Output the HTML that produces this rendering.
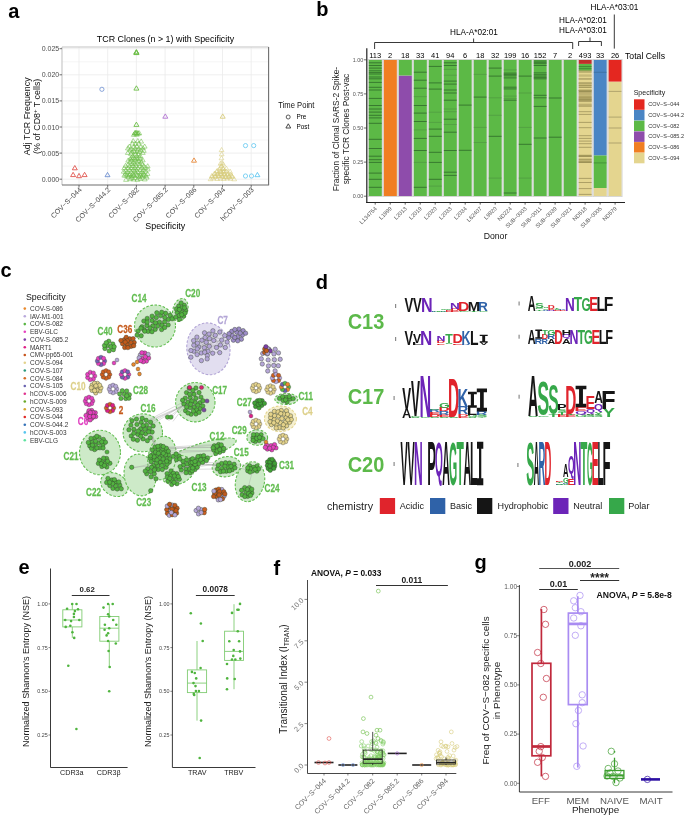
<!DOCTYPE html>
<html><head><meta charset="utf-8"><style>
html,body{margin:0;padding:0;background:#fff;}
svg{display:block;font-family:"Liberation Sans", sans-serif;will-change:transform;}
</style></head><body>
<svg width="685" height="816" viewBox="0 0 685 816">
<rect width="685" height="816" fill="#fff"/>
<text x="8.2" y="18.0" font-size="20" fill="#000" text-anchor="start" font-weight="bold" >a</text>
<text x="316.2" y="15.8" font-size="20" fill="#000" text-anchor="start" font-weight="bold" >b</text>
<text x="0.5" y="276.5" font-size="20" fill="#000" text-anchor="start" font-weight="bold" >c</text>
<text x="315.8" y="288.6" font-size="20" fill="#000" text-anchor="start" font-weight="bold" >d</text>
<text x="18.4" y="573.5" font-size="20" fill="#000" text-anchor="start" font-weight="bold" >e</text>
<text x="273.4" y="575.4" font-size="20" fill="#000" text-anchor="start" font-weight="bold" >f</text>
<text x="474.5" y="568.5" font-size="20" fill="#000" text-anchor="start" font-weight="bold" >g</text>
<rect x="62.0" y="47.0" width="206.6" height="138.0" fill="#fff" stroke="none" stroke-width="1" />
<line x1="62.0" y1="179.2" x2="268.6" y2="179.2" stroke="#ebebeb" stroke-width="0.8" />
<line x1="62.0" y1="166.1" x2="268.6" y2="166.1" stroke="#ebebeb" stroke-width="0.5" />
<line x1="62.0" y1="153.1" x2="268.6" y2="153.1" stroke="#ebebeb" stroke-width="0.8" />
<line x1="62.0" y1="140.0" x2="268.6" y2="140.0" stroke="#ebebeb" stroke-width="0.5" />
<line x1="62.0" y1="127.0" x2="268.6" y2="127.0" stroke="#ebebeb" stroke-width="0.8" />
<line x1="62.0" y1="113.9" x2="268.6" y2="113.9" stroke="#ebebeb" stroke-width="0.5" />
<line x1="62.0" y1="100.9" x2="268.6" y2="100.9" stroke="#ebebeb" stroke-width="0.8" />
<line x1="62.0" y1="87.8" x2="268.6" y2="87.8" stroke="#ebebeb" stroke-width="0.5" />
<line x1="62.0" y1="74.8" x2="268.6" y2="74.8" stroke="#ebebeb" stroke-width="0.8" />
<line x1="62.0" y1="61.8" x2="268.6" y2="61.8" stroke="#ebebeb" stroke-width="0.5" />
<line x1="62.0" y1="48.7" x2="268.6" y2="48.7" stroke="#ebebeb" stroke-width="0.8" />
<line x1="79.0" y1="47.0" x2="79.0" y2="185.0" stroke="#ebebeb" stroke-width="0.8" />
<line x1="107.7" y1="47.0" x2="107.7" y2="185.0" stroke="#ebebeb" stroke-width="0.8" />
<line x1="136.4" y1="47.0" x2="136.4" y2="185.0" stroke="#ebebeb" stroke-width="0.8" />
<line x1="165.1" y1="47.0" x2="165.1" y2="185.0" stroke="#ebebeb" stroke-width="0.8" />
<line x1="193.8" y1="47.0" x2="193.8" y2="185.0" stroke="#ebebeb" stroke-width="0.8" />
<line x1="222.5" y1="47.0" x2="222.5" y2="185.0" stroke="#ebebeb" stroke-width="0.8" />
<line x1="251.2" y1="47.0" x2="251.2" y2="185.0" stroke="#ebebeb" stroke-width="0.8" />
<line x1="62.0" y1="47.0" x2="268.6" y2="47.0" stroke="#c4c4c4" stroke-width="1.1" />
<line x1="62.0" y1="47.0" x2="62.0" y2="185.0" stroke="#c4c4c4" stroke-width="1.1" />
<line x1="268.6" y1="47.0" x2="268.6" y2="185.0" stroke="#6e6e6e" stroke-width="1.1" />
<line x1="62.0" y1="185.0" x2="269.1" y2="185.0" stroke="#6e6e6e" stroke-width="1.1" />
<line x1="59.5" y1="179.2" x2="62.0" y2="179.2" stroke="#4d4d4d" stroke-width="0.8" />
<text x="59.2" y="181.7" font-size="7.0" fill="#4d4d4d" text-anchor="end" font-weight="normal" >0.000</text>
<line x1="59.5" y1="153.1" x2="62.0" y2="153.1" stroke="#4d4d4d" stroke-width="0.8" />
<text x="59.2" y="155.6" font-size="7.0" fill="#4d4d4d" text-anchor="end" font-weight="normal" >0.005</text>
<line x1="59.5" y1="127.0" x2="62.0" y2="127.0" stroke="#4d4d4d" stroke-width="0.8" />
<text x="59.2" y="129.5" font-size="7.0" fill="#4d4d4d" text-anchor="end" font-weight="normal" >0.010</text>
<line x1="59.5" y1="100.9" x2="62.0" y2="100.9" stroke="#4d4d4d" stroke-width="0.8" />
<text x="59.2" y="103.4" font-size="7.0" fill="#4d4d4d" text-anchor="end" font-weight="normal" >0.015</text>
<line x1="59.5" y1="74.8" x2="62.0" y2="74.8" stroke="#4d4d4d" stroke-width="0.8" />
<text x="59.2" y="77.3" font-size="7.0" fill="#4d4d4d" text-anchor="end" font-weight="normal" >0.020</text>
<line x1="59.5" y1="48.7" x2="62.0" y2="48.7" stroke="#4d4d4d" stroke-width="0.8" />
<text x="59.2" y="51.2" font-size="7.0" fill="#4d4d4d" text-anchor="end" font-weight="normal" >0.025</text>
<line x1="79.0" y1="185.0" x2="79.0" y2="187.5" stroke="#4d4d4d" stroke-width="0.8" />
<text x="82.2" y="190.2" font-size="7.1" fill="#4d4d4d" text-anchor="end" font-weight="normal" transform="rotate(-45 82.2 190.2)" >COV−S−044</text>
<line x1="107.7" y1="185.0" x2="107.7" y2="187.5" stroke="#4d4d4d" stroke-width="0.8" />
<text x="110.9" y="190.2" font-size="7.1" fill="#4d4d4d" text-anchor="end" font-weight="normal" transform="rotate(-45 110.9 190.2)" >COV−S−044.2</text>
<line x1="136.4" y1="185.0" x2="136.4" y2="187.5" stroke="#4d4d4d" stroke-width="0.8" />
<text x="139.6" y="190.2" font-size="7.1" fill="#4d4d4d" text-anchor="end" font-weight="normal" transform="rotate(-45 139.6 190.2)" >COV−S−082</text>
<line x1="165.1" y1="185.0" x2="165.1" y2="187.5" stroke="#4d4d4d" stroke-width="0.8" />
<text x="168.3" y="190.2" font-size="7.1" fill="#4d4d4d" text-anchor="end" font-weight="normal" transform="rotate(-45 168.29999999999998 190.2)" >COV−S−085.2</text>
<line x1="193.8" y1="185.0" x2="193.8" y2="187.5" stroke="#4d4d4d" stroke-width="0.8" />
<text x="197.0" y="190.2" font-size="7.1" fill="#4d4d4d" text-anchor="end" font-weight="normal" transform="rotate(-45 197.0 190.2)" >COV−S−086</text>
<line x1="222.5" y1="185.0" x2="222.5" y2="187.5" stroke="#4d4d4d" stroke-width="0.8" />
<text x="225.7" y="190.2" font-size="7.1" fill="#4d4d4d" text-anchor="end" font-weight="normal" transform="rotate(-45 225.7 190.2)" >COV−S−094</text>
<line x1="251.2" y1="185.0" x2="251.2" y2="187.5" stroke="#4d4d4d" stroke-width="0.8" />
<text x="254.4" y="190.2" font-size="7.1" fill="#4d4d4d" text-anchor="end" font-weight="normal" transform="rotate(-45 254.39999999999998 190.2)" >hCOV−S−003</text>
<text x="165.5" y="42.0" font-size="8.9" fill="#000" text-anchor="middle" font-weight="normal" >TCR Clones (n &gt; 1) with Specificity</text>
<text x="29.8" y="116.3" font-size="8.9" fill="#111" text-anchor="middle" font-weight="normal" transform="rotate(-90 29.8 116.3)" >Adj TCR Frequency</text>
<text x="39.6" y="116.3" font-size="8.9" fill="#111" text-anchor="middle" font-weight="normal" transform="rotate(-90 39.6 116.3)" >(% of CD8<tspan font-size="6" dy="-3">+</tspan><tspan dy="3"> T cells)</tspan></text>
<text x="165.3" y="229.3" font-size="8.9" fill="#000" text-anchor="middle" font-weight="normal" >Specificity</text>
<text transform="translate(278.3,108) scale(0.92,1)" font-size="8.3" fill="#111">Time Point</text>
<circle cx="288.2" cy="117.0" r="2.00" fill="none" stroke="#333" stroke-width="0.8" />
<text x="296.4" y="119.1" font-size="6.4" fill="#000" text-anchor="start" font-weight="normal" >Pre</text>
<path d="M285.9,128.0L290.7,128.0L288.3,123.8Z" fill="none" stroke="#333" stroke-width="0.9"/>
<text x="296.4" y="128.6" font-size="6.4" fill="#000" text-anchor="start" font-weight="normal" >Post</text>
<path d="M72.3,169.8L77.3,169.8L74.8,165.5Z" fill="none" stroke="#e0534d" stroke-width="0.9"/>
<path d="M70.6,176.6L75.6,176.6L73.1,172.3Z" fill="none" stroke="#e0534d" stroke-width="0.9"/>
<path d="M76.5,177.7L81.5,177.7L79.0,173.4Z" fill="none" stroke="#e0534d" stroke-width="0.9"/>
<path d="M82.1,176.6L87.1,176.6L84.6,172.3Z" fill="none" stroke="#e0534d" stroke-width="0.9"/>
<circle cx="101.9" cy="89.3" r="2.10" fill="none" stroke="#6d8fd0" stroke-width="0.8" />
<path d="M105.0,176.7L110.0,176.7L107.5,172.4Z" fill="none" stroke="#6d8fd0" stroke-width="0.9"/>
<path d="M133.9,53.9L138.9,53.9L136.4,49.6Z" fill="none" stroke="#6bbd45" stroke-width="0.9"/>
<path d="M133.9,54.2L138.9,54.2L136.4,49.9Z" fill="none" stroke="#6bbd45" stroke-width="0.9"/>
<path d="M133.9,54.6L138.9,54.6L136.4,50.3Z" fill="none" stroke="#6bbd45" stroke-width="0.9"/>
<path d="M133.9,90.1L138.9,90.1L136.4,85.8Z" fill="none" stroke="#6bbd45" stroke-width="0.9"/>
<path d="M133.9,126.4L138.9,126.4L136.4,122.1Z" fill="none" stroke="#6bbd45" stroke-width="0.9"/>
<path d="M132.4,134.9L137.4,134.9L134.9,130.6Z" fill="none" stroke="#6bbd45" stroke-width="0.9"/>
<path d="M133.9,134.9L138.9,134.9L136.4,130.6Z" fill="none" stroke="#6bbd45" stroke-width="0.9"/>
<path d="M135.4,134.9L140.4,134.9L137.9,130.6Z" fill="none" stroke="#6bbd45" stroke-width="0.9"/>
<path d="M123.6,181.3L128.4,181.3L126.0,177.2Z" fill="none" stroke="#6bbd45" stroke-width="0.55"/>
<path d="M127.9,180.7L132.7,180.7L130.3,176.6Z" fill="none" stroke="#6bbd45" stroke-width="0.55"/>
<path d="M131.2,180.9L136.0,180.9L133.6,176.8Z" fill="none" stroke="#6bbd45" stroke-width="0.55"/>
<path d="M135.0,181.3L139.8,181.3L137.4,177.1Z" fill="none" stroke="#6bbd45" stroke-width="0.55"/>
<path d="M137.9,180.5L142.7,180.5L140.3,176.4Z" fill="none" stroke="#6bbd45" stroke-width="0.55"/>
<path d="M142.4,180.9L147.2,180.9L144.8,176.8Z" fill="none" stroke="#6bbd45" stroke-width="0.55"/>
<path d="M126.1,178.6L130.9,178.6L128.5,174.4Z" fill="none" stroke="#6bbd45" stroke-width="0.55"/>
<path d="M129.3,179.3L134.1,179.3L131.7,175.2Z" fill="none" stroke="#6bbd45" stroke-width="0.55"/>
<path d="M132.7,179.5L137.5,179.5L135.1,175.4Z" fill="none" stroke="#6bbd45" stroke-width="0.55"/>
<path d="M137.1,178.6L141.9,178.6L139.5,174.5Z" fill="none" stroke="#6bbd45" stroke-width="0.55"/>
<path d="M139.6,179.1L144.4,179.1L142.0,175.0Z" fill="none" stroke="#6bbd45" stroke-width="0.55"/>
<path d="M144.3,179.0L149.1,179.0L146.7,174.8Z" fill="none" stroke="#6bbd45" stroke-width="0.55"/>
<path d="M123.7,177.1L128.5,177.1L126.1,173.0Z" fill="none" stroke="#6bbd45" stroke-width="0.55"/>
<path d="M127.0,176.9L131.8,176.9L129.4,172.8Z" fill="none" stroke="#6bbd45" stroke-width="0.55"/>
<path d="M131.1,177.2L135.9,177.2L133.5,173.0Z" fill="none" stroke="#6bbd45" stroke-width="0.55"/>
<path d="M134.5,176.9L139.3,176.9L136.9,172.8Z" fill="none" stroke="#6bbd45" stroke-width="0.55"/>
<path d="M138.1,177.1L142.9,177.1L140.5,173.0Z" fill="none" stroke="#6bbd45" stroke-width="0.55"/>
<path d="M141.7,176.7L146.5,176.7L144.1,172.6Z" fill="none" stroke="#6bbd45" stroke-width="0.55"/>
<path d="M121.9,177.1L126.7,177.1L124.3,173.0Z" fill="none" stroke="#6bbd45" stroke-width="0.55"/>
<path d="M125.3,176.8L130.1,176.8L127.7,172.6Z" fill="none" stroke="#6bbd45" stroke-width="0.55"/>
<path d="M129.3,177.4L134.1,177.4L131.7,173.3Z" fill="none" stroke="#6bbd45" stroke-width="0.55"/>
<path d="M131.8,176.9L136.6,176.9L134.2,172.8Z" fill="none" stroke="#6bbd45" stroke-width="0.55"/>
<path d="M136.2,177.3L141.0,177.3L138.6,173.1Z" fill="none" stroke="#6bbd45" stroke-width="0.55"/>
<path d="M140.0,177.0L144.8,177.0L142.4,172.9Z" fill="none" stroke="#6bbd45" stroke-width="0.55"/>
<path d="M143.5,177.3L148.3,177.3L145.9,173.1Z" fill="none" stroke="#6bbd45" stroke-width="0.55"/>
<path d="M123.1,175.3L127.9,175.3L125.5,171.1Z" fill="none" stroke="#6bbd45" stroke-width="0.55"/>
<path d="M127.4,175.5L132.2,175.5L129.8,171.4Z" fill="none" stroke="#6bbd45" stroke-width="0.55"/>
<path d="M130.5,175.3L135.3,175.3L132.9,171.1Z" fill="none" stroke="#6bbd45" stroke-width="0.55"/>
<path d="M133.5,174.9L138.3,174.9L135.9,170.8Z" fill="none" stroke="#6bbd45" stroke-width="0.55"/>
<path d="M138.1,175.1L142.9,175.1L140.5,170.9Z" fill="none" stroke="#6bbd45" stroke-width="0.55"/>
<path d="M140.9,175.2L145.7,175.2L143.3,171.1Z" fill="none" stroke="#6bbd45" stroke-width="0.55"/>
<path d="M145.1,175.4L149.9,175.4L147.5,171.2Z" fill="none" stroke="#6bbd45" stroke-width="0.55"/>
<path d="M121.3,173.2L126.1,173.2L123.7,169.1Z" fill="none" stroke="#6bbd45" stroke-width="0.55"/>
<path d="M125.1,173.6L129.9,173.6L127.5,169.4Z" fill="none" stroke="#6bbd45" stroke-width="0.55"/>
<path d="M128.7,173.2L133.5,173.2L131.1,169.0Z" fill="none" stroke="#6bbd45" stroke-width="0.55"/>
<path d="M132.3,172.8L137.1,172.8L134.7,168.7Z" fill="none" stroke="#6bbd45" stroke-width="0.55"/>
<path d="M135.4,173.5L140.2,173.5L137.8,169.3Z" fill="none" stroke="#6bbd45" stroke-width="0.55"/>
<path d="M140.1,173.4L144.9,173.4L142.5,169.2Z" fill="none" stroke="#6bbd45" stroke-width="0.55"/>
<path d="M143.0,173.0L147.8,173.0L145.4,168.8Z" fill="none" stroke="#6bbd45" stroke-width="0.55"/>
<path d="M123.3,171.9L128.1,171.9L125.7,167.7Z" fill="none" stroke="#6bbd45" stroke-width="0.55"/>
<path d="M127.2,171.4L132.0,171.4L129.6,167.3Z" fill="none" stroke="#6bbd45" stroke-width="0.55"/>
<path d="M130.9,171.1L135.7,171.1L133.3,167.0Z" fill="none" stroke="#6bbd45" stroke-width="0.55"/>
<path d="M134.1,171.8L138.9,171.8L136.5,167.7Z" fill="none" stroke="#6bbd45" stroke-width="0.55"/>
<path d="M137.8,171.3L142.6,171.3L140.2,167.2Z" fill="none" stroke="#6bbd45" stroke-width="0.55"/>
<path d="M141.0,171.4L145.8,171.4L143.4,167.3Z" fill="none" stroke="#6bbd45" stroke-width="0.55"/>
<path d="M145.4,170.9L150.2,170.9L147.8,166.7Z" fill="none" stroke="#6bbd45" stroke-width="0.55"/>
<path d="M121.8,169.8L126.6,169.8L124.2,165.6Z" fill="none" stroke="#6bbd45" stroke-width="0.55"/>
<path d="M125.6,169.7L130.4,169.7L128.0,165.6Z" fill="none" stroke="#6bbd45" stroke-width="0.55"/>
<path d="M129.1,169.5L133.9,169.5L131.5,165.3Z" fill="none" stroke="#6bbd45" stroke-width="0.55"/>
<path d="M132.4,169.4L137.2,169.4L134.8,165.3Z" fill="none" stroke="#6bbd45" stroke-width="0.55"/>
<path d="M135.4,169.9L140.2,169.9L137.8,165.7Z" fill="none" stroke="#6bbd45" stroke-width="0.55"/>
<path d="M139.6,169.2L144.4,169.2L142.0,165.0Z" fill="none" stroke="#6bbd45" stroke-width="0.55"/>
<path d="M143.1,169.5L147.9,169.5L145.5,165.3Z" fill="none" stroke="#6bbd45" stroke-width="0.55"/>
<path d="M123.1,167.4L127.9,167.4L125.5,163.3Z" fill="none" stroke="#6bbd45" stroke-width="0.55"/>
<path d="M126.9,167.7L131.7,167.7L129.3,163.6Z" fill="none" stroke="#6bbd45" stroke-width="0.55"/>
<path d="M130.6,167.5L135.4,167.5L133.0,163.4Z" fill="none" stroke="#6bbd45" stroke-width="0.55"/>
<path d="M133.5,167.3L138.3,167.3L135.9,163.2Z" fill="none" stroke="#6bbd45" stroke-width="0.55"/>
<path d="M137.3,167.7L142.1,167.7L139.7,163.5Z" fill="none" stroke="#6bbd45" stroke-width="0.55"/>
<path d="M141.7,167.9L146.5,167.9L144.1,163.7Z" fill="none" stroke="#6bbd45" stroke-width="0.55"/>
<path d="M145.3,167.9L150.1,167.9L147.7,163.7Z" fill="none" stroke="#6bbd45" stroke-width="0.55"/>
<path d="M125.7,166.2L130.5,166.2L128.1,162.1Z" fill="none" stroke="#6bbd45" stroke-width="0.55"/>
<path d="M129.8,165.5L134.6,165.5L132.2,161.3Z" fill="none" stroke="#6bbd45" stroke-width="0.55"/>
<path d="M132.6,165.4L137.4,165.4L135.0,161.2Z" fill="none" stroke="#6bbd45" stroke-width="0.55"/>
<path d="M137.1,165.6L141.9,165.6L139.5,161.5Z" fill="none" stroke="#6bbd45" stroke-width="0.55"/>
<path d="M139.9,166.0L144.7,166.0L142.3,161.9Z" fill="none" stroke="#6bbd45" stroke-width="0.55"/>
<path d="M127.6,163.6L132.4,163.6L130.0,159.4Z" fill="none" stroke="#6bbd45" stroke-width="0.55"/>
<path d="M131.0,164.0L135.8,164.0L133.4,159.9Z" fill="none" stroke="#6bbd45" stroke-width="0.55"/>
<path d="M134.6,163.8L139.4,163.8L137.0,159.6Z" fill="none" stroke="#6bbd45" stroke-width="0.55"/>
<path d="M138.9,163.9L143.7,163.9L141.3,159.8Z" fill="none" stroke="#6bbd45" stroke-width="0.55"/>
<path d="M125.8,162.1L130.6,162.1L128.2,157.9Z" fill="none" stroke="#6bbd45" stroke-width="0.55"/>
<path d="M129.0,162.0L133.8,162.0L131.4,157.8Z" fill="none" stroke="#6bbd45" stroke-width="0.55"/>
<path d="M133.1,161.8L137.9,161.8L135.5,157.6Z" fill="none" stroke="#6bbd45" stroke-width="0.55"/>
<path d="M136.3,162.5L141.1,162.5L138.7,158.3Z" fill="none" stroke="#6bbd45" stroke-width="0.55"/>
<path d="M140.4,161.8L145.2,161.8L142.8,157.6Z" fill="none" stroke="#6bbd45" stroke-width="0.55"/>
<path d="M127.9,160.5L132.7,160.5L130.3,156.3Z" fill="none" stroke="#6bbd45" stroke-width="0.55"/>
<path d="M130.8,159.7L135.6,159.7L133.2,155.5Z" fill="none" stroke="#6bbd45" stroke-width="0.55"/>
<path d="M134.6,160.4L139.4,160.4L137.0,156.2Z" fill="none" stroke="#6bbd45" stroke-width="0.55"/>
<path d="M138.2,160.4L143.0,160.4L140.6,156.2Z" fill="none" stroke="#6bbd45" stroke-width="0.55"/>
<path d="M129.2,159.4L134.0,159.4L131.6,155.3Z" fill="none" stroke="#6bbd45" stroke-width="0.55"/>
<path d="M132.3,159.9L137.1,159.9L134.7,155.7Z" fill="none" stroke="#6bbd45" stroke-width="0.55"/>
<path d="M136.6,159.4L141.4,159.4L139.0,155.2Z" fill="none" stroke="#6bbd45" stroke-width="0.55"/>
<path d="M130.5,157.6L135.3,157.6L132.9,153.5Z" fill="none" stroke="#6bbd45" stroke-width="0.55"/>
<path d="M134.3,157.6L139.1,157.6L136.7,153.4Z" fill="none" stroke="#6bbd45" stroke-width="0.55"/>
<path d="M137.8,157.6L142.6,157.6L140.2,153.5Z" fill="none" stroke="#6bbd45" stroke-width="0.55"/>
<path d="M128.5,155.4L133.3,155.4L130.9,151.2Z" fill="none" stroke="#6bbd45" stroke-width="0.55"/>
<path d="M133.2,156.0L138.0,156.0L135.6,151.8Z" fill="none" stroke="#6bbd45" stroke-width="0.55"/>
<path d="M136.0,155.9L140.8,155.9L138.4,151.8Z" fill="none" stroke="#6bbd45" stroke-width="0.55"/>
<path d="M125.4,154.4L130.2,154.4L127.8,150.3Z" fill="none" stroke="#6bbd45" stroke-width="0.55"/>
<path d="M129.5,153.9L134.3,153.9L131.9,149.7Z" fill="none" stroke="#6bbd45" stroke-width="0.55"/>
<path d="M132.5,153.5L137.3,153.5L134.9,149.3Z" fill="none" stroke="#6bbd45" stroke-width="0.55"/>
<path d="M136.9,153.5L141.7,153.5L139.3,149.4Z" fill="none" stroke="#6bbd45" stroke-width="0.55"/>
<path d="M140.4,154.4L145.2,154.4L142.8,150.3Z" fill="none" stroke="#6bbd45" stroke-width="0.55"/>
<path d="M127.5,151.8L132.3,151.8L129.9,147.6Z" fill="none" stroke="#6bbd45" stroke-width="0.55"/>
<path d="M131.4,152.6L136.2,152.6L133.8,148.4Z" fill="none" stroke="#6bbd45" stroke-width="0.55"/>
<path d="M134.8,152.1L139.6,152.1L137.2,147.9Z" fill="none" stroke="#6bbd45" stroke-width="0.55"/>
<path d="M138.1,151.9L142.9,151.9L140.5,147.8Z" fill="none" stroke="#6bbd45" stroke-width="0.55"/>
<path d="M141.4,152.3L146.2,152.3L143.8,148.1Z" fill="none" stroke="#6bbd45" stroke-width="0.55"/>
<path d="M125.5,149.9L130.3,149.9L127.9,145.7Z" fill="none" stroke="#6bbd45" stroke-width="0.55"/>
<path d="M128.7,150.4L133.5,150.4L131.1,146.2Z" fill="none" stroke="#6bbd45" stroke-width="0.55"/>
<path d="M132.6,150.2L137.4,150.2L135.0,146.0Z" fill="none" stroke="#6bbd45" stroke-width="0.55"/>
<path d="M136.2,150.6L141.0,150.6L138.6,146.4Z" fill="none" stroke="#6bbd45" stroke-width="0.55"/>
<path d="M140.5,149.7L145.3,149.7L142.9,145.5Z" fill="none" stroke="#6bbd45" stroke-width="0.55"/>
<path d="M127.0,148.1L131.8,148.1L129.4,144.0Z" fill="none" stroke="#6bbd45" stroke-width="0.55"/>
<path d="M131.6,148.6L136.4,148.6L134.0,144.4Z" fill="none" stroke="#6bbd45" stroke-width="0.55"/>
<path d="M134.4,148.0L139.2,148.0L136.8,143.8Z" fill="none" stroke="#6bbd45" stroke-width="0.55"/>
<path d="M138.4,148.6L143.2,148.6L140.8,144.5Z" fill="none" stroke="#6bbd45" stroke-width="0.55"/>
<path d="M142.3,148.1L147.1,148.1L144.7,144.0Z" fill="none" stroke="#6bbd45" stroke-width="0.55"/>
<path d="M130.0,145.1L134.8,145.1L132.4,140.9Z" fill="none" stroke="#6bbd45" stroke-width="0.55"/>
<path d="M133.1,145.4L137.9,145.4L135.5,141.2Z" fill="none" stroke="#6bbd45" stroke-width="0.55"/>
<path d="M136.4,145.1L141.2,145.1L138.8,141.0Z" fill="none" stroke="#6bbd45" stroke-width="0.55"/>
<path d="M130.8,142.7L135.6,142.7L133.2,138.5Z" fill="none" stroke="#6bbd45" stroke-width="0.55"/>
<path d="M135.4,142.7L140.2,142.7L137.8,138.5Z" fill="none" stroke="#6bbd45" stroke-width="0.55"/>
<path d="M138.8,143.1L143.6,143.1L141.2,138.9Z" fill="none" stroke="#6bbd45" stroke-width="0.55"/>
<path d="M131.4,136.3L136.2,136.3L133.8,132.1Z" fill="none" stroke="#6bbd45" stroke-width="0.55"/>
<path d="M134.4,136.2L139.2,136.2L136.8,132.0Z" fill="none" stroke="#6bbd45" stroke-width="0.55"/>
<path d="M133.2,134.6L138.0,134.6L135.6,130.4Z" fill="none" stroke="#6bbd45" stroke-width="0.55"/>
<path d="M136.9,134.9L141.7,134.9L139.3,130.7Z" fill="none" stroke="#6bbd45" stroke-width="0.55"/>
<path d="M162.8,118.2L167.8,118.2L165.3,113.9Z" fill="none" stroke="#b072d1" stroke-width="0.9"/>
<path d="M191.5,162.2L196.5,162.2L194.0,157.9Z" fill="none" stroke="#e8893a" stroke-width="0.9"/>
<path d="M220.2,118.2L225.2,118.2L222.7,113.9Z" fill="none" stroke="#d7cb7a" stroke-width="0.9"/>
<path d="M208.2,180.7L213.0,180.7L210.6,176.6Z" fill="none" stroke="#d7cb7a" stroke-width="0.55"/>
<path d="M210.6,179.9L215.4,179.9L213.0,175.7Z" fill="none" stroke="#d7cb7a" stroke-width="0.55"/>
<path d="M214.9,180.5L219.7,180.5L217.3,176.4Z" fill="none" stroke="#d7cb7a" stroke-width="0.55"/>
<path d="M218.1,180.1L222.9,180.1L220.5,175.9Z" fill="none" stroke="#d7cb7a" stroke-width="0.55"/>
<path d="M221.4,180.4L226.2,180.4L223.8,176.2Z" fill="none" stroke="#d7cb7a" stroke-width="0.55"/>
<path d="M224.8,179.9L229.6,179.9L227.2,175.8Z" fill="none" stroke="#d7cb7a" stroke-width="0.55"/>
<path d="M228.0,180.2L232.8,180.2L230.4,176.0Z" fill="none" stroke="#d7cb7a" stroke-width="0.55"/>
<path d="M231.8,180.8L236.6,180.8L234.2,176.6Z" fill="none" stroke="#d7cb7a" stroke-width="0.55"/>
<path d="M209.9,178.1L214.7,178.1L212.3,174.0Z" fill="none" stroke="#d7cb7a" stroke-width="0.55"/>
<path d="M212.7,177.9L217.5,177.9L215.1,173.7Z" fill="none" stroke="#d7cb7a" stroke-width="0.55"/>
<path d="M215.6,177.6L220.4,177.6L218.0,173.5Z" fill="none" stroke="#d7cb7a" stroke-width="0.55"/>
<path d="M219.6,177.9L224.4,177.9L222.0,173.7Z" fill="none" stroke="#d7cb7a" stroke-width="0.55"/>
<path d="M222.9,178.5L227.7,178.5L225.3,174.3Z" fill="none" stroke="#d7cb7a" stroke-width="0.55"/>
<path d="M226.4,178.1L231.2,178.1L228.8,174.0Z" fill="none" stroke="#d7cb7a" stroke-width="0.55"/>
<path d="M229.5,177.6L234.3,177.6L231.9,173.5Z" fill="none" stroke="#d7cb7a" stroke-width="0.55"/>
<path d="M209.5,177.5L214.3,177.5L211.9,173.4Z" fill="none" stroke="#d7cb7a" stroke-width="0.55"/>
<path d="M213.1,178.4L217.9,178.4L215.5,174.2Z" fill="none" stroke="#d7cb7a" stroke-width="0.55"/>
<path d="M216.7,177.6L221.5,177.6L219.1,173.4Z" fill="none" stroke="#d7cb7a" stroke-width="0.55"/>
<path d="M220.4,178.2L225.2,178.2L222.8,174.0Z" fill="none" stroke="#d7cb7a" stroke-width="0.55"/>
<path d="M223.6,178.3L228.4,178.3L226.0,174.1Z" fill="none" stroke="#d7cb7a" stroke-width="0.55"/>
<path d="M227.0,178.2L231.8,178.2L229.4,174.0Z" fill="none" stroke="#d7cb7a" stroke-width="0.55"/>
<path d="M229.9,178.4L234.7,178.4L232.3,174.2Z" fill="none" stroke="#d7cb7a" stroke-width="0.55"/>
<path d="M212.0,175.3L216.8,175.3L214.4,171.2Z" fill="none" stroke="#d7cb7a" stroke-width="0.55"/>
<path d="M215.1,175.9L219.9,175.9L217.5,171.7Z" fill="none" stroke="#d7cb7a" stroke-width="0.55"/>
<path d="M218.2,175.7L223.0,175.7L220.6,171.6Z" fill="none" stroke="#d7cb7a" stroke-width="0.55"/>
<path d="M221.6,176.1L226.4,176.1L224.0,172.0Z" fill="none" stroke="#d7cb7a" stroke-width="0.55"/>
<path d="M225.0,176.0L229.8,176.0L227.4,171.9Z" fill="none" stroke="#d7cb7a" stroke-width="0.55"/>
<path d="M228.2,176.1L233.0,176.1L230.6,171.9Z" fill="none" stroke="#d7cb7a" stroke-width="0.55"/>
<path d="M212.7,175.3L217.5,175.3L215.1,171.2Z" fill="none" stroke="#d7cb7a" stroke-width="0.55"/>
<path d="M215.7,175.8L220.5,175.8L218.1,171.6Z" fill="none" stroke="#d7cb7a" stroke-width="0.55"/>
<path d="M219.3,175.4L224.1,175.4L221.7,171.2Z" fill="none" stroke="#d7cb7a" stroke-width="0.55"/>
<path d="M222.1,175.2L226.9,175.2L224.5,171.1Z" fill="none" stroke="#d7cb7a" stroke-width="0.55"/>
<path d="M226.0,175.1L230.8,175.1L228.4,170.9Z" fill="none" stroke="#d7cb7a" stroke-width="0.55"/>
<path d="M214.4,173.0L219.2,173.0L216.8,168.8Z" fill="none" stroke="#d7cb7a" stroke-width="0.55"/>
<path d="M217.8,173.0L222.6,173.0L220.2,168.8Z" fill="none" stroke="#d7cb7a" stroke-width="0.55"/>
<path d="M221.2,173.4L226.0,173.4L223.6,169.2Z" fill="none" stroke="#d7cb7a" stroke-width="0.55"/>
<path d="M224.1,173.2L228.9,173.2L226.5,169.0Z" fill="none" stroke="#d7cb7a" stroke-width="0.55"/>
<path d="M227.7,173.3L232.5,173.3L230.1,169.1Z" fill="none" stroke="#d7cb7a" stroke-width="0.55"/>
<path d="M215.0,172.6L219.8,172.6L217.4,168.4Z" fill="none" stroke="#d7cb7a" stroke-width="0.55"/>
<path d="M218.6,173.3L223.4,173.3L221.0,169.2Z" fill="none" stroke="#d7cb7a" stroke-width="0.55"/>
<path d="M222.1,172.5L226.9,172.5L224.5,168.3Z" fill="none" stroke="#d7cb7a" stroke-width="0.55"/>
<path d="M217.3,170.9L222.1,170.9L219.7,166.8Z" fill="none" stroke="#d7cb7a" stroke-width="0.55"/>
<path d="M220.8,170.4L225.6,170.4L223.2,166.2Z" fill="none" stroke="#d7cb7a" stroke-width="0.55"/>
<path d="M224.0,170.2L228.8,170.2L226.4,166.1Z" fill="none" stroke="#d7cb7a" stroke-width="0.55"/>
<path d="M217.9,169.7L222.7,169.7L220.3,165.5Z" fill="none" stroke="#d7cb7a" stroke-width="0.55"/>
<path d="M220.8,170.3L225.6,170.3L223.2,166.1Z" fill="none" stroke="#d7cb7a" stroke-width="0.55"/>
<path d="M218.9,167.7L223.7,167.7L221.3,163.6Z" fill="none" stroke="#d7cb7a" stroke-width="0.55"/>
<path d="M218.1,165.2L222.9,165.2L220.5,161.1Z" fill="none" stroke="#d7cb7a" stroke-width="0.55"/>
<path d="M220.8,165.9L225.6,165.9L223.2,161.7Z" fill="none" stroke="#d7cb7a" stroke-width="0.55"/>
<path d="M219.6,164.6L224.4,164.6L222.0,160.4Z" fill="none" stroke="#d7cb7a" stroke-width="0.55"/>
<path d="M219.1,159.8L223.9,159.8L221.5,155.7Z" fill="none" stroke="#d7cb7a" stroke-width="0.55"/>
<path d="M219.3,155.8L224.1,155.8L221.7,151.6Z" fill="none" stroke="#d7cb7a" stroke-width="0.55"/>
<path d="M219.2,151.6L224.0,151.6L221.6,147.5Z" fill="none" stroke="#d7cb7a" stroke-width="0.55"/>
<circle cx="245.5" cy="145.6" r="2.10" fill="none" stroke="#5fc6f0" stroke-width="0.8" />
<circle cx="253.7" cy="145.6" r="2.10" fill="none" stroke="#5fc6f0" stroke-width="0.8" />
<circle cx="245.5" cy="176.0" r="2.10" fill="none" stroke="#5fc6f0" stroke-width="0.8" />
<circle cx="251.5" cy="176.0" r="2.10" fill="none" stroke="#5fc6f0" stroke-width="0.8" />
<path d="M254.9,176.7L259.9,176.7L257.4,172.4Z" fill="none" stroke="#5fc6f0" stroke-width="0.9"/>
<rect x="368.6" y="59.8" width="13.3" height="136.4" fill="#5cb946" stroke="none" stroke-width="1" />
<line x1="368.6" y1="62.8" x2="381.9" y2="62.8" stroke="#2f6a2a" stroke-width="0.8" />
<line x1="368.6" y1="65.5" x2="381.9" y2="65.5" stroke="#2f6a2a" stroke-width="0.8" />
<line x1="368.6" y1="68.1" x2="381.9" y2="68.1" stroke="#2f6a2a" stroke-width="0.8" />
<line x1="368.6" y1="70.8" x2="381.9" y2="70.8" stroke="#2f6a2a" stroke-width="0.8" />
<line x1="368.6" y1="72.6" x2="381.9" y2="72.6" stroke="#2f6a2a" stroke-width="0.8" />
<line x1="368.6" y1="74.0" x2="381.9" y2="74.0" stroke="#2f6a2a" stroke-width="0.8" />
<line x1="368.6" y1="77.0" x2="381.9" y2="77.0" stroke="#2f6a2a" stroke-width="0.8" />
<line x1="368.6" y1="78.8" x2="381.9" y2="78.8" stroke="#2f6a2a" stroke-width="0.8" />
<line x1="368.6" y1="82.4" x2="381.9" y2="82.4" stroke="#2f6a2a" stroke-width="0.8" />
<line x1="368.6" y1="87.3" x2="381.9" y2="87.3" stroke="#2f6a2a" stroke-width="0.8" />
<line x1="368.6" y1="90.0" x2="381.9" y2="90.0" stroke="#2f6a2a" stroke-width="0.8" />
<line x1="368.6" y1="98.4" x2="381.9" y2="98.4" stroke="#2f6a2a" stroke-width="0.8" />
<line x1="368.6" y1="105.5" x2="381.9" y2="105.5" stroke="#2f6a2a" stroke-width="0.8" />
<line x1="368.6" y1="109.0" x2="381.9" y2="109.0" stroke="#2f6a2a" stroke-width="0.8" />
<line x1="368.6" y1="112.1" x2="381.9" y2="112.1" stroke="#2f6a2a" stroke-width="0.8" />
<line x1="368.6" y1="115.3" x2="381.9" y2="115.3" stroke="#2f6a2a" stroke-width="0.8" />
<line x1="368.6" y1="117.9" x2="381.9" y2="117.9" stroke="#2f6a2a" stroke-width="0.8" />
<line x1="368.6" y1="123.3" x2="381.9" y2="123.3" stroke="#2f6a2a" stroke-width="0.8" />
<line x1="368.6" y1="139.3" x2="381.9" y2="139.3" stroke="#2f6a2a" stroke-width="0.8" />
<line x1="368.6" y1="148.5" x2="381.9" y2="148.5" stroke="#2f6a2a" stroke-width="0.8" />
<line x1="368.6" y1="156.2" x2="381.9" y2="156.2" stroke="#2f6a2a" stroke-width="0.8" />
<line x1="368.6" y1="159.7" x2="381.9" y2="159.7" stroke="#2f6a2a" stroke-width="0.8" />
<line x1="368.6" y1="162.4" x2="381.9" y2="162.4" stroke="#2f6a2a" stroke-width="0.8" />
<line x1="368.6" y1="173.1" x2="381.9" y2="173.1" stroke="#2f6a2a" stroke-width="0.8" />
<line x1="368.6" y1="179.3" x2="381.9" y2="179.3" stroke="#2f6a2a" stroke-width="0.8" />
<line x1="368.6" y1="187.3" x2="381.9" y2="187.3" stroke="#2f6a2a" stroke-width="0.8" />
<rect x="368.2" y="59.4" width="14.1" height="137.2" fill="none" stroke="#d0d0d0" stroke-width="0.8" />
<text x="375.2" y="58.0" font-size="7.5" fill="#000" text-anchor="middle" font-weight="normal" >113</text>
<line x1="375.2" y1="202.5" x2="375.2" y2="204.6" stroke="#333" stroke-width="0.8" />
<text x="377.2" y="209.0" font-size="5.6" fill="#555" text-anchor="end" font-weight="normal" transform="rotate(-45 377.25 209)" >L134754</text>
<rect x="383.6" y="59.8" width="13.3" height="136.4" fill="#f07e22" stroke="none" stroke-width="1" />
<rect x="383.2" y="59.4" width="14.1" height="137.2" fill="none" stroke="#d0d0d0" stroke-width="0.8" />
<text x="390.2" y="58.0" font-size="7.5" fill="#000" text-anchor="middle" font-weight="normal" >2</text>
<line x1="390.2" y1="202.5" x2="390.2" y2="204.6" stroke="#333" stroke-width="0.8" />
<text x="392.2" y="209.0" font-size="5.6" fill="#555" text-anchor="end" font-weight="normal" transform="rotate(-45 392.24 209)" >L1999</text>
<rect x="398.6" y="75.5" width="13.3" height="120.7" fill="#8e4cab" stroke="none" stroke-width="1" />
<rect x="398.6" y="59.8" width="13.3" height="15.7" fill="#5cb946" stroke="none" stroke-width="1" />
<rect x="398.2" y="59.4" width="14.1" height="137.2" fill="none" stroke="#d0d0d0" stroke-width="0.8" />
<text x="405.2" y="58.0" font-size="7.5" fill="#000" text-anchor="middle" font-weight="normal" >18</text>
<line x1="405.2" y1="202.5" x2="405.2" y2="204.6" stroke="#333" stroke-width="0.8" />
<text x="407.2" y="209.0" font-size="5.6" fill="#555" text-anchor="end" font-weight="normal" transform="rotate(-45 407.23 209)" >L2013</text>
<rect x="413.6" y="59.8" width="13.3" height="136.4" fill="#5cb946" stroke="none" stroke-width="1" />
<line x1="413.6" y1="72.2" x2="426.9" y2="72.2" stroke="#2f6a2a" stroke-width="0.8" />
<line x1="413.6" y1="80.2" x2="426.9" y2="80.2" stroke="#2f6a2a" stroke-width="0.8" />
<line x1="413.6" y1="88.2" x2="426.9" y2="88.2" stroke="#2f6a2a" stroke-width="0.8" />
<line x1="413.6" y1="96.6" x2="426.9" y2="96.6" stroke="#4f9a40" stroke-width="0.7" />
<line x1="413.6" y1="105.5" x2="426.9" y2="105.5" stroke="#2f6a2a" stroke-width="0.8" />
<line x1="413.6" y1="113.1" x2="426.9" y2="113.1" stroke="#2f6a2a" stroke-width="0.8" />
<line x1="413.6" y1="121.5" x2="426.9" y2="121.5" stroke="#2f6a2a" stroke-width="0.8" />
<line x1="413.6" y1="129.9" x2="426.9" y2="129.9" stroke="#4f9a40" stroke-width="0.7" />
<line x1="413.6" y1="138.4" x2="426.9" y2="138.4" stroke="#2f6a2a" stroke-width="0.8" />
<line x1="413.6" y1="150.5" x2="426.9" y2="150.5" stroke="#2f6a2a" stroke-width="0.8" />
<line x1="413.6" y1="162.4" x2="426.9" y2="162.4" stroke="#4f9a40" stroke-width="0.7" />
<line x1="413.6" y1="187.3" x2="426.9" y2="187.3" stroke="#2f6a2a" stroke-width="0.8" />
<rect x="413.2" y="59.4" width="14.1" height="137.2" fill="none" stroke="#d0d0d0" stroke-width="0.8" />
<text x="420.2" y="58.0" font-size="7.5" fill="#000" text-anchor="middle" font-weight="normal" >33</text>
<line x1="420.2" y1="202.5" x2="420.2" y2="204.6" stroke="#333" stroke-width="0.8" />
<text x="422.2" y="209.0" font-size="5.6" fill="#555" text-anchor="end" font-weight="normal" transform="rotate(-45 422.22 209)" >L2019</text>
<rect x="428.6" y="59.8" width="13.3" height="136.4" fill="#5cb946" stroke="none" stroke-width="1" />
<line x1="428.6" y1="66.4" x2="441.9" y2="66.4" stroke="#2f6a2a" stroke-width="0.8" />
<line x1="428.6" y1="82.9" x2="441.9" y2="82.9" stroke="#2f6a2a" stroke-width="0.8" />
<line x1="428.6" y1="89.1" x2="441.9" y2="89.1" stroke="#2f6a2a" stroke-width="0.8" />
<line x1="428.6" y1="112.2" x2="441.9" y2="112.2" stroke="#4f9a40" stroke-width="0.7" />
<line x1="428.6" y1="122.4" x2="441.9" y2="122.4" stroke="#4f9a40" stroke-width="0.7" />
<line x1="428.6" y1="129.1" x2="441.9" y2="129.1" stroke="#2f6a2a" stroke-width="0.8" />
<line x1="428.6" y1="136.3" x2="441.9" y2="136.3" stroke="#2f6a2a" stroke-width="0.8" />
<line x1="428.6" y1="152.3" x2="441.9" y2="152.3" stroke="#2f6a2a" stroke-width="0.8" />
<line x1="428.6" y1="162.4" x2="441.9" y2="162.4" stroke="#2f6a2a" stroke-width="0.8" />
<line x1="428.6" y1="179.3" x2="441.9" y2="179.3" stroke="#2f6a2a" stroke-width="0.8" />
<line x1="428.6" y1="186.1" x2="441.9" y2="186.1" stroke="#4f9a40" stroke-width="0.7" />
<rect x="428.2" y="59.4" width="14.1" height="137.2" fill="none" stroke="#d0d0d0" stroke-width="0.8" />
<text x="435.2" y="58.0" font-size="7.5" fill="#000" text-anchor="middle" font-weight="normal" >41</text>
<line x1="435.2" y1="202.5" x2="435.2" y2="204.6" stroke="#333" stroke-width="0.8" />
<text x="437.2" y="209.0" font-size="5.6" fill="#555" text-anchor="end" font-weight="normal" transform="rotate(-45 437.21 209)" >L2020</text>
<rect x="443.6" y="59.8" width="13.3" height="136.4" fill="#5cb946" stroke="none" stroke-width="1" />
<line x1="443.6" y1="62.8" x2="456.9" y2="62.8" stroke="#2f6a2a" stroke-width="0.8" />
<line x1="443.6" y1="65.5" x2="456.9" y2="65.5" stroke="#2f6a2a" stroke-width="0.8" />
<line x1="443.6" y1="69.4" x2="456.9" y2="69.4" stroke="#4f9a40" stroke-width="0.7" />
<line x1="443.6" y1="75.2" x2="456.9" y2="75.2" stroke="#4f9a40" stroke-width="0.7" />
<line x1="443.6" y1="81.1" x2="456.9" y2="81.1" stroke="#2f6a2a" stroke-width="0.8" />
<line x1="443.6" y1="84.1" x2="456.9" y2="84.1" stroke="#2f6a2a" stroke-width="0.8" />
<line x1="443.6" y1="90.0" x2="456.9" y2="90.0" stroke="#2f6a2a" stroke-width="0.8" />
<line x1="443.6" y1="93.0" x2="456.9" y2="93.0" stroke="#2f6a2a" stroke-width="0.8" />
<line x1="443.6" y1="100.2" x2="456.9" y2="100.2" stroke="#2f6a2a" stroke-width="0.8" />
<line x1="443.6" y1="109.0" x2="456.9" y2="109.0" stroke="#4f9a40" stroke-width="0.7" />
<line x1="443.6" y1="111.7" x2="456.9" y2="111.7" stroke="#4f9a40" stroke-width="0.7" />
<line x1="443.6" y1="119.2" x2="456.9" y2="119.2" stroke="#2f6a2a" stroke-width="0.8" />
<line x1="443.6" y1="124.5" x2="456.9" y2="124.5" stroke="#4f9a40" stroke-width="0.7" />
<line x1="443.6" y1="132.2" x2="456.9" y2="132.2" stroke="#2f6a2a" stroke-width="0.8" />
<line x1="443.6" y1="150.5" x2="456.9" y2="150.5" stroke="#2f6a2a" stroke-width="0.8" />
<line x1="443.6" y1="172.2" x2="456.9" y2="172.2" stroke="#2f6a2a" stroke-width="0.8" />
<line x1="443.6" y1="175.4" x2="456.9" y2="175.4" stroke="#2f6a2a" stroke-width="0.8" />
<rect x="443.2" y="59.4" width="14.1" height="137.2" fill="none" stroke="#d0d0d0" stroke-width="0.8" />
<text x="450.2" y="58.0" font-size="7.5" fill="#000" text-anchor="middle" font-weight="normal" >94</text>
<line x1="450.2" y1="202.5" x2="450.2" y2="204.6" stroke="#333" stroke-width="0.8" />
<text x="452.2" y="209.0" font-size="5.6" fill="#555" text-anchor="end" font-weight="normal" transform="rotate(-45 452.2 209)" >L2033</text>
<rect x="458.5" y="59.8" width="13.3" height="136.4" fill="#5cb946" stroke="none" stroke-width="1" />
<line x1="458.5" y1="105.1" x2="471.8" y2="105.1" stroke="#2f6a2a" stroke-width="0.8" />
<line x1="458.5" y1="150.3" x2="471.8" y2="150.3" stroke="#2f6a2a" stroke-width="0.8" />
<rect x="458.1" y="59.4" width="14.1" height="137.2" fill="none" stroke="#d0d0d0" stroke-width="0.8" />
<text x="465.2" y="58.0" font-size="7.5" fill="#000" text-anchor="middle" font-weight="normal" >6</text>
<line x1="465.2" y1="202.5" x2="465.2" y2="204.6" stroke="#333" stroke-width="0.8" />
<text x="467.2" y="209.0" font-size="5.6" fill="#555" text-anchor="end" font-weight="normal" transform="rotate(-45 467.19 209)" >L2034</text>
<rect x="473.5" y="59.8" width="13.3" height="136.4" fill="#5cb946" stroke="none" stroke-width="1" />
<line x1="473.5" y1="74.4" x2="486.8" y2="74.4" stroke="#4f9a40" stroke-width="0.7" />
<line x1="473.5" y1="97.1" x2="486.8" y2="97.1" stroke="#2f6a2a" stroke-width="0.8" />
<line x1="473.5" y1="127.4" x2="486.8" y2="127.4" stroke="#4f9a40" stroke-width="0.7" />
<line x1="473.5" y1="142.5" x2="486.8" y2="142.5" stroke="#4f9a40" stroke-width="0.7" />
<rect x="473.1" y="59.4" width="14.1" height="137.2" fill="none" stroke="#d0d0d0" stroke-width="0.8" />
<text x="480.2" y="58.0" font-size="7.5" fill="#000" text-anchor="middle" font-weight="normal" >18</text>
<line x1="480.2" y1="202.5" x2="480.2" y2="204.6" stroke="#333" stroke-width="0.8" />
<text x="482.2" y="209.0" font-size="5.6" fill="#555" text-anchor="end" font-weight="normal" transform="rotate(-45 482.18 209)" >L62407</text>
<rect x="488.5" y="59.8" width="13.3" height="136.4" fill="#5cb946" stroke="none" stroke-width="1" />
<line x1="488.5" y1="68.1" x2="501.8" y2="68.1" stroke="#2f6a2a" stroke-width="0.8" />
<line x1="488.5" y1="76.1" x2="501.8" y2="76.1" stroke="#2f6a2a" stroke-width="0.8" />
<line x1="488.5" y1="97.8" x2="501.8" y2="97.8" stroke="#4f9a40" stroke-width="0.7" />
<line x1="488.5" y1="115.3" x2="501.8" y2="115.3" stroke="#4f9a40" stroke-width="0.7" />
<line x1="488.5" y1="136.3" x2="501.8" y2="136.3" stroke="#2f6a2a" stroke-width="0.8" />
<line x1="488.5" y1="178.1" x2="501.8" y2="178.1" stroke="#4f9a40" stroke-width="0.7" />
<rect x="488.1" y="59.4" width="14.1" height="137.2" fill="none" stroke="#d0d0d0" stroke-width="0.8" />
<text x="495.2" y="58.0" font-size="7.5" fill="#000" text-anchor="middle" font-weight="normal" >32</text>
<line x1="495.2" y1="202.5" x2="495.2" y2="204.6" stroke="#333" stroke-width="0.8" />
<text x="497.2" y="209.0" font-size="5.6" fill="#555" text-anchor="end" font-weight="normal" transform="rotate(-45 497.17 209)" >L9920</text>
<rect x="503.5" y="59.8" width="13.3" height="136.4" fill="#5cb946" stroke="none" stroke-width="1" />
<line x1="503.5" y1="69.9" x2="516.8" y2="69.9" stroke="#4f9a40" stroke-width="0.7" />
<line x1="503.5" y1="73.1" x2="516.8" y2="73.1" stroke="#2f6a2a" stroke-width="0.8" />
<line x1="503.5" y1="74.4" x2="516.8" y2="74.4" stroke="#2f6a2a" stroke-width="0.8" />
<line x1="503.5" y1="75.8" x2="516.8" y2="75.8" stroke="#2f6a2a" stroke-width="0.8" />
<line x1="503.5" y1="77.9" x2="516.8" y2="77.9" stroke="#2f6a2a" stroke-width="0.8" />
<line x1="503.5" y1="87.2" x2="516.8" y2="87.2" stroke="#2f6a2a" stroke-width="0.8" />
<line x1="503.5" y1="88.9" x2="516.8" y2="88.9" stroke="#2f6a2a" stroke-width="0.8" />
<line x1="503.5" y1="96.1" x2="516.8" y2="96.1" stroke="#4f9a40" stroke-width="0.7" />
<line x1="503.5" y1="98.4" x2="516.8" y2="98.4" stroke="#4f9a40" stroke-width="0.7" />
<line x1="503.5" y1="100.2" x2="516.8" y2="100.2" stroke="#2f6a2a" stroke-width="0.8" />
<line x1="503.5" y1="193.0" x2="516.8" y2="193.0" stroke="#2f6a2a" stroke-width="0.8" />
<rect x="503.1" y="59.4" width="14.1" height="137.2" fill="none" stroke="#d0d0d0" stroke-width="0.8" />
<text x="510.2" y="58.0" font-size="7.5" fill="#000" text-anchor="middle" font-weight="normal" >199</text>
<line x1="510.2" y1="202.5" x2="510.2" y2="204.6" stroke="#333" stroke-width="0.8" />
<text x="512.2" y="209.0" font-size="5.6" fill="#555" text-anchor="end" font-weight="normal" transform="rotate(-45 512.16 209)" >ND224</text>
<rect x="518.5" y="59.8" width="13.3" height="136.4" fill="#5cb946" stroke="none" stroke-width="1" />
<line x1="518.5" y1="76.1" x2="531.8" y2="76.1" stroke="#2f6a2a" stroke-width="0.8" />
<line x1="518.5" y1="93.0" x2="531.8" y2="93.0" stroke="#4f9a40" stroke-width="0.7" />
<line x1="518.5" y1="127.4" x2="531.8" y2="127.4" stroke="#4f9a40" stroke-width="0.7" />
<line x1="518.5" y1="144.3" x2="531.8" y2="144.3" stroke="#2f6a2a" stroke-width="0.8" />
<line x1="518.5" y1="178.1" x2="531.8" y2="178.1" stroke="#4f9a40" stroke-width="0.7" />
<rect x="518.1" y="59.4" width="14.1" height="137.2" fill="none" stroke="#d0d0d0" stroke-width="0.8" />
<text x="525.1" y="58.0" font-size="7.5" fill="#000" text-anchor="middle" font-weight="normal" >16</text>
<line x1="525.1" y1="202.5" x2="525.1" y2="204.6" stroke="#333" stroke-width="0.8" />
<text x="527.1" y="209.0" font-size="5.6" fill="#555" text-anchor="end" font-weight="normal" transform="rotate(-45 527.15 209)" >SUB−0003</text>
<rect x="533.5" y="59.8" width="13.3" height="136.4" fill="#5cb946" stroke="none" stroke-width="1" />
<line x1="533.5" y1="61.0" x2="546.8" y2="61.0" stroke="#2f6a2a" stroke-width="0.8" />
<line x1="533.5" y1="62.3" x2="546.8" y2="62.3" stroke="#2f6a2a" stroke-width="0.8" />
<line x1="533.5" y1="63.7" x2="546.8" y2="63.7" stroke="#2f6a2a" stroke-width="0.8" />
<line x1="533.5" y1="65.5" x2="546.8" y2="65.5" stroke="#2f6a2a" stroke-width="0.8" />
<line x1="533.5" y1="72.9" x2="546.8" y2="72.9" stroke="#2f6a2a" stroke-width="0.8" />
<line x1="533.5" y1="74.7" x2="546.8" y2="74.7" stroke="#2f6a2a" stroke-width="0.8" />
<line x1="533.5" y1="76.1" x2="546.8" y2="76.1" stroke="#2f6a2a" stroke-width="0.8" />
<line x1="533.5" y1="77.6" x2="546.8" y2="77.6" stroke="#2f6a2a" stroke-width="0.8" />
<line x1="533.5" y1="78.8" x2="546.8" y2="78.8" stroke="#2f6a2a" stroke-width="0.8" />
<line x1="533.5" y1="95.3" x2="546.8" y2="95.3" stroke="#2f6a2a" stroke-width="0.8" />
<line x1="533.5" y1="97.8" x2="546.8" y2="97.8" stroke="#2f6a2a" stroke-width="0.8" />
<line x1="533.5" y1="106.4" x2="546.8" y2="106.4" stroke="#2f6a2a" stroke-width="0.8" />
<line x1="533.5" y1="138.0" x2="546.8" y2="138.0" stroke="#2f6a2a" stroke-width="0.8" />
<rect x="533.1" y="59.4" width="14.1" height="137.2" fill="none" stroke="#d0d0d0" stroke-width="0.8" />
<text x="540.1" y="58.0" font-size="7.5" fill="#000" text-anchor="middle" font-weight="normal" >152</text>
<line x1="540.1" y1="202.5" x2="540.1" y2="204.6" stroke="#333" stroke-width="0.8" />
<text x="542.1" y="209.0" font-size="5.6" fill="#555" text-anchor="end" font-weight="normal" transform="rotate(-45 542.14 209)" >SUB−0011</text>
<rect x="548.5" y="59.8" width="13.3" height="136.4" fill="#5cb946" stroke="none" stroke-width="1" />
<line x1="548.5" y1="98.0" x2="561.8" y2="98.0" stroke="#2f6a2a" stroke-width="0.8" />
<line x1="548.5" y1="137.2" x2="561.8" y2="137.2" stroke="#2f6a2a" stroke-width="0.8" />
<rect x="548.1" y="59.4" width="14.1" height="137.2" fill="none" stroke="#d0d0d0" stroke-width="0.8" />
<text x="555.1" y="58.0" font-size="7.5" fill="#000" text-anchor="middle" font-weight="normal" >7</text>
<line x1="555.1" y1="202.5" x2="555.1" y2="204.6" stroke="#333" stroke-width="0.8" />
<text x="557.1" y="209.0" font-size="5.6" fill="#555" text-anchor="end" font-weight="normal" transform="rotate(-45 557.13 209)" >SUB−0039</text>
<rect x="563.5" y="59.8" width="13.3" height="136.4" fill="#5cb946" stroke="none" stroke-width="1" />
<rect x="563.1" y="59.4" width="14.1" height="137.2" fill="none" stroke="#d0d0d0" stroke-width="0.8" />
<text x="570.1" y="58.0" font-size="7.5" fill="#000" text-anchor="middle" font-weight="normal" >2</text>
<line x1="570.1" y1="202.5" x2="570.1" y2="204.6" stroke="#333" stroke-width="0.8" />
<text x="572.1" y="209.0" font-size="5.6" fill="#555" text-anchor="end" font-weight="normal" transform="rotate(-45 572.12 209)" >SUB−0021</text>
<rect x="578.5" y="71.1" width="13.3" height="125.1" fill="#e4d58f" stroke="none" stroke-width="1" />
<rect x="578.5" y="63.9" width="13.3" height="7.2" fill="#5cb946" stroke="none" stroke-width="1" />
<rect x="578.5" y="59.8" width="13.3" height="4.1" fill="#c0302a" stroke="none" stroke-width="1" />
<line x1="578.5" y1="90.3" x2="591.8" y2="90.3" stroke="#9a8f55" stroke-width="0.9" />
<line x1="578.5" y1="90.3" x2="591.8" y2="90.3" stroke="#9a8f55" stroke-width="0.6" />
<line x1="578.5" y1="99.8" x2="591.8" y2="99.8" stroke="#9a8f55" stroke-width="0.9" />
<line x1="578.5" y1="84.0" x2="591.8" y2="84.0" stroke="#a69a5c" stroke-width="0.6" />
<line x1="578.5" y1="90.5" x2="591.8" y2="90.5" stroke="#a69a5c" stroke-width="0.6" />
<line x1="578.5" y1="87.2" x2="591.8" y2="87.2" stroke="#9a8f55" stroke-width="1.2" />
<line x1="578.5" y1="104.9" x2="591.8" y2="104.9" stroke="#b5a86c" stroke-width="0.9" />
<line x1="578.5" y1="83.1" x2="591.8" y2="83.1" stroke="#9a8f55" stroke-width="1.2" />
<line x1="578.5" y1="100.8" x2="591.8" y2="100.8" stroke="#a69a5c" stroke-width="1.2" />
<line x1="578.5" y1="104.1" x2="591.8" y2="104.1" stroke="#a69a5c" stroke-width="0.6" />
<line x1="578.5" y1="75.1" x2="591.8" y2="75.1" stroke="#9a8f55" stroke-width="0.6" />
<line x1="578.5" y1="78.7" x2="591.8" y2="78.7" stroke="#b5a86c" stroke-width="0.9" />
<line x1="578.5" y1="85.4" x2="591.8" y2="85.4" stroke="#a69a5c" stroke-width="1.2" />
<line x1="578.5" y1="98.1" x2="591.8" y2="98.1" stroke="#b5a86c" stroke-width="0.9" />
<line x1="578.5" y1="106.2" x2="591.8" y2="106.2" stroke="#a69a5c" stroke-width="0.9" />
<line x1="578.5" y1="83.1" x2="591.8" y2="83.1" stroke="#b5a86c" stroke-width="1.2" />
<line x1="578.5" y1="71.0" x2="591.8" y2="71.0" stroke="#a69a5c" stroke-width="1.2" />
<line x1="578.5" y1="97.3" x2="591.8" y2="97.3" stroke="#a69a5c" stroke-width="1.2" />
<line x1="578.5" y1="96.1" x2="591.8" y2="96.1" stroke="#a69a5c" stroke-width="1.2" />
<line x1="578.5" y1="79.1" x2="591.8" y2="79.1" stroke="#b5a86c" stroke-width="0.6" />
<line x1="578.5" y1="76.3" x2="591.8" y2="76.3" stroke="#b5a86c" stroke-width="0.6" />
<line x1="578.5" y1="72.3" x2="591.8" y2="72.3" stroke="#9a8f55" stroke-width="0.6" />
<line x1="578.5" y1="98.8" x2="591.8" y2="98.8" stroke="#a69a5c" stroke-width="0.9" />
<line x1="578.5" y1="93.0" x2="591.8" y2="93.0" stroke="#9a8f55" stroke-width="0.9" />
<line x1="578.5" y1="91.4" x2="591.8" y2="91.4" stroke="#9a8f55" stroke-width="1.2" />
<line x1="578.5" y1="99.3" x2="591.8" y2="99.3" stroke="#9a8f55" stroke-width="0.9" />
<line x1="578.5" y1="94.4" x2="591.8" y2="94.4" stroke="#b5a86c" stroke-width="0.9" />
<line x1="578.5" y1="105.8" x2="591.8" y2="105.8" stroke="#b5a86c" stroke-width="0.6" />
<line x1="578.5" y1="101.6" x2="591.8" y2="101.6" stroke="#9a8f55" stroke-width="0.6" />
<line x1="578.5" y1="106.0" x2="591.8" y2="106.0" stroke="#b5a86c" stroke-width="0.9" />
<line x1="578.5" y1="100.1" x2="591.8" y2="100.1" stroke="#9a8f55" stroke-width="0.6" />
<line x1="578.5" y1="90.5" x2="591.8" y2="90.5" stroke="#a69a5c" stroke-width="1.2" />
<line x1="578.5" y1="79.0" x2="591.8" y2="79.0" stroke="#b5a86c" stroke-width="1.2" />
<line x1="578.5" y1="92.7" x2="591.8" y2="92.7" stroke="#b5a86c" stroke-width="0.9" />
<line x1="578.5" y1="155.4" x2="591.8" y2="155.4" stroke="#a69a5c" stroke-width="1.2" />
<line x1="578.5" y1="156.3" x2="591.8" y2="156.3" stroke="#9a8f55" stroke-width="0.8" />
<line x1="578.5" y1="160.9" x2="591.8" y2="160.9" stroke="#9a8f55" stroke-width="0.8" />
<line x1="578.5" y1="162.1" x2="591.8" y2="162.1" stroke="#a69a5c" stroke-width="0.8" />
<line x1="578.5" y1="159.3" x2="591.8" y2="159.3" stroke="#a69a5c" stroke-width="1.2" />
<line x1="578.5" y1="156.5" x2="591.8" y2="156.5" stroke="#9a8f55" stroke-width="0.8" />
<line x1="578.5" y1="161.9" x2="591.8" y2="161.9" stroke="#a69a5c" stroke-width="0.8" />
<line x1="578.5" y1="162.3" x2="591.8" y2="162.3" stroke="#9a8f55" stroke-width="1.2" />
<line x1="578.5" y1="111.7" x2="591.8" y2="111.7" stroke="#9e925a" stroke-width="0.8" />
<line x1="578.5" y1="114.4" x2="591.8" y2="114.4" stroke="#9e925a" stroke-width="0.8" />
<line x1="578.5" y1="122.4" x2="591.8" y2="122.4" stroke="#9e925a" stroke-width="0.8" />
<line x1="578.5" y1="127.7" x2="591.8" y2="127.7" stroke="#9e925a" stroke-width="0.8" />
<line x1="578.5" y1="135.7" x2="591.8" y2="135.7" stroke="#9e925a" stroke-width="0.8" />
<line x1="578.5" y1="138.4" x2="591.8" y2="138.4" stroke="#9e925a" stroke-width="0.8" />
<line x1="578.5" y1="141.1" x2="591.8" y2="141.1" stroke="#9e925a" stroke-width="0.8" />
<line x1="578.5" y1="143.7" x2="591.8" y2="143.7" stroke="#9e925a" stroke-width="0.8" />
<line x1="578.5" y1="147.3" x2="591.8" y2="147.3" stroke="#9e925a" stroke-width="0.8" />
<line x1="578.5" y1="178.4" x2="591.8" y2="178.4" stroke="#9e925a" stroke-width="0.8" />
<line x1="578.5" y1="182.5" x2="591.8" y2="182.5" stroke="#9e925a" stroke-width="0.8" />
<line x1="578.5" y1="188.6" x2="591.8" y2="188.6" stroke="#9e925a" stroke-width="0.8" />
<line x1="578.5" y1="194.4" x2="591.8" y2="194.4" stroke="#9e925a" stroke-width="0.8" />
<line x1="578.5" y1="66.6" x2="591.8" y2="66.6" stroke="#2f6a2a" stroke-width="0.6" />
<line x1="578.5" y1="68.7" x2="591.8" y2="68.7" stroke="#2f6a2a" stroke-width="0.6" />
<rect x="578.1" y="59.4" width="14.1" height="137.2" fill="none" stroke="#d0d0d0" stroke-width="0.8" />
<text x="585.1" y="58.0" font-size="7.5" fill="#000" text-anchor="middle" font-weight="normal" >493</text>
<line x1="585.1" y1="202.5" x2="585.1" y2="204.6" stroke="#333" stroke-width="0.8" />
<text x="587.1" y="209.0" font-size="5.6" fill="#555" text-anchor="end" font-weight="normal" transform="rotate(-45 587.11 209)" >ND518</text>
<rect x="593.5" y="188.0" width="13.3" height="8.2" fill="#e4d58f" stroke="none" stroke-width="1" />
<rect x="593.5" y="155.3" width="13.3" height="32.7" fill="#5cb946" stroke="none" stroke-width="1" />
<rect x="593.5" y="59.8" width="13.3" height="95.5" fill="#4a85c4" stroke="none" stroke-width="1" />
<line x1="593.5" y1="72.3" x2="606.8" y2="72.3" stroke="#3b6f9f" stroke-width="0.8" />
<line x1="593.5" y1="162.9" x2="606.8" y2="162.9" stroke="#3f8a35" stroke-width="0.8" />
<rect x="593.1" y="59.4" width="14.1" height="137.2" fill="none" stroke="#d0d0d0" stroke-width="0.8" />
<text x="600.1" y="58.0" font-size="7.5" fill="#000" text-anchor="middle" font-weight="normal" >33</text>
<line x1="600.1" y1="202.5" x2="600.1" y2="204.6" stroke="#333" stroke-width="0.8" />
<text x="602.1" y="209.0" font-size="5.6" fill="#555" text-anchor="end" font-weight="normal" transform="rotate(-45 602.1 209)" >SUB−0005</text>
<rect x="608.4" y="81.6" width="13.3" height="114.6" fill="#e4d58f" stroke="none" stroke-width="1" />
<rect x="608.4" y="59.8" width="13.3" height="21.8" fill="#e42720" stroke="none" stroke-width="1" />
<line x1="608.4" y1="91.4" x2="621.7" y2="91.4" stroke="#8f8458" stroke-width="0.6" />
<line x1="608.4" y1="117.1" x2="621.7" y2="117.1" stroke="#8f8458" stroke-width="0.6" />
<line x1="608.4" y1="128.0" x2="621.7" y2="128.0" stroke="#8f8458" stroke-width="0.6" />
<line x1="608.4" y1="143.0" x2="621.7" y2="143.0" stroke="#8f8458" stroke-width="0.6" />
<rect x="608.0" y="59.4" width="14.1" height="137.2" fill="none" stroke="#d0d0d0" stroke-width="0.8" />
<text x="615.1" y="58.0" font-size="7.5" fill="#000" text-anchor="middle" font-weight="normal" >26</text>
<line x1="615.1" y1="202.5" x2="615.1" y2="204.6" stroke="#333" stroke-width="0.8" />
<text x="617.1" y="209.0" font-size="5.6" fill="#555" text-anchor="end" font-weight="normal" transform="rotate(-45 617.09 209)" >ND579</text>
<line x1="366.8" y1="48.3" x2="366.8" y2="203.1" stroke="#222" stroke-width="1.2" />
<line x1="366.2" y1="202.5" x2="625.0" y2="202.5" stroke="#222" stroke-width="1.2" />
<line x1="363.8" y1="196.2" x2="366.8" y2="196.2" stroke="#333" stroke-width="0.7" />
<text x="363.2" y="198.1" font-size="5.4" fill="#555" text-anchor="end" font-weight="normal" >0.00</text>
<line x1="363.8" y1="162.1" x2="366.8" y2="162.1" stroke="#333" stroke-width="0.7" />
<text x="363.2" y="164.0" font-size="5.4" fill="#555" text-anchor="end" font-weight="normal" >0.25</text>
<line x1="363.8" y1="128.0" x2="366.8" y2="128.0" stroke="#333" stroke-width="0.7" />
<text x="363.2" y="129.9" font-size="5.4" fill="#555" text-anchor="end" font-weight="normal" >0.50</text>
<line x1="363.8" y1="93.9" x2="366.8" y2="93.9" stroke="#333" stroke-width="0.7" />
<text x="363.2" y="95.8" font-size="5.4" fill="#555" text-anchor="end" font-weight="normal" >0.75</text>
<line x1="363.8" y1="59.8" x2="366.8" y2="59.8" stroke="#333" stroke-width="0.7" />
<text x="363.2" y="61.7" font-size="5.4" fill="#555" text-anchor="end" font-weight="normal" >1.00</text>
<text x="339.0" y="129.0" font-size="8.4" fill="#222" text-anchor="middle" font-weight="normal" transform="rotate(-90 339 129)" >Fraction of Clonal SARS-2 Spike-</text>
<text x="349.4" y="129.0" font-size="8.4" fill="#222" text-anchor="middle" font-weight="normal" transform="rotate(-90 349.4 129)" >specific TCR Clones Post-vac</text>
<text x="625.0" y="59.0" font-size="8.7" fill="#000" text-anchor="start" font-weight="normal" >Total Cells</text>
<text x="495.5" y="239.3" font-size="8.7" fill="#111" text-anchor="middle" font-weight="normal" >Donor</text>
<path d="M374.6,49 L374.6,42.5 L572.7,42.5 L572.7,49 M473.6,42.5 L473.6,38.5" fill="none" stroke="#222" stroke-width="0.9"/>
<text x="474.0" y="34.5" font-size="8.2" fill="#000" text-anchor="middle" font-weight="normal" >HLA-A*02:01</text>
<path d="M578.6,46 L578.6,41.5 L601.4,41.5 L601.4,46 M590,41.5 L590,37.5" fill="none" stroke="#222" stroke-width="0.9"/>
<text x="583.0" y="22.5" font-size="8.2" fill="#000" text-anchor="middle" font-weight="normal" >HLA-A*02:01</text>
<text x="583.0" y="32.5" font-size="8.2" fill="#000" text-anchor="middle" font-weight="normal" >HLA-A*03:01</text>
<line x1="614.3" y1="14.5" x2="614.3" y2="48.6" stroke="#222" stroke-width="0.9" />
<text x="614.5" y="10.0" font-size="8.2" fill="#000" text-anchor="middle" font-weight="normal" >HLA-A*03:01</text>
<text x="633.7" y="94.5" font-size="7.0" fill="#222" text-anchor="start" font-weight="normal" >Specificity</text>
<rect x="634.0" y="99.3" width="10.5" height="10.5" fill="#e42720" stroke="none" stroke-width="1" />
<text x="648.2" y="106.3" font-size="5.5" fill="#333" text-anchor="start" font-weight="normal" >COV−S−044</text>
<rect x="634.0" y="110.0" width="10.5" height="10.5" fill="#4a85c4" stroke="none" stroke-width="1" />
<text x="648.2" y="117.0" font-size="5.5" fill="#333" text-anchor="start" font-weight="normal" >COV−S−044.2</text>
<rect x="634.0" y="120.7" width="10.5" height="10.5" fill="#5cb946" stroke="none" stroke-width="1" />
<text x="648.2" y="127.7" font-size="5.5" fill="#333" text-anchor="start" font-weight="normal" >COV−S−082</text>
<rect x="634.0" y="131.4" width="10.5" height="10.5" fill="#8e4cab" stroke="none" stroke-width="1" />
<text x="648.2" y="138.4" font-size="5.5" fill="#333" text-anchor="start" font-weight="normal" >COV−S−085.2</text>
<rect x="634.0" y="142.1" width="10.5" height="10.5" fill="#f07e22" stroke="none" stroke-width="1" />
<text x="648.2" y="149.1" font-size="5.5" fill="#333" text-anchor="start" font-weight="normal" >COV−S−086</text>
<rect x="634.0" y="152.8" width="10.5" height="10.5" fill="#e4d58f" stroke="none" stroke-width="1" />
<text x="648.2" y="159.8" font-size="5.5" fill="#333" text-anchor="start" font-weight="normal" >COV−S−094</text>
<text x="26.0" y="300.0" font-size="8.8" fill="#111" text-anchor="start" font-weight="normal" >Specificity</text>
<circle cx="24.8" cy="308.6" r="1.30" fill="#e98a2e" stroke="none" stroke-width="1" />
<text x="30.0" y="310.9" font-size="6.45" fill="#333" text-anchor="start" font-weight="normal" >COV-S-086</text>
<circle cx="24.8" cy="316.3" r="1.30" fill="#b9a9dc" stroke="none" stroke-width="1" />
<text x="30.0" y="318.6" font-size="6.45" fill="#333" text-anchor="start" font-weight="normal" >IAV-M1-001</text>
<circle cx="24.8" cy="324.1" r="1.30" fill="#59b544" stroke="none" stroke-width="1" />
<text x="30.0" y="326.4" font-size="6.45" fill="#333" text-anchor="start" font-weight="normal" >COV-S-082</text>
<circle cx="24.8" cy="331.8" r="1.30" fill="#e542c0" stroke="none" stroke-width="1" />
<text x="30.0" y="334.1" font-size="6.45" fill="#333" text-anchor="start" font-weight="normal" >EBV-GLC</text>
<circle cx="24.8" cy="339.6" r="1.30" fill="#7d3fa8" stroke="none" stroke-width="1" />
<text x="30.0" y="341.9" font-size="6.45" fill="#333" text-anchor="start" font-weight="normal" >COV-S-085.2</text>
<circle cx="24.8" cy="347.3" r="1.30" fill="#e01f87" stroke="none" stroke-width="1" />
<text x="30.0" y="349.6" font-size="6.45" fill="#333" text-anchor="start" font-weight="normal" >MART1</text>
<circle cx="24.8" cy="355.0" r="1.30" fill="#c7561d" stroke="none" stroke-width="1" />
<text x="30.0" y="357.3" font-size="6.45" fill="#333" text-anchor="start" font-weight="normal" >CMV-pp65-001</text>
<circle cx="24.8" cy="362.8" r="1.30" fill="#e3d28b" stroke="none" stroke-width="1" />
<text x="30.0" y="365.1" font-size="6.45" fill="#333" text-anchor="start" font-weight="normal" >COV-S-094</text>
<circle cx="24.8" cy="370.5" r="1.30" fill="#2c9a7d" stroke="none" stroke-width="1" />
<text x="30.0" y="372.8" font-size="6.45" fill="#333" text-anchor="start" font-weight="normal" >COV-S-107</text>
<circle cx="24.8" cy="378.3" r="1.30" fill="#d46a24" stroke="none" stroke-width="1" />
<text x="30.0" y="380.6" font-size="6.45" fill="#333" text-anchor="start" font-weight="normal" >COV-S-084</text>
<circle cx="24.8" cy="386.0" r="1.30" fill="#6a63b0" stroke="none" stroke-width="1" />
<text x="30.0" y="388.3" font-size="6.45" fill="#333" text-anchor="start" font-weight="normal" >COV-S-105</text>
<circle cx="24.8" cy="393.7" r="1.30" fill="#e0338f" stroke="none" stroke-width="1" />
<text x="30.0" y="396.0" font-size="6.45" fill="#333" text-anchor="start" font-weight="normal" >hCOV-S-006</text>
<circle cx="24.8" cy="401.5" r="1.30" fill="#69a828" stroke="none" stroke-width="1" />
<text x="30.0" y="403.8" font-size="6.45" fill="#333" text-anchor="start" font-weight="normal" >hCOV-S-009</text>
<circle cx="24.8" cy="409.2" r="1.30" fill="#d6a532" stroke="none" stroke-width="1" />
<text x="30.0" y="411.5" font-size="6.45" fill="#333" text-anchor="start" font-weight="normal" >COV-S-093</text>
<circle cx="24.8" cy="417.0" r="1.30" fill="#e02a26" stroke="none" stroke-width="1" />
<text x="30.0" y="419.3" font-size="6.45" fill="#333" text-anchor="start" font-weight="normal" >COV-S-044</text>
<circle cx="24.8" cy="424.7" r="1.30" fill="#3572b8" stroke="none" stroke-width="1" />
<text x="30.0" y="427.0" font-size="6.45" fill="#333" text-anchor="start" font-weight="normal" >COV-S-044.2</text>
<circle cx="24.8" cy="432.4" r="1.30" fill="#57c5ee" stroke="none" stroke-width="1" />
<text x="30.0" y="434.7" font-size="6.45" fill="#333" text-anchor="start" font-weight="normal" >hCOV-S-003</text>
<circle cx="24.8" cy="440.2" r="1.30" fill="#5fe3a1" stroke="none" stroke-width="1" />
<text x="30.0" y="442.5" font-size="6.45" fill="#333" text-anchor="start" font-weight="normal" >EBV-CLG</text>
<ellipse cx="155.0" cy="326.0" rx="20.5" ry="21.0" fill="#cdeac8" stroke="#62bd50" stroke-width="1.1" stroke-dasharray="2.6,1.6" transform="rotate(0 155.0 326.0)"/>
<ellipse cx="180.3" cy="310.0" rx="7.4" ry="11.8" fill="#cdeac8" stroke="#62bd50" stroke-width="1.1" stroke-dasharray="2.6,1.6" transform="rotate(15 180.3 310.0)"/>
<ellipse cx="208.4" cy="348.8" rx="21.5" ry="26.0" fill="#e2def0" stroke="#b3a6d6" stroke-width="1.1" stroke-dasharray="2.6,1.6" transform="rotate(-10 208.4 348.8)"/>
<ellipse cx="195.3" cy="402.2" rx="19.7" ry="19.7" fill="#cdeac8" stroke="#62bd50" stroke-width="1.1" stroke-dasharray="2.6,1.6" transform="rotate(0 195.3 402.2)"/>
<ellipse cx="142.8" cy="432.8" rx="19.7" ry="19.0" fill="#cdeac8" stroke="#62bd50" stroke-width="1.1" stroke-dasharray="2.6,1.6" transform="rotate(0 142.8 432.8)"/>
<ellipse cx="100.0" cy="452.5" rx="20.5" ry="22.3" fill="#cdeac8" stroke="#62bd50" stroke-width="1.1" stroke-dasharray="2.6,1.6" transform="rotate(0 100.0 452.5)"/>
<ellipse cx="114.4" cy="484.6" rx="14.5" ry="11.0" fill="#cdeac8" stroke="#62bd50" stroke-width="1.1" stroke-dasharray="2.6,1.6" transform="rotate(30 114.4 484.6)"/>
<ellipse cx="140.0" cy="475.0" rx="15.8" ry="21.0" fill="#cdeac8" stroke="#62bd50" stroke-width="1.1" stroke-dasharray="2.6,1.6" transform="rotate(-10 140.0 475.0)"/>
<ellipse cx="200.0" cy="452.0" rx="38.0" ry="8.0" fill="#cdeac8" stroke="#62bd50" stroke-width="1.1" stroke-dasharray="2.6,1.6" transform="rotate(-18 200.0 452.0)"/>
<ellipse cx="177.0" cy="470.0" rx="18.0" ry="14.0" fill="#cdeac8" stroke="#62bd50" stroke-width="1.1" stroke-dasharray="2.6,1.6" transform="rotate(-20 177.0 470.0)"/>
<ellipse cx="226.4" cy="466.7" rx="14.3" ry="10.0" fill="#cdeac8" stroke="#62bd50" stroke-width="1.1" stroke-dasharray="2.6,1.6" transform="rotate(-10 226.4 466.7)"/>
<ellipse cx="250.0" cy="481.7" rx="14.3" ry="20.3" fill="#cdeac8" stroke="#62bd50" stroke-width="1.1" stroke-dasharray="2.6,1.6" transform="rotate(15 250.0 481.7)"/>
<ellipse cx="286.3" cy="399.0" rx="11.5" ry="5.5" fill="#cdeac8" stroke="#62bd50" stroke-width="1.1" stroke-dasharray="2.6,1.6" transform="rotate(0 286.3 399.0)"/>
<ellipse cx="280.4" cy="418.8" rx="16.0" ry="12.8" fill="#f6f0cf" stroke="#e4d590" stroke-width="1.1" stroke-dasharray="2.6,1.6" transform="rotate(0 280.4 418.8)"/>
<ellipse cx="257.2" cy="437.6" rx="10.4" ry="7.7" fill="#cdeac8" stroke="#62bd50" stroke-width="1.1" stroke-dasharray="2.6,1.6" transform="rotate(0 257.2 437.6)"/>
<ellipse cx="162.0" cy="458.0" rx="14.0" ry="22.0" fill="#cdeac8" stroke="#62bd50" stroke-width="1.1" stroke-dasharray="2.6,1.6" transform="rotate(10 162.0 458.0)"/>
<line x1="149.2" y1="419.6" x2="183.4" y2="402.0" stroke="#9c9c9c" stroke-width="0.35" />
<line x1="152.1" y1="420.0" x2="185.1" y2="405.5" stroke="#9c9c9c" stroke-width="0.35" />
<line x1="150.3" y1="425.5" x2="185.9" y2="403.4" stroke="#9c9c9c" stroke-width="0.35" />
<line x1="150.9" y1="419.7" x2="189.2" y2="403.0" stroke="#9c9c9c" stroke-width="0.35" />
<line x1="149.1" y1="423.5" x2="183.2" y2="405.3" stroke="#9c9c9c" stroke-width="0.35" />
<line x1="162.8" y1="448.7" x2="218.6" y2="447.2" stroke="#9c9c9c" stroke-width="0.35" />
<line x1="162.2" y1="449.8" x2="214.2" y2="445.2" stroke="#9c9c9c" stroke-width="0.35" />
<line x1="156.1" y1="447.6" x2="218.9" y2="447.3" stroke="#9c9c9c" stroke-width="0.35" />
<line x1="159.7" y1="453.2" x2="215.8" y2="450.8" stroke="#9c9c9c" stroke-width="0.35" />
<line x1="158.9" y1="447.7" x2="218.4" y2="444.3" stroke="#9c9c9c" stroke-width="0.35" />
<line x1="162.3" y1="450.8" x2="218.9" y2="450.6" stroke="#9c9c9c" stroke-width="0.35" />
<line x1="191.3" y1="462.3" x2="218.2" y2="465.8" stroke="#9c9c9c" stroke-width="0.35" />
<line x1="192.6" y1="462.6" x2="221.4" y2="462.7" stroke="#9c9c9c" stroke-width="0.35" />
<line x1="188.5" y1="462.0" x2="220.6" y2="466.2" stroke="#9c9c9c" stroke-width="0.35" />
<line x1="187.6" y1="468.3" x2="218.4" y2="463.7" stroke="#9c9c9c" stroke-width="0.35" />
<line x1="188.1" y1="465.2" x2="224.1" y2="464.8" stroke="#9c9c9c" stroke-width="0.35" />
<line x1="191.6" y1="469.4" x2="219.0" y2="468.9" stroke="#9c9c9c" stroke-width="0.35" />
<line x1="150.8" y1="432.0" x2="160.9" y2="454.3" stroke="#9c9c9c" stroke-width="0.35" />
<line x1="146.8" y1="427.1" x2="157.4" y2="452.4" stroke="#9c9c9c" stroke-width="0.35" />
<line x1="147.2" y1="427.7" x2="160.5" y2="457.2" stroke="#9c9c9c" stroke-width="0.35" />
<line x1="152.4" y1="432.8" x2="156.9" y2="457.6" stroke="#9c9c9c" stroke-width="0.35" />
<line x1="147.5" y1="426.6" x2="158.3" y2="455.7" stroke="#9c9c9c" stroke-width="0.35" />
<line x1="224.4" y1="463.7" x2="249.2" y2="470.6" stroke="#9c9c9c" stroke-width="0.35" />
<line x1="227.2" y1="465.3" x2="249.0" y2="464.7" stroke="#9c9c9c" stroke-width="0.35" />
<line x1="173.0" y1="421.4" x2="189.8" y2="399.2" stroke="#9c9c9c" stroke-width="0.35" />
<line x1="169.6" y1="416.5" x2="189.2" y2="401.2" stroke="#9c9c9c" stroke-width="0.35" />
<line x1="168.5" y1="421.0" x2="189.8" y2="397.7" stroke="#9c9c9c" stroke-width="0.35" />
<line x1="174.5" y1="479.4" x2="184.0" y2="466.4" stroke="#9c9c9c" stroke-width="0.35" />
<line x1="174.0" y1="474.6" x2="185.5" y2="471.7" stroke="#9c9c9c" stroke-width="0.35" />
<line x1="170.0" y1="478.0" x2="189.3" y2="471.0" stroke="#9c9c9c" stroke-width="0.35" />
<line x1="132.3" y1="468.3" x2="153.4" y2="463.1" stroke="#9c9c9c" stroke-width="0.35" />
<line x1="133.1" y1="467.3" x2="151.3" y2="465.9" stroke="#9c9c9c" stroke-width="0.35" />
<line x1="156.3" y1="317.5" x2="143.8" y2="321.1" stroke="#a0a0a0" stroke-width="0.3" />
<line x1="147.2" y1="322.1" x2="141.9" y2="326.8" stroke="#a0a0a0" stroke-width="0.3" />
<line x1="155.5" y1="322.7" x2="159.4" y2="322.1" stroke="#a0a0a0" stroke-width="0.3" />
<line x1="148.1" y1="331.4" x2="143.8" y2="321.1" stroke="#a0a0a0" stroke-width="0.3" />
<line x1="162.1" y1="325.2" x2="150.0" y2="328.0" stroke="#a0a0a0" stroke-width="0.3" />
<line x1="152.0" y1="331.7" x2="144.3" y2="329.8" stroke="#a0a0a0" stroke-width="0.3" />
<line x1="147.2" y1="322.1" x2="155.5" y2="322.7" stroke="#a0a0a0" stroke-width="0.3" />
<line x1="165.6" y1="313.3" x2="164.8" y2="317.5" stroke="#a0a0a0" stroke-width="0.3" />
<line x1="152.0" y1="320.5" x2="147.2" y2="318.4" stroke="#a0a0a0" stroke-width="0.3" />
<line x1="143.8" y1="321.1" x2="155.2" y2="329.4" stroke="#a0a0a0" stroke-width="0.3" />
<line x1="170.0" y1="315.3" x2="168.4" y2="319.4" stroke="#a0a0a0" stroke-width="0.3" />
<line x1="168.4" y1="319.4" x2="141.9" y2="326.8" stroke="#a0a0a0" stroke-width="0.3" />
<line x1="152.1" y1="316.1" x2="143.8" y2="321.1" stroke="#a0a0a0" stroke-width="0.3" />
<line x1="146.9" y1="325.5" x2="141.9" y2="326.8" stroke="#a0a0a0" stroke-width="0.3" />
<line x1="164.8" y1="317.5" x2="159.4" y2="322.1" stroke="#a0a0a0" stroke-width="0.3" />
<line x1="152.0" y1="320.5" x2="156.3" y2="317.5" stroke="#a0a0a0" stroke-width="0.3" />
<line x1="164.8" y1="317.5" x2="152.0" y2="320.5" stroke="#a0a0a0" stroke-width="0.3" />
<line x1="152.0" y1="331.7" x2="168.4" y2="319.4" stroke="#a0a0a0" stroke-width="0.3" />
<line x1="165.6" y1="313.3" x2="146.9" y2="325.5" stroke="#a0a0a0" stroke-width="0.3" />
<line x1="161.7" y1="312.2" x2="152.0" y2="320.5" stroke="#a0a0a0" stroke-width="0.3" />
<line x1="141.9" y1="326.8" x2="147.2" y2="318.4" stroke="#a0a0a0" stroke-width="0.3" />
<line x1="159.4" y1="322.1" x2="168.4" y2="319.4" stroke="#a0a0a0" stroke-width="0.3" />
<line x1="148.1" y1="331.4" x2="165.6" y2="313.3" stroke="#a0a0a0" stroke-width="0.3" />
<line x1="164.6" y1="321.9" x2="170.0" y2="315.3" stroke="#a0a0a0" stroke-width="0.3" />
<line x1="152.0" y1="331.7" x2="146.9" y2="325.5" stroke="#a0a0a0" stroke-width="0.3" />
<circle cx="168.2" cy="324.9" r="2.20" fill="#52b340" stroke="#2f3a2c" stroke-width="0.4" />
<circle cx="156.3" cy="317.5" r="2.20" fill="#52b340" stroke="#2f3a2c" stroke-width="0.4" />
<circle cx="146.9" cy="325.5" r="2.20" fill="#52b340" stroke="#2f3a2c" stroke-width="0.4" />
<circle cx="147.2" cy="318.4" r="2.20" fill="#52b340" stroke="#2f3a2c" stroke-width="0.4" />
<circle cx="159.4" cy="322.1" r="2.20" fill="#52b340" stroke="#2f3a2c" stroke-width="0.4" />
<circle cx="160.6" cy="315.5" r="2.20" fill="#52b340" stroke="#2f3a2c" stroke-width="0.4" />
<circle cx="161.6" cy="329.6" r="2.20" fill="#52b340" stroke="#2f3a2c" stroke-width="0.4" />
<circle cx="168.4" cy="319.4" r="2.20" fill="#52b340" stroke="#2f3a2c" stroke-width="0.4" />
<circle cx="152.0" cy="320.5" r="2.20" fill="#52b340" stroke="#2f3a2c" stroke-width="0.4" />
<circle cx="155.2" cy="329.4" r="2.20" fill="#52b340" stroke="#2f3a2c" stroke-width="0.4" />
<circle cx="165.6" cy="313.3" r="2.20" fill="#52b340" stroke="#2f3a2c" stroke-width="0.4" />
<circle cx="152.8" cy="325.8" r="2.20" fill="#52b340" stroke="#2f3a2c" stroke-width="0.4" />
<circle cx="141.9" cy="326.8" r="2.20" fill="#52b340" stroke="#2f3a2c" stroke-width="0.4" />
<circle cx="170.0" cy="315.3" r="2.20" fill="#52b340" stroke="#2f3a2c" stroke-width="0.4" />
<circle cx="164.6" cy="321.9" r="2.20" fill="#52b340" stroke="#2f3a2c" stroke-width="0.4" />
<circle cx="148.1" cy="331.4" r="2.20" fill="#52b340" stroke="#2f3a2c" stroke-width="0.4" />
<circle cx="156.8" cy="312.8" r="2.20" fill="#52b340" stroke="#2f3a2c" stroke-width="0.4" />
<circle cx="152.1" cy="316.1" r="2.20" fill="#52b340" stroke="#2f3a2c" stroke-width="0.4" />
<circle cx="143.8" cy="321.1" r="2.20" fill="#52b340" stroke="#2f3a2c" stroke-width="0.4" />
<circle cx="157.7" cy="326.1" r="2.20" fill="#52b340" stroke="#2f3a2c" stroke-width="0.4" />
<circle cx="162.1" cy="325.2" r="2.20" fill="#52b340" stroke="#2f3a2c" stroke-width="0.4" />
<circle cx="164.8" cy="317.5" r="2.20" fill="#52b340" stroke="#2f3a2c" stroke-width="0.4" />
<circle cx="155.5" cy="322.7" r="2.20" fill="#52b340" stroke="#2f3a2c" stroke-width="0.4" />
<circle cx="144.3" cy="329.8" r="2.20" fill="#52b340" stroke="#2f3a2c" stroke-width="0.4" />
<circle cx="152.0" cy="331.7" r="2.20" fill="#52b340" stroke="#2f3a2c" stroke-width="0.4" />
<circle cx="172.2" cy="318.8" r="2.20" fill="#52b340" stroke="#2f3a2c" stroke-width="0.4" />
<circle cx="150.0" cy="328.0" r="2.20" fill="#52b340" stroke="#2f3a2c" stroke-width="0.4" />
<circle cx="147.2" cy="322.1" r="2.20" fill="#52b340" stroke="#2f3a2c" stroke-width="0.4" />
<circle cx="164.7" cy="327.5" r="2.20" fill="#52b340" stroke="#2f3a2c" stroke-width="0.4" />
<circle cx="161.7" cy="312.2" r="2.20" fill="#52b340" stroke="#2f3a2c" stroke-width="0.4" />
<circle cx="138.1" cy="331.1" r="2.20" fill="#52b340" stroke="#2f3a2c" stroke-width="0.4" />
<circle cx="144.7" cy="331.2" r="2.20" fill="#52b340" stroke="#2f3a2c" stroke-width="0.4" />
<circle cx="141.2" cy="335.8" r="2.20" fill="#52b340" stroke="#2f3a2c" stroke-width="0.4" />
<circle cx="140.9" cy="328.2" r="2.20" fill="#52b340" stroke="#2f3a2c" stroke-width="0.4" />
<circle cx="137.0" cy="335.1" r="2.20" fill="#52b340" stroke="#2f3a2c" stroke-width="0.4" />
<circle cx="185.6" cy="309.9" r="2.20" fill="#52b340" stroke="#2f3a2c" stroke-width="0.4" />
<circle cx="181.6" cy="312.2" r="2.20" fill="#52b340" stroke="#2f3a2c" stroke-width="0.4" />
<circle cx="184.3" cy="305.2" r="2.20" fill="#52b340" stroke="#2f3a2c" stroke-width="0.4" />
<circle cx="178.7" cy="306.0" r="2.20" fill="#52b340" stroke="#2f3a2c" stroke-width="0.4" />
<circle cx="177.1" cy="312.6" r="2.20" fill="#52b340" stroke="#2f3a2c" stroke-width="0.4" />
<circle cx="175.8" cy="317.1" r="2.20" fill="#52b340" stroke="#2f3a2c" stroke-width="0.4" />
<circle cx="179.5" cy="319.2" r="2.20" fill="#52b340" stroke="#2f3a2c" stroke-width="0.4" />
<circle cx="183.5" cy="316.3" r="2.20" fill="#52b340" stroke="#2f3a2c" stroke-width="0.4" />
<circle cx="181.1" cy="302.9" r="2.20" fill="#52b340" stroke="#2f3a2c" stroke-width="0.4" />
<circle cx="179.3" cy="315.5" r="2.20" fill="#52b340" stroke="#2f3a2c" stroke-width="0.4" />
<circle cx="182.0" cy="307.8" r="2.20" fill="#52b340" stroke="#2f3a2c" stroke-width="0.4" />
<circle cx="176.3" cy="308.9" r="2.20" fill="#52b340" stroke="#2f3a2c" stroke-width="0.4" />
<circle cx="184.7" cy="313.2" r="2.20" fill="#52b340" stroke="#2f3a2c" stroke-width="0.4" />
<circle cx="179.3" cy="309.6" r="2.20" fill="#52b340" stroke="#2f3a2c" stroke-width="0.4" />
<circle cx="184.5" cy="307.8" r="2.20" fill="#52b340" stroke="#2f3a2c" stroke-width="0.4" />
<circle cx="181.7" cy="314.7" r="2.20" fill="#52b340" stroke="#2f3a2c" stroke-width="0.4" />
<line x1="198.7" y1="347.0" x2="205.1" y2="337.5" stroke="#a0a0a0" stroke-width="0.3" />
<line x1="227.2" y1="342.0" x2="208.0" y2="351.3" stroke="#a0a0a0" stroke-width="0.3" />
<line x1="196.9" y1="337.1" x2="201.3" y2="353.0" stroke="#a0a0a0" stroke-width="0.3" />
<line x1="198.7" y1="347.0" x2="221.7" y2="340.1" stroke="#a0a0a0" stroke-width="0.3" />
<line x1="208.0" y1="351.3" x2="196.9" y2="337.1" stroke="#a0a0a0" stroke-width="0.3" />
<line x1="207.4" y1="355.6" x2="193.6" y2="340.6" stroke="#a0a0a0" stroke-width="0.3" />
<line x1="224.7" y1="335.6" x2="208.0" y2="351.3" stroke="#a0a0a0" stroke-width="0.3" />
<line x1="197.5" y1="343.1" x2="216.5" y2="347.5" stroke="#a0a0a0" stroke-width="0.3" />
<line x1="212.9" y1="330.8" x2="209.5" y2="338.6" stroke="#a0a0a0" stroke-width="0.3" />
<line x1="204.5" y1="332.8" x2="227.2" y2="342.0" stroke="#a0a0a0" stroke-width="0.3" />
<line x1="209.0" y1="334.0" x2="227.2" y2="342.0" stroke="#a0a0a0" stroke-width="0.3" />
<line x1="225.3" y1="347.5" x2="220.4" y2="345.0" stroke="#a0a0a0" stroke-width="0.3" />
<line x1="209.0" y1="334.0" x2="207.4" y2="355.6" stroke="#a0a0a0" stroke-width="0.3" />
<line x1="193.7" y1="351.2" x2="206.2" y2="342.3" stroke="#a0a0a0" stroke-width="0.3" />
<line x1="224.7" y1="335.6" x2="216.5" y2="347.5" stroke="#a0a0a0" stroke-width="0.3" />
<line x1="221.7" y1="340.1" x2="198.7" y2="347.0" stroke="#a0a0a0" stroke-width="0.3" />
<line x1="209.3" y1="346.3" x2="205.1" y2="337.5" stroke="#a0a0a0" stroke-width="0.3" />
<line x1="215.3" y1="335.3" x2="209.5" y2="338.6" stroke="#a0a0a0" stroke-width="0.3" />
<line x1="198.7" y1="347.0" x2="219.8" y2="332.0" stroke="#a0a0a0" stroke-width="0.3" />
<line x1="193.8" y1="345.2" x2="201.3" y2="353.0" stroke="#a0a0a0" stroke-width="0.3" />
<line x1="205.1" y1="337.5" x2="207.4" y2="355.6" stroke="#a0a0a0" stroke-width="0.3" />
<line x1="207.4" y1="355.6" x2="204.5" y2="332.8" stroke="#a0a0a0" stroke-width="0.3" />
<line x1="205.1" y1="337.5" x2="193.6" y2="340.6" stroke="#a0a0a0" stroke-width="0.3" />
<line x1="225.3" y1="347.5" x2="227.2" y2="342.0" stroke="#a0a0a0" stroke-width="0.3" />
<line x1="193.6" y1="340.6" x2="225.3" y2="347.5" stroke="#a0a0a0" stroke-width="0.3" />
<line x1="209.3" y1="346.3" x2="197.1" y2="354.6" stroke="#a0a0a0" stroke-width="0.3" />
<line x1="201.3" y1="353.0" x2="208.0" y2="351.3" stroke="#a0a0a0" stroke-width="0.3" />
<line x1="225.3" y1="347.5" x2="209.0" y2="334.0" stroke="#a0a0a0" stroke-width="0.3" />
<line x1="215.3" y1="335.3" x2="206.2" y2="342.3" stroke="#a0a0a0" stroke-width="0.3" />
<line x1="197.5" y1="343.1" x2="197.5" y2="343.1" stroke="#a0a0a0" stroke-width="0.3" />
<line x1="221.7" y1="340.1" x2="225.3" y2="347.5" stroke="#a0a0a0" stroke-width="0.3" />
<line x1="201.3" y1="353.0" x2="204.3" y2="347.7" stroke="#a0a0a0" stroke-width="0.3" />
<line x1="212.9" y1="330.8" x2="197.5" y2="343.1" stroke="#a0a0a0" stroke-width="0.3" />
<line x1="220.4" y1="345.0" x2="198.7" y2="347.0" stroke="#a0a0a0" stroke-width="0.3" />
<line x1="204.5" y1="332.8" x2="209.3" y2="346.3" stroke="#a0a0a0" stroke-width="0.3" />
<line x1="224.7" y1="335.6" x2="204.5" y2="332.8" stroke="#a0a0a0" stroke-width="0.3" />
<line x1="215.3" y1="335.3" x2="219.7" y2="352.6" stroke="#a0a0a0" stroke-width="0.3" />
<line x1="193.7" y1="351.2" x2="219.7" y2="352.6" stroke="#a0a0a0" stroke-width="0.3" />
<line x1="212.7" y1="353.2" x2="209.0" y2="334.0" stroke="#a0a0a0" stroke-width="0.3" />
<line x1="215.3" y1="335.3" x2="209.0" y2="334.0" stroke="#a0a0a0" stroke-width="0.3" />
<circle cx="212.7" cy="353.2" r="2.20" fill="#b4a5d8" stroke="#2f3a2c" stroke-width="0.4" />
<circle cx="201.3" cy="353.0" r="2.20" fill="#b4a5d8" stroke="#2f3a2c" stroke-width="0.4" />
<circle cx="206.2" cy="342.3" r="2.20" fill="#b4a5d8" stroke="#2f3a2c" stroke-width="0.4" />
<circle cx="227.2" cy="342.0" r="2.20" fill="#b4a5d8" stroke="#2f3a2c" stroke-width="0.4" />
<circle cx="215.3" cy="335.3" r="2.20" fill="#b4a5d8" stroke="#2f3a2c" stroke-width="0.4" />
<circle cx="196.9" cy="337.1" r="2.20" fill="#b4a5d8" stroke="#2f3a2c" stroke-width="0.4" />
<circle cx="193.8" cy="345.2" r="2.20" fill="#b4a5d8" stroke="#2f3a2c" stroke-width="0.4" />
<circle cx="209.0" cy="334.0" r="2.20" fill="#b4a5d8" stroke="#2f3a2c" stroke-width="0.4" />
<circle cx="209.3" cy="346.3" r="2.20" fill="#b4a5d8" stroke="#2f3a2c" stroke-width="0.4" />
<circle cx="204.5" cy="332.8" r="2.20" fill="#b4a5d8" stroke="#2f3a2c" stroke-width="0.4" />
<circle cx="193.7" cy="351.2" r="2.20" fill="#b4a5d8" stroke="#2f3a2c" stroke-width="0.4" />
<circle cx="213.7" cy="340.5" r="2.20" fill="#b4a5d8" stroke="#2f3a2c" stroke-width="0.4" />
<circle cx="216.5" cy="347.5" r="2.20" fill="#b4a5d8" stroke="#2f3a2c" stroke-width="0.4" />
<circle cx="221.7" cy="340.1" r="2.20" fill="#b4a5d8" stroke="#2f3a2c" stroke-width="0.4" />
<circle cx="201.9" cy="340.2" r="2.20" fill="#b4a5d8" stroke="#2f3a2c" stroke-width="0.4" />
<circle cx="193.6" cy="340.6" r="2.20" fill="#b4a5d8" stroke="#2f3a2c" stroke-width="0.4" />
<circle cx="219.8" cy="332.0" r="2.20" fill="#b4a5d8" stroke="#2f3a2c" stroke-width="0.4" />
<circle cx="225.3" cy="347.5" r="2.20" fill="#b4a5d8" stroke="#2f3a2c" stroke-width="0.4" />
<circle cx="204.3" cy="347.7" r="2.20" fill="#b4a5d8" stroke="#2f3a2c" stroke-width="0.4" />
<circle cx="207.4" cy="355.6" r="2.20" fill="#b4a5d8" stroke="#2f3a2c" stroke-width="0.4" />
<circle cx="224.7" cy="335.6" r="2.20" fill="#b4a5d8" stroke="#2f3a2c" stroke-width="0.4" />
<circle cx="219.7" cy="352.6" r="2.20" fill="#b4a5d8" stroke="#2f3a2c" stroke-width="0.4" />
<circle cx="220.4" cy="345.0" r="2.20" fill="#b4a5d8" stroke="#2f3a2c" stroke-width="0.4" />
<circle cx="198.7" cy="347.0" r="2.20" fill="#b4a5d8" stroke="#2f3a2c" stroke-width="0.4" />
<circle cx="209.5" cy="338.6" r="2.20" fill="#b4a5d8" stroke="#2f3a2c" stroke-width="0.4" />
<circle cx="197.1" cy="354.6" r="2.20" fill="#b4a5d8" stroke="#2f3a2c" stroke-width="0.4" />
<circle cx="212.9" cy="330.8" r="2.20" fill="#b4a5d8" stroke="#2f3a2c" stroke-width="0.4" />
<circle cx="208.0" cy="351.3" r="2.20" fill="#b4a5d8" stroke="#2f3a2c" stroke-width="0.4" />
<circle cx="205.1" cy="337.5" r="2.20" fill="#b4a5d8" stroke="#2f3a2c" stroke-width="0.4" />
<circle cx="197.5" cy="343.1" r="2.20" fill="#b4a5d8" stroke="#2f3a2c" stroke-width="0.4" />
<circle cx="204.7" cy="352.3" r="2.20" fill="#b4a5d8" stroke="#2f3a2c" stroke-width="0.4" />
<circle cx="190.9" cy="357.2" r="2.20" fill="#b4a5d8" stroke="#2f3a2c" stroke-width="0.4" />
<circle cx="201.4" cy="360.6" r="2.20" fill="#b4a5d8" stroke="#2f3a2c" stroke-width="0.4" />
<circle cx="207.2" cy="358.9" r="2.20" fill="#b4a5d8" stroke="#2f3a2c" stroke-width="0.4" />
<circle cx="197.3" cy="348.9" r="2.20" fill="#b4a5d8" stroke="#2f3a2c" stroke-width="0.4" />
<circle cx="190.9" cy="350.5" r="2.20" fill="#b4a5d8" stroke="#2f3a2c" stroke-width="0.4" />
<line x1="237.7" y1="336.8" x2="243.1" y2="330.6" stroke="#a0a0a0" stroke-width="0.3" />
<line x1="232.4" y1="335.5" x2="234.8" y2="329.5" stroke="#a0a0a0" stroke-width="0.3" />
<line x1="231.7" y1="331.3" x2="245.6" y2="333.2" stroke="#a0a0a0" stroke-width="0.3" />
<line x1="241.4" y1="339.2" x2="233.4" y2="340.2" stroke="#a0a0a0" stroke-width="0.3" />
<line x1="237.7" y1="336.8" x2="229.0" y2="333.7" stroke="#a0a0a0" stroke-width="0.3" />
<line x1="242.4" y1="335.1" x2="234.8" y2="329.5" stroke="#a0a0a0" stroke-width="0.3" />
<line x1="233.4" y1="340.2" x2="243.1" y2="330.6" stroke="#a0a0a0" stroke-width="0.3" />
<line x1="233.4" y1="340.2" x2="236.7" y2="332.2" stroke="#a0a0a0" stroke-width="0.3" />
<line x1="231.7" y1="331.3" x2="238.9" y2="329.0" stroke="#a0a0a0" stroke-width="0.3" />
<line x1="237.7" y1="336.8" x2="243.1" y2="330.6" stroke="#a0a0a0" stroke-width="0.3" />
<circle cx="237.7" cy="336.8" r="2.20" fill="#9d8cc8" stroke="#2f3a2c" stroke-width="0.4" />
<circle cx="242.4" cy="335.1" r="2.20" fill="#9d8cc8" stroke="#2f3a2c" stroke-width="0.4" />
<circle cx="243.1" cy="330.6" r="2.20" fill="#9d8cc8" stroke="#2f3a2c" stroke-width="0.4" />
<circle cx="236.7" cy="332.2" r="2.20" fill="#9d8cc8" stroke="#2f3a2c" stroke-width="0.4" />
<circle cx="232.4" cy="335.5" r="2.20" fill="#9d8cc8" stroke="#2f3a2c" stroke-width="0.4" />
<circle cx="233.4" cy="340.2" r="2.20" fill="#9d8cc8" stroke="#2f3a2c" stroke-width="0.4" />
<circle cx="231.7" cy="331.3" r="2.20" fill="#9d8cc8" stroke="#2f3a2c" stroke-width="0.4" />
<circle cx="228.7" cy="337.6" r="2.20" fill="#9d8cc8" stroke="#2f3a2c" stroke-width="0.4" />
<circle cx="241.4" cy="339.2" r="2.20" fill="#9d8cc8" stroke="#2f3a2c" stroke-width="0.4" />
<circle cx="237.7" cy="340.8" r="2.20" fill="#9d8cc8" stroke="#2f3a2c" stroke-width="0.4" />
<circle cx="238.9" cy="329.0" r="2.20" fill="#9d8cc8" stroke="#2f3a2c" stroke-width="0.4" />
<circle cx="229.0" cy="333.7" r="2.20" fill="#9d8cc8" stroke="#2f3a2c" stroke-width="0.4" />
<circle cx="245.6" cy="333.2" r="2.20" fill="#9d8cc8" stroke="#2f3a2c" stroke-width="0.4" />
<circle cx="240.2" cy="333.1" r="2.20" fill="#9d8cc8" stroke="#2f3a2c" stroke-width="0.4" />
<circle cx="234.8" cy="329.5" r="2.20" fill="#9d8cc8" stroke="#2f3a2c" stroke-width="0.4" />
<circle cx="234.8" cy="337.5" r="2.20" fill="#9d8cc8" stroke="#2f3a2c" stroke-width="0.4" />
<line x1="199.1" y1="412.4" x2="196.5" y2="410.0" stroke="#a0a0a0" stroke-width="0.3" />
<line x1="183.8" y1="403.9" x2="193.3" y2="411.1" stroke="#a0a0a0" stroke-width="0.3" />
<line x1="195.9" y1="398.3" x2="200.9" y2="397.1" stroke="#a0a0a0" stroke-width="0.3" />
<line x1="186.6" y1="406.9" x2="200.9" y2="397.1" stroke="#a0a0a0" stroke-width="0.3" />
<line x1="185.5" y1="410.7" x2="186.5" y2="392.6" stroke="#a0a0a0" stroke-width="0.3" />
<line x1="183.8" y1="403.9" x2="197.8" y2="405.2" stroke="#a0a0a0" stroke-width="0.3" />
<line x1="188.0" y1="413.0" x2="191.1" y2="414.2" stroke="#a0a0a0" stroke-width="0.3" />
<line x1="203.0" y1="400.8" x2="195.3" y2="402.5" stroke="#a0a0a0" stroke-width="0.3" />
<line x1="199.0" y1="392.5" x2="185.5" y2="410.7" stroke="#a0a0a0" stroke-width="0.3" />
<line x1="190.2" y1="397.6" x2="195.9" y2="414.0" stroke="#a0a0a0" stroke-width="0.3" />
<line x1="192.8" y1="390.5" x2="202.8" y2="405.9" stroke="#a0a0a0" stroke-width="0.3" />
<line x1="189.2" y1="388.2" x2="195.9" y2="414.0" stroke="#a0a0a0" stroke-width="0.3" />
<line x1="186.6" y1="406.9" x2="191.1" y2="414.2" stroke="#a0a0a0" stroke-width="0.3" />
<line x1="195.9" y1="388.0" x2="191.1" y2="414.2" stroke="#a0a0a0" stroke-width="0.3" />
<line x1="196.5" y1="410.0" x2="191.1" y2="414.2" stroke="#a0a0a0" stroke-width="0.3" />
<circle cx="186.5" cy="392.6" r="2.20" fill="#52b340" stroke="#2f3a2c" stroke-width="0.4" />
<circle cx="195.9" cy="388.0" r="2.20" fill="#52b340" stroke="#2f3a2c" stroke-width="0.4" />
<circle cx="200.0" cy="402.7" r="2.20" fill="#52b340" stroke="#2f3a2c" stroke-width="0.4" />
<circle cx="200.9" cy="397.1" r="2.20" fill="#52b340" stroke="#2f3a2c" stroke-width="0.4" />
<circle cx="195.9" cy="398.3" r="2.20" fill="#52b340" stroke="#2f3a2c" stroke-width="0.4" />
<circle cx="187.9" cy="402.3" r="2.20" fill="#52b340" stroke="#2f3a2c" stroke-width="0.4" />
<circle cx="185.3" cy="398.1" r="2.20" fill="#52b340" stroke="#2f3a2c" stroke-width="0.4" />
<circle cx="191.1" cy="414.2" r="2.20" fill="#52b340" stroke="#2f3a2c" stroke-width="0.4" />
<circle cx="190.2" cy="397.6" r="2.20" fill="#52b340" stroke="#2f3a2c" stroke-width="0.4" />
<circle cx="194.2" cy="407.3" r="2.20" fill="#52b340" stroke="#2f3a2c" stroke-width="0.4" />
<circle cx="195.9" cy="414.0" r="2.20" fill="#52b340" stroke="#2f3a2c" stroke-width="0.4" />
<circle cx="189.2" cy="388.2" r="2.20" fill="#52b340" stroke="#2f3a2c" stroke-width="0.4" />
<circle cx="189.9" cy="407.6" r="2.20" fill="#52b340" stroke="#2f3a2c" stroke-width="0.4" />
<circle cx="200.1" cy="408.6" r="2.20" fill="#52b340" stroke="#2f3a2c" stroke-width="0.4" />
<circle cx="185.5" cy="410.7" r="2.20" fill="#52b340" stroke="#2f3a2c" stroke-width="0.4" />
<circle cx="183.8" cy="403.9" r="2.20" fill="#52b340" stroke="#2f3a2c" stroke-width="0.4" />
<circle cx="199.0" cy="392.5" r="2.20" fill="#52b340" stroke="#2f3a2c" stroke-width="0.4" />
<circle cx="194.0" cy="394.2" r="2.20" fill="#52b340" stroke="#2f3a2c" stroke-width="0.4" />
<circle cx="195.3" cy="402.5" r="2.20" fill="#52b340" stroke="#2f3a2c" stroke-width="0.4" />
<circle cx="192.8" cy="390.5" r="2.20" fill="#52b340" stroke="#2f3a2c" stroke-width="0.4" />
<circle cx="191.8" cy="401.0" r="2.20" fill="#52b340" stroke="#2f3a2c" stroke-width="0.4" />
<circle cx="202.8" cy="405.9" r="2.20" fill="#52b340" stroke="#2f3a2c" stroke-width="0.4" />
<circle cx="196.5" cy="410.0" r="2.20" fill="#52b340" stroke="#2f3a2c" stroke-width="0.4" />
<circle cx="189.6" cy="394.2" r="2.20" fill="#52b340" stroke="#2f3a2c" stroke-width="0.4" />
<circle cx="203.0" cy="400.8" r="2.20" fill="#52b340" stroke="#2f3a2c" stroke-width="0.4" />
<circle cx="186.6" cy="406.9" r="2.20" fill="#52b340" stroke="#2f3a2c" stroke-width="0.4" />
<circle cx="193.3" cy="411.1" r="2.20" fill="#52b340" stroke="#2f3a2c" stroke-width="0.4" />
<circle cx="197.8" cy="405.2" r="2.20" fill="#52b340" stroke="#2f3a2c" stroke-width="0.4" />
<circle cx="199.1" cy="412.4" r="2.20" fill="#52b340" stroke="#2f3a2c" stroke-width="0.4" />
<circle cx="188.0" cy="413.0" r="2.20" fill="#52b340" stroke="#2f3a2c" stroke-width="0.4" />
<circle cx="190.7" cy="404.3" r="2.20" fill="#52b340" stroke="#2f3a2c" stroke-width="0.4" />
<circle cx="182.6" cy="400.2" r="2.20" fill="#52b340" stroke="#2f3a2c" stroke-width="0.4" />
<circle cx="189.6" cy="387.5" r="2.10" fill="#d4256f" stroke="#333" stroke-width="0.35" />
<circle cx="201.5" cy="387.5" r="2.10" fill="#d4256f" stroke="#333" stroke-width="0.35" />
<circle cx="207.0" cy="401.0" r="2.10" fill="#7a4aa0" stroke="#333" stroke-width="0.35" />
<circle cx="204.0" cy="410.0" r="2.10" fill="#7a4aa0" stroke="#333" stroke-width="0.35" />
<line x1="133.8" y1="433.2" x2="149.4" y2="428.5" stroke="#a0a0a0" stroke-width="0.3" />
<line x1="133.8" y1="433.2" x2="133.3" y2="439.2" stroke="#a0a0a0" stroke-width="0.3" />
<line x1="150.3" y1="437.7" x2="137.4" y2="440.2" stroke="#a0a0a0" stroke-width="0.3" />
<line x1="144.9" y1="429.2" x2="146.2" y2="420.3" stroke="#a0a0a0" stroke-width="0.3" />
<line x1="140.7" y1="436.3" x2="146.5" y2="425.1" stroke="#a0a0a0" stroke-width="0.3" />
<line x1="133.8" y1="433.2" x2="153.2" y2="426.0" stroke="#a0a0a0" stroke-width="0.3" />
<line x1="133.8" y1="433.2" x2="133.8" y2="433.2" stroke="#a0a0a0" stroke-width="0.3" />
<line x1="149.4" y1="428.5" x2="146.5" y2="425.1" stroke="#a0a0a0" stroke-width="0.3" />
<line x1="132.0" y1="420.7" x2="132.0" y2="420.7" stroke="#a0a0a0" stroke-width="0.3" />
<line x1="149.4" y1="428.5" x2="138.3" y2="431.0" stroke="#a0a0a0" stroke-width="0.3" />
<line x1="128.9" y1="429.8" x2="132.0" y2="420.7" stroke="#a0a0a0" stroke-width="0.3" />
<line x1="148.7" y1="431.9" x2="133.3" y2="439.2" stroke="#a0a0a0" stroke-width="0.3" />
<line x1="152.2" y1="432.0" x2="148.7" y2="431.9" stroke="#a0a0a0" stroke-width="0.3" />
<line x1="140.7" y1="436.3" x2="136.9" y2="424.4" stroke="#a0a0a0" stroke-width="0.3" />
<line x1="150.6" y1="422.2" x2="148.7" y2="431.9" stroke="#a0a0a0" stroke-width="0.3" />
<line x1="150.6" y1="422.2" x2="147.4" y2="440.7" stroke="#a0a0a0" stroke-width="0.3" />
<line x1="137.4" y1="440.2" x2="143.1" y2="438.9" stroke="#a0a0a0" stroke-width="0.3" />
<line x1="150.3" y1="437.7" x2="145.6" y2="433.8" stroke="#a0a0a0" stroke-width="0.3" />
<line x1="152.2" y1="432.0" x2="136.9" y2="424.4" stroke="#a0a0a0" stroke-width="0.3" />
<line x1="137.4" y1="440.2" x2="143.1" y2="438.9" stroke="#a0a0a0" stroke-width="0.3" />
<circle cx="146.2" cy="420.3" r="2.20" fill="#52b340" stroke="#2f3a2c" stroke-width="0.4" />
<circle cx="133.9" cy="429.3" r="2.20" fill="#52b340" stroke="#2f3a2c" stroke-width="0.4" />
<circle cx="152.2" cy="432.0" r="2.20" fill="#52b340" stroke="#2f3a2c" stroke-width="0.4" />
<circle cx="128.9" cy="429.8" r="2.20" fill="#52b340" stroke="#2f3a2c" stroke-width="0.4" />
<circle cx="131.2" cy="435.9" r="2.20" fill="#52b340" stroke="#2f3a2c" stroke-width="0.4" />
<circle cx="137.4" cy="440.2" r="2.20" fill="#52b340" stroke="#2f3a2c" stroke-width="0.4" />
<circle cx="141.2" cy="422.3" r="2.20" fill="#52b340" stroke="#2f3a2c" stroke-width="0.4" />
<circle cx="143.1" cy="438.9" r="2.20" fill="#52b340" stroke="#2f3a2c" stroke-width="0.4" />
<circle cx="146.5" cy="425.1" r="2.20" fill="#52b340" stroke="#2f3a2c" stroke-width="0.4" />
<circle cx="150.3" cy="437.7" r="2.20" fill="#52b340" stroke="#2f3a2c" stroke-width="0.4" />
<circle cx="145.6" cy="433.8" r="2.20" fill="#52b340" stroke="#2f3a2c" stroke-width="0.4" />
<circle cx="136.9" cy="424.4" r="2.20" fill="#52b340" stroke="#2f3a2c" stroke-width="0.4" />
<circle cx="137.8" cy="434.4" r="2.20" fill="#52b340" stroke="#2f3a2c" stroke-width="0.4" />
<circle cx="140.7" cy="428.7" r="2.20" fill="#52b340" stroke="#2f3a2c" stroke-width="0.4" />
<circle cx="136.5" cy="419.1" r="2.20" fill="#52b340" stroke="#2f3a2c" stroke-width="0.4" />
<circle cx="153.2" cy="426.0" r="2.20" fill="#52b340" stroke="#2f3a2c" stroke-width="0.4" />
<circle cx="130.9" cy="425.1" r="2.20" fill="#52b340" stroke="#2f3a2c" stroke-width="0.4" />
<circle cx="150.6" cy="422.2" r="2.20" fill="#52b340" stroke="#2f3a2c" stroke-width="0.4" />
<circle cx="149.4" cy="428.5" r="2.20" fill="#52b340" stroke="#2f3a2c" stroke-width="0.4" />
<circle cx="132.0" cy="420.7" r="2.20" fill="#52b340" stroke="#2f3a2c" stroke-width="0.4" />
<circle cx="144.9" cy="429.2" r="2.20" fill="#52b340" stroke="#2f3a2c" stroke-width="0.4" />
<circle cx="147.4" cy="440.7" r="2.20" fill="#52b340" stroke="#2f3a2c" stroke-width="0.4" />
<circle cx="142.2" cy="418.2" r="2.20" fill="#52b340" stroke="#2f3a2c" stroke-width="0.4" />
<circle cx="133.3" cy="439.2" r="2.20" fill="#52b340" stroke="#2f3a2c" stroke-width="0.4" />
<circle cx="141.9" cy="432.9" r="2.20" fill="#52b340" stroke="#2f3a2c" stroke-width="0.4" />
<circle cx="133.8" cy="433.2" r="2.20" fill="#52b340" stroke="#2f3a2c" stroke-width="0.4" />
<circle cx="138.3" cy="431.0" r="2.20" fill="#52b340" stroke="#2f3a2c" stroke-width="0.4" />
<circle cx="140.7" cy="436.3" r="2.20" fill="#52b340" stroke="#2f3a2c" stroke-width="0.4" />
<circle cx="143.1" cy="425.6" r="2.20" fill="#52b340" stroke="#2f3a2c" stroke-width="0.4" />
<circle cx="148.7" cy="431.9" r="2.20" fill="#52b340" stroke="#2f3a2c" stroke-width="0.4" />
<circle cx="167.5" cy="417.1" r="2.20" fill="#52b340" stroke="#2f3a2c" stroke-width="0.4" />
<circle cx="171.0" cy="417.1" r="2.20" fill="#52b340" stroke="#2f3a2c" stroke-width="0.4" />
<circle cx="95.4" cy="445.4" r="2.20" fill="#52b340" stroke="#2f3a2c" stroke-width="0.4" />
<circle cx="91.7" cy="442.1" r="2.20" fill="#52b340" stroke="#2f3a2c" stroke-width="0.4" />
<circle cx="103.0" cy="444.8" r="2.20" fill="#52b340" stroke="#2f3a2c" stroke-width="0.4" />
<circle cx="89.7" cy="445.9" r="2.20" fill="#52b340" stroke="#2f3a2c" stroke-width="0.4" />
<circle cx="98.9" cy="442.8" r="2.20" fill="#52b340" stroke="#2f3a2c" stroke-width="0.4" />
<circle cx="99.9" cy="447.8" r="2.20" fill="#52b340" stroke="#2f3a2c" stroke-width="0.4" />
<circle cx="99.1" cy="437.4" r="2.20" fill="#52b340" stroke="#2f3a2c" stroke-width="0.4" />
<circle cx="94.7" cy="437.9" r="2.20" fill="#52b340" stroke="#2f3a2c" stroke-width="0.4" />
<circle cx="103.4" cy="439.4" r="2.20" fill="#52b340" stroke="#2f3a2c" stroke-width="0.4" />
<circle cx="94.6" cy="449.6" r="2.20" fill="#52b340" stroke="#2f3a2c" stroke-width="0.4" />
<circle cx="91.0" cy="438.4" r="2.20" fill="#52b340" stroke="#2f3a2c" stroke-width="0.4" />
<circle cx="105.5" cy="442.2" r="2.20" fill="#52b340" stroke="#2f3a2c" stroke-width="0.4" />
<circle cx="88.3" cy="442.5" r="2.20" fill="#52b340" stroke="#2f3a2c" stroke-width="0.4" />
<circle cx="95.6" cy="441.2" r="2.20" fill="#52b340" stroke="#2f3a2c" stroke-width="0.4" />
<circle cx="91.5" cy="448.4" r="2.20" fill="#52b340" stroke="#2f3a2c" stroke-width="0.4" />
<circle cx="103.1" cy="448.0" r="2.20" fill="#52b340" stroke="#2f3a2c" stroke-width="0.4" />
<circle cx="101.7" cy="441.8" r="2.20" fill="#52b340" stroke="#2f3a2c" stroke-width="0.4" />
<circle cx="92.4" cy="445.1" r="2.20" fill="#52b340" stroke="#2f3a2c" stroke-width="0.4" />
<circle cx="96.9" cy="448.0" r="2.20" fill="#52b340" stroke="#2f3a2c" stroke-width="0.4" />
<circle cx="96.8" cy="436.2" r="2.20" fill="#52b340" stroke="#2f3a2c" stroke-width="0.4" />
<circle cx="101.9" cy="466.5" r="2.20" fill="#52b340" stroke="#2f3a2c" stroke-width="0.4" />
<circle cx="109.9" cy="463.3" r="2.20" fill="#52b340" stroke="#2f3a2c" stroke-width="0.4" />
<circle cx="106.6" cy="458.5" r="2.20" fill="#52b340" stroke="#2f3a2c" stroke-width="0.4" />
<circle cx="102.5" cy="460.9" r="2.20" fill="#52b340" stroke="#2f3a2c" stroke-width="0.4" />
<circle cx="98.4" cy="463.4" r="2.20" fill="#52b340" stroke="#2f3a2c" stroke-width="0.4" />
<circle cx="106.8" cy="467.0" r="2.20" fill="#52b340" stroke="#2f3a2c" stroke-width="0.4" />
<circle cx="105.5" cy="463.2" r="2.20" fill="#52b340" stroke="#2f3a2c" stroke-width="0.4" />
<circle cx="99.3" cy="460.0" r="2.20" fill="#52b340" stroke="#2f3a2c" stroke-width="0.4" />
<circle cx="103.6" cy="458.1" r="2.20" fill="#52b340" stroke="#2f3a2c" stroke-width="0.4" />
<circle cx="101.3" cy="463.7" r="2.20" fill="#52b340" stroke="#2f3a2c" stroke-width="0.4" />
<circle cx="107.6" cy="461.2" r="2.20" fill="#52b340" stroke="#2f3a2c" stroke-width="0.4" />
<circle cx="104.4" cy="465.5" r="2.20" fill="#52b340" stroke="#2f3a2c" stroke-width="0.4" />
<circle cx="107.0" cy="452.0" r="2.10" fill="#52b340" stroke="#333" stroke-width="0.35" />
<circle cx="112.9" cy="488.4" r="2.20" fill="#52b340" stroke="#2f3a2c" stroke-width="0.4" />
<circle cx="117.2" cy="489.0" r="2.20" fill="#52b340" stroke="#2f3a2c" stroke-width="0.4" />
<circle cx="111.9" cy="480.0" r="2.20" fill="#52b340" stroke="#2f3a2c" stroke-width="0.4" />
<circle cx="106.6" cy="482.5" r="2.20" fill="#52b340" stroke="#2f3a2c" stroke-width="0.4" />
<circle cx="119.8" cy="485.1" r="2.20" fill="#52b340" stroke="#2f3a2c" stroke-width="0.4" />
<circle cx="115.7" cy="482.0" r="2.20" fill="#52b340" stroke="#2f3a2c" stroke-width="0.4" />
<circle cx="109.8" cy="485.5" r="2.20" fill="#52b340" stroke="#2f3a2c" stroke-width="0.4" />
<circle cx="107.9" cy="478.4" r="2.20" fill="#52b340" stroke="#2f3a2c" stroke-width="0.4" />
<circle cx="121.3" cy="488.8" r="2.20" fill="#52b340" stroke="#2f3a2c" stroke-width="0.4" />
<circle cx="115.6" cy="485.8" r="2.20" fill="#52b340" stroke="#2f3a2c" stroke-width="0.4" />
<circle cx="112.7" cy="483.5" r="2.20" fill="#52b340" stroke="#2f3a2c" stroke-width="0.4" />
<circle cx="109.7" cy="482.2" r="2.20" fill="#52b340" stroke="#2f3a2c" stroke-width="0.4" />
<circle cx="118.8" cy="481.9" r="2.20" fill="#52b340" stroke="#2f3a2c" stroke-width="0.4" />
<circle cx="114.4" cy="479.6" r="2.20" fill="#52b340" stroke="#2f3a2c" stroke-width="0.4" />
<circle cx="131.7" cy="467.3" r="2.20" fill="#52b340" stroke="#2f3a2c" stroke-width="0.4" />
<circle cx="150.7" cy="490.7" r="2.20" fill="#52b340" stroke="#2f3a2c" stroke-width="0.4" />
<circle cx="156.0" cy="478.8" r="2.20" fill="#52b340" stroke="#2f3a2c" stroke-width="0.4" />
<line x1="157.1" y1="455.4" x2="163.3" y2="446.5" stroke="#a0a0a0" stroke-width="0.3" />
<line x1="166.7" y1="461.2" x2="150.4" y2="455.9" stroke="#a0a0a0" stroke-width="0.3" />
<line x1="164.3" y1="462.2" x2="158.4" y2="453.3" stroke="#a0a0a0" stroke-width="0.3" />
<line x1="166.7" y1="461.2" x2="161.9" y2="465.6" stroke="#a0a0a0" stroke-width="0.3" />
<line x1="155.0" y1="447.0" x2="164.3" y2="462.2" stroke="#a0a0a0" stroke-width="0.3" />
<line x1="155.0" y1="447.0" x2="159.6" y2="458.1" stroke="#a0a0a0" stroke-width="0.3" />
<line x1="153.6" y1="465.5" x2="160.3" y2="462.3" stroke="#a0a0a0" stroke-width="0.3" />
<line x1="170.0" y1="458.8" x2="160.7" y2="445.8" stroke="#a0a0a0" stroke-width="0.3" />
<line x1="150.4" y1="455.9" x2="150.4" y2="455.9" stroke="#a0a0a0" stroke-width="0.3" />
<line x1="158.2" y1="469.5" x2="162.3" y2="455.8" stroke="#a0a0a0" stroke-width="0.3" />
<line x1="156.2" y1="462.8" x2="160.3" y2="462.3" stroke="#a0a0a0" stroke-width="0.3" />
<line x1="163.3" y1="453.3" x2="163.3" y2="446.5" stroke="#a0a0a0" stroke-width="0.3" />
<line x1="166.0" y1="467.3" x2="150.3" y2="458.4" stroke="#a0a0a0" stroke-width="0.3" />
<line x1="156.2" y1="462.8" x2="167.1" y2="458.4" stroke="#a0a0a0" stroke-width="0.3" />
<line x1="160.6" y1="452.1" x2="152.6" y2="454.6" stroke="#a0a0a0" stroke-width="0.3" />
<line x1="160.6" y1="452.1" x2="154.9" y2="469.0" stroke="#a0a0a0" stroke-width="0.3" />
<line x1="154.9" y1="469.0" x2="153.6" y2="465.5" stroke="#a0a0a0" stroke-width="0.3" />
<line x1="154.9" y1="469.0" x2="168.4" y2="451.2" stroke="#a0a0a0" stroke-width="0.3" />
<line x1="157.0" y1="459.9" x2="160.3" y2="462.3" stroke="#a0a0a0" stroke-width="0.3" />
<line x1="158.4" y1="453.3" x2="160.6" y2="452.1" stroke="#a0a0a0" stroke-width="0.3" />
<line x1="152.4" y1="450.0" x2="155.5" y2="452.2" stroke="#a0a0a0" stroke-width="0.3" />
<line x1="155.0" y1="447.0" x2="164.3" y2="462.2" stroke="#a0a0a0" stroke-width="0.3" />
<line x1="166.7" y1="461.2" x2="168.6" y2="454.8" stroke="#a0a0a0" stroke-width="0.3" />
<line x1="166.4" y1="448.2" x2="167.1" y2="458.4" stroke="#a0a0a0" stroke-width="0.3" />
<line x1="155.5" y1="452.2" x2="157.8" y2="465.7" stroke="#a0a0a0" stroke-width="0.3" />
<line x1="167.1" y1="458.4" x2="150.3" y2="458.4" stroke="#a0a0a0" stroke-width="0.3" />
<line x1="161.9" y1="465.6" x2="157.1" y2="455.4" stroke="#a0a0a0" stroke-width="0.3" />
<line x1="170.0" y1="458.8" x2="162.3" y2="455.8" stroke="#a0a0a0" stroke-width="0.3" />
<line x1="155.5" y1="452.2" x2="156.2" y2="462.8" stroke="#a0a0a0" stroke-width="0.3" />
<line x1="163.1" y1="459.0" x2="157.8" y2="465.7" stroke="#a0a0a0" stroke-width="0.3" />
<line x1="154.1" y1="456.8" x2="161.9" y2="465.6" stroke="#a0a0a0" stroke-width="0.3" />
<line x1="170.0" y1="458.8" x2="168.6" y2="454.8" stroke="#a0a0a0" stroke-width="0.3" />
<line x1="163.1" y1="459.0" x2="150.3" y2="458.4" stroke="#a0a0a0" stroke-width="0.3" />
<line x1="152.4" y1="450.0" x2="160.7" y2="445.8" stroke="#a0a0a0" stroke-width="0.3" />
<line x1="163.3" y1="453.3" x2="162.5" y2="449.4" stroke="#a0a0a0" stroke-width="0.3" />
<line x1="168.4" y1="451.2" x2="150.4" y2="455.9" stroke="#a0a0a0" stroke-width="0.3" />
<line x1="154.1" y1="459.8" x2="165.5" y2="454.8" stroke="#a0a0a0" stroke-width="0.3" />
<line x1="158.2" y1="469.5" x2="162.3" y2="455.8" stroke="#a0a0a0" stroke-width="0.3" />
<line x1="154.9" y1="469.0" x2="154.9" y2="469.0" stroke="#a0a0a0" stroke-width="0.3" />
<line x1="168.6" y1="454.8" x2="160.3" y2="462.3" stroke="#a0a0a0" stroke-width="0.3" />
<circle cx="154.1" cy="459.8" r="2.20" fill="#52b340" stroke="#2f3a2c" stroke-width="0.4" />
<circle cx="166.0" cy="467.3" r="2.20" fill="#52b340" stroke="#2f3a2c" stroke-width="0.4" />
<circle cx="167.1" cy="458.4" r="2.20" fill="#52b340" stroke="#2f3a2c" stroke-width="0.4" />
<circle cx="162.3" cy="455.8" r="2.20" fill="#52b340" stroke="#2f3a2c" stroke-width="0.4" />
<circle cx="152.6" cy="454.6" r="2.20" fill="#52b340" stroke="#2f3a2c" stroke-width="0.4" />
<circle cx="158.1" cy="449.6" r="2.20" fill="#52b340" stroke="#2f3a2c" stroke-width="0.4" />
<circle cx="160.3" cy="462.3" r="2.20" fill="#52b340" stroke="#2f3a2c" stroke-width="0.4" />
<circle cx="153.6" cy="465.5" r="2.20" fill="#52b340" stroke="#2f3a2c" stroke-width="0.4" />
<circle cx="164.3" cy="462.2" r="2.20" fill="#52b340" stroke="#2f3a2c" stroke-width="0.4" />
<circle cx="158.2" cy="469.5" r="2.20" fill="#52b340" stroke="#2f3a2c" stroke-width="0.4" />
<circle cx="157.1" cy="455.4" r="2.20" fill="#52b340" stroke="#2f3a2c" stroke-width="0.4" />
<circle cx="152.4" cy="450.0" r="2.20" fill="#52b340" stroke="#2f3a2c" stroke-width="0.4" />
<circle cx="162.5" cy="449.4" r="2.20" fill="#52b340" stroke="#2f3a2c" stroke-width="0.4" />
<circle cx="169.4" cy="462.0" r="2.20" fill="#52b340" stroke="#2f3a2c" stroke-width="0.4" />
<circle cx="165.7" cy="451.8" r="2.20" fill="#52b340" stroke="#2f3a2c" stroke-width="0.4" />
<circle cx="160.7" cy="445.8" r="2.20" fill="#52b340" stroke="#2f3a2c" stroke-width="0.4" />
<circle cx="162.3" cy="469.5" r="2.20" fill="#52b340" stroke="#2f3a2c" stroke-width="0.4" />
<circle cx="150.3" cy="458.4" r="2.20" fill="#52b340" stroke="#2f3a2c" stroke-width="0.4" />
<circle cx="168.6" cy="454.8" r="2.20" fill="#52b340" stroke="#2f3a2c" stroke-width="0.4" />
<circle cx="157.8" cy="465.7" r="2.20" fill="#52b340" stroke="#2f3a2c" stroke-width="0.4" />
<circle cx="155.0" cy="447.0" r="2.20" fill="#52b340" stroke="#2f3a2c" stroke-width="0.4" />
<circle cx="155.5" cy="452.2" r="2.20" fill="#52b340" stroke="#2f3a2c" stroke-width="0.4" />
<circle cx="161.9" cy="465.6" r="2.20" fill="#52b340" stroke="#2f3a2c" stroke-width="0.4" />
<circle cx="159.6" cy="458.1" r="2.20" fill="#52b340" stroke="#2f3a2c" stroke-width="0.4" />
<circle cx="166.4" cy="448.2" r="2.20" fill="#52b340" stroke="#2f3a2c" stroke-width="0.4" />
<circle cx="151.1" cy="461.7" r="2.20" fill="#52b340" stroke="#2f3a2c" stroke-width="0.4" />
<circle cx="163.1" cy="459.0" r="2.20" fill="#52b340" stroke="#2f3a2c" stroke-width="0.4" />
<circle cx="154.9" cy="469.0" r="2.20" fill="#52b340" stroke="#2f3a2c" stroke-width="0.4" />
<circle cx="156.2" cy="462.8" r="2.20" fill="#52b340" stroke="#2f3a2c" stroke-width="0.4" />
<circle cx="160.6" cy="452.1" r="2.20" fill="#52b340" stroke="#2f3a2c" stroke-width="0.4" />
<circle cx="167.0" cy="464.2" r="2.20" fill="#52b340" stroke="#2f3a2c" stroke-width="0.4" />
<circle cx="165.5" cy="454.8" r="2.20" fill="#52b340" stroke="#2f3a2c" stroke-width="0.4" />
<circle cx="157.0" cy="459.9" r="2.20" fill="#52b340" stroke="#2f3a2c" stroke-width="0.4" />
<circle cx="170.0" cy="458.8" r="2.20" fill="#52b340" stroke="#2f3a2c" stroke-width="0.4" />
<circle cx="168.4" cy="451.2" r="2.20" fill="#52b340" stroke="#2f3a2c" stroke-width="0.4" />
<circle cx="157.9" cy="446.3" r="2.20" fill="#52b340" stroke="#2f3a2c" stroke-width="0.4" />
<circle cx="163.3" cy="446.5" r="2.20" fill="#52b340" stroke="#2f3a2c" stroke-width="0.4" />
<circle cx="154.1" cy="456.8" r="2.20" fill="#52b340" stroke="#2f3a2c" stroke-width="0.4" />
<circle cx="163.3" cy="453.3" r="2.20" fill="#52b340" stroke="#2f3a2c" stroke-width="0.4" />
<circle cx="150.4" cy="455.9" r="2.20" fill="#52b340" stroke="#2f3a2c" stroke-width="0.4" />
<circle cx="166.7" cy="461.2" r="2.20" fill="#52b340" stroke="#2f3a2c" stroke-width="0.4" />
<circle cx="158.4" cy="453.3" r="2.20" fill="#52b340" stroke="#2f3a2c" stroke-width="0.4" />
<line x1="174.4" y1="476.0" x2="167.2" y2="477.1" stroke="#a0a0a0" stroke-width="0.3" />
<line x1="171.7" y1="484.5" x2="167.2" y2="477.1" stroke="#a0a0a0" stroke-width="0.3" />
<line x1="167.9" y1="480.9" x2="170.9" y2="475.7" stroke="#a0a0a0" stroke-width="0.3" />
<line x1="176.8" y1="473.7" x2="174.0" y2="482.4" stroke="#a0a0a0" stroke-width="0.3" />
<line x1="172.0" y1="480.5" x2="173.4" y2="473.2" stroke="#a0a0a0" stroke-width="0.3" />
<line x1="170.9" y1="475.7" x2="167.2" y2="477.1" stroke="#a0a0a0" stroke-width="0.3" />
<line x1="174.4" y1="476.0" x2="171.0" y2="470.9" stroke="#a0a0a0" stroke-width="0.3" />
<line x1="171.0" y1="470.9" x2="176.8" y2="473.7" stroke="#a0a0a0" stroke-width="0.3" />
<circle cx="175.7" cy="478.6" r="2.20" fill="#52b340" stroke="#2f3a2c" stroke-width="0.4" />
<circle cx="170.9" cy="475.7" r="2.20" fill="#52b340" stroke="#2f3a2c" stroke-width="0.4" />
<circle cx="176.8" cy="473.7" r="2.20" fill="#52b340" stroke="#2f3a2c" stroke-width="0.4" />
<circle cx="167.9" cy="480.9" r="2.20" fill="#52b340" stroke="#2f3a2c" stroke-width="0.4" />
<circle cx="176.9" cy="483.7" r="2.20" fill="#52b340" stroke="#2f3a2c" stroke-width="0.4" />
<circle cx="171.0" cy="470.9" r="2.20" fill="#52b340" stroke="#2f3a2c" stroke-width="0.4" />
<circle cx="171.7" cy="484.5" r="2.20" fill="#52b340" stroke="#2f3a2c" stroke-width="0.4" />
<circle cx="167.1" cy="473.6" r="2.20" fill="#52b340" stroke="#2f3a2c" stroke-width="0.4" />
<circle cx="172.0" cy="480.5" r="2.20" fill="#52b340" stroke="#2f3a2c" stroke-width="0.4" />
<circle cx="179.3" cy="479.3" r="2.20" fill="#52b340" stroke="#2f3a2c" stroke-width="0.4" />
<circle cx="167.2" cy="477.1" r="2.20" fill="#52b340" stroke="#2f3a2c" stroke-width="0.4" />
<circle cx="173.4" cy="473.2" r="2.20" fill="#52b340" stroke="#2f3a2c" stroke-width="0.4" />
<circle cx="174.4" cy="476.0" r="2.20" fill="#52b340" stroke="#2f3a2c" stroke-width="0.4" />
<circle cx="169.8" cy="478.4" r="2.20" fill="#52b340" stroke="#2f3a2c" stroke-width="0.4" />
<circle cx="174.0" cy="482.4" r="2.20" fill="#52b340" stroke="#2f3a2c" stroke-width="0.4" />
<circle cx="178.3" cy="476.5" r="2.20" fill="#52b340" stroke="#2f3a2c" stroke-width="0.4" />
<circle cx="146.7" cy="473.8" r="2.20" fill="#52b340" stroke="#2f3a2c" stroke-width="0.4" />
<circle cx="151.5" cy="467.3" r="2.20" fill="#52b340" stroke="#2f3a2c" stroke-width="0.4" />
<circle cx="154.3" cy="473.8" r="2.20" fill="#52b340" stroke="#2f3a2c" stroke-width="0.4" />
<circle cx="147.5" cy="468.9" r="2.20" fill="#52b340" stroke="#2f3a2c" stroke-width="0.4" />
<circle cx="151.1" cy="476.8" r="2.20" fill="#52b340" stroke="#2f3a2c" stroke-width="0.4" />
<circle cx="150.6" cy="471.6" r="2.20" fill="#52b340" stroke="#2f3a2c" stroke-width="0.4" />
<circle cx="154.5" cy="469.9" r="2.20" fill="#52b340" stroke="#2f3a2c" stroke-width="0.4" />
<circle cx="145.2" cy="471.1" r="2.20" fill="#52b340" stroke="#2f3a2c" stroke-width="0.4" />
<line x1="183.4" y1="465.0" x2="189.7" y2="469.0" stroke="#a0a0a0" stroke-width="0.3" />
<line x1="194.4" y1="465.1" x2="194.4" y2="465.1" stroke="#a0a0a0" stroke-width="0.3" />
<line x1="197.5" y1="463.7" x2="190.9" y2="465.6" stroke="#a0a0a0" stroke-width="0.3" />
<line x1="186.6" y1="459.8" x2="187.2" y2="464.0" stroke="#a0a0a0" stroke-width="0.3" />
<line x1="190.2" y1="472.7" x2="190.5" y2="462.7" stroke="#a0a0a0" stroke-width="0.3" />
<line x1="197.5" y1="463.7" x2="191.1" y2="459.7" stroke="#a0a0a0" stroke-width="0.3" />
<line x1="192.2" y1="470.7" x2="192.2" y2="470.7" stroke="#a0a0a0" stroke-width="0.3" />
<line x1="197.3" y1="467.2" x2="191.1" y2="459.7" stroke="#a0a0a0" stroke-width="0.3" />
<line x1="181.3" y1="469.9" x2="195.0" y2="469.6" stroke="#a0a0a0" stroke-width="0.3" />
<line x1="181.3" y1="469.9" x2="180.1" y2="466.6" stroke="#a0a0a0" stroke-width="0.3" />
<line x1="197.5" y1="463.7" x2="187.2" y2="464.0" stroke="#a0a0a0" stroke-width="0.3" />
<line x1="186.0" y1="469.1" x2="183.4" y2="465.0" stroke="#a0a0a0" stroke-width="0.3" />
<line x1="189.7" y1="469.0" x2="186.0" y2="469.1" stroke="#a0a0a0" stroke-width="0.3" />
<line x1="182.9" y1="461.2" x2="192.2" y2="470.7" stroke="#a0a0a0" stroke-width="0.3" />
<line x1="183.4" y1="465.0" x2="181.3" y2="469.9" stroke="#a0a0a0" stroke-width="0.3" />
<line x1="190.5" y1="462.7" x2="195.0" y2="469.6" stroke="#a0a0a0" stroke-width="0.3" />
<line x1="192.2" y1="470.7" x2="183.4" y2="465.0" stroke="#a0a0a0" stroke-width="0.3" />
<line x1="191.1" y1="459.7" x2="190.9" y2="465.6" stroke="#a0a0a0" stroke-width="0.3" />
<line x1="194.4" y1="461.7" x2="186.0" y2="469.1" stroke="#a0a0a0" stroke-width="0.3" />
<line x1="191.1" y1="459.7" x2="181.3" y2="469.9" stroke="#a0a0a0" stroke-width="0.3" />
<line x1="187.2" y1="464.0" x2="192.2" y2="470.7" stroke="#a0a0a0" stroke-width="0.3" />
<line x1="187.2" y1="464.0" x2="197.5" y2="463.7" stroke="#a0a0a0" stroke-width="0.3" />
<line x1="186.1" y1="472.7" x2="192.7" y2="467.9" stroke="#a0a0a0" stroke-width="0.3" />
<line x1="191.1" y1="459.7" x2="197.3" y2="467.2" stroke="#a0a0a0" stroke-width="0.3" />
<line x1="190.9" y1="465.6" x2="180.1" y2="466.6" stroke="#a0a0a0" stroke-width="0.3" />
<circle cx="183.4" cy="465.0" r="2.20" fill="#52b340" stroke="#2f3a2c" stroke-width="0.4" />
<circle cx="191.1" cy="459.7" r="2.20" fill="#52b340" stroke="#2f3a2c" stroke-width="0.4" />
<circle cx="190.2" cy="472.7" r="2.20" fill="#52b340" stroke="#2f3a2c" stroke-width="0.4" />
<circle cx="190.9" cy="465.6" r="2.20" fill="#52b340" stroke="#2f3a2c" stroke-width="0.4" />
<circle cx="186.0" cy="469.1" r="2.20" fill="#52b340" stroke="#2f3a2c" stroke-width="0.4" />
<circle cx="195.0" cy="469.6" r="2.20" fill="#52b340" stroke="#2f3a2c" stroke-width="0.4" />
<circle cx="197.5" cy="463.7" r="2.20" fill="#52b340" stroke="#2f3a2c" stroke-width="0.4" />
<circle cx="181.3" cy="469.9" r="2.20" fill="#52b340" stroke="#2f3a2c" stroke-width="0.4" />
<circle cx="186.6" cy="459.8" r="2.20" fill="#52b340" stroke="#2f3a2c" stroke-width="0.4" />
<circle cx="187.2" cy="464.0" r="2.20" fill="#52b340" stroke="#2f3a2c" stroke-width="0.4" />
<circle cx="194.4" cy="461.7" r="2.20" fill="#52b340" stroke="#2f3a2c" stroke-width="0.4" />
<circle cx="182.9" cy="461.2" r="2.20" fill="#52b340" stroke="#2f3a2c" stroke-width="0.4" />
<circle cx="186.1" cy="472.7" r="2.20" fill="#52b340" stroke="#2f3a2c" stroke-width="0.4" />
<circle cx="189.7" cy="469.0" r="2.20" fill="#52b340" stroke="#2f3a2c" stroke-width="0.4" />
<circle cx="180.1" cy="466.6" r="2.20" fill="#52b340" stroke="#2f3a2c" stroke-width="0.4" />
<circle cx="194.4" cy="465.1" r="2.20" fill="#52b340" stroke="#2f3a2c" stroke-width="0.4" />
<circle cx="197.3" cy="467.2" r="2.20" fill="#52b340" stroke="#2f3a2c" stroke-width="0.4" />
<circle cx="190.5" cy="462.7" r="2.20" fill="#52b340" stroke="#2f3a2c" stroke-width="0.4" />
<circle cx="192.2" cy="470.7" r="2.20" fill="#52b340" stroke="#2f3a2c" stroke-width="0.4" />
<circle cx="192.7" cy="467.9" r="2.20" fill="#52b340" stroke="#2f3a2c" stroke-width="0.4" />
<circle cx="179.0" cy="455.9" r="2.20" fill="#52b340" stroke="#2f3a2c" stroke-width="0.4" />
<circle cx="173.3" cy="456.3" r="2.20" fill="#52b340" stroke="#2f3a2c" stroke-width="0.4" />
<circle cx="176.4" cy="459.8" r="2.20" fill="#52b340" stroke="#2f3a2c" stroke-width="0.4" />
<circle cx="176.1" cy="454.0" r="2.20" fill="#52b340" stroke="#2f3a2c" stroke-width="0.4" />
<circle cx="179.8" cy="458.9" r="2.20" fill="#52b340" stroke="#2f3a2c" stroke-width="0.4" />
<circle cx="213.7" cy="450.1" r="2.20" fill="#52b340" stroke="#2f3a2c" stroke-width="0.4" />
<circle cx="221.6" cy="447.4" r="2.20" fill="#52b340" stroke="#2f3a2c" stroke-width="0.4" />
<circle cx="219.7" cy="452.3" r="2.20" fill="#52b340" stroke="#2f3a2c" stroke-width="0.4" />
<circle cx="214.3" cy="445.8" r="2.20" fill="#52b340" stroke="#2f3a2c" stroke-width="0.4" />
<circle cx="218.6" cy="444.5" r="2.20" fill="#52b340" stroke="#2f3a2c" stroke-width="0.4" />
<circle cx="217.4" cy="448.4" r="2.20" fill="#52b340" stroke="#2f3a2c" stroke-width="0.4" />
<circle cx="215.8" cy="453.5" r="2.20" fill="#52b340" stroke="#2f3a2c" stroke-width="0.4" />
<circle cx="223.2" cy="450.8" r="2.20" fill="#52b340" stroke="#2f3a2c" stroke-width="0.4" />
<circle cx="217.2" cy="451.0" r="2.20" fill="#52b340" stroke="#2f3a2c" stroke-width="0.4" />
<circle cx="219.8" cy="449.6" r="2.20" fill="#52b340" stroke="#2f3a2c" stroke-width="0.4" />
<circle cx="221.3" cy="444.9" r="2.20" fill="#52b340" stroke="#2f3a2c" stroke-width="0.4" />
<circle cx="223.8" cy="448.5" r="2.20" fill="#52b340" stroke="#2f3a2c" stroke-width="0.4" />
<circle cx="216.9" cy="446.1" r="2.20" fill="#52b340" stroke="#2f3a2c" stroke-width="0.4" />
<circle cx="213.1" cy="447.8" r="2.20" fill="#52b340" stroke="#2f3a2c" stroke-width="0.4" />
<circle cx="192.2" cy="462.4" r="2.20" fill="#52b340" stroke="#2f3a2c" stroke-width="0.4" />
<circle cx="197.0" cy="459.2" r="2.20" fill="#52b340" stroke="#2f3a2c" stroke-width="0.4" />
<circle cx="204.4" cy="458.7" r="2.20" fill="#52b340" stroke="#2f3a2c" stroke-width="0.4" />
<circle cx="198.7" cy="463.8" r="2.20" fill="#52b340" stroke="#2f3a2c" stroke-width="0.4" />
<circle cx="200.5" cy="456.2" r="2.20" fill="#52b340" stroke="#2f3a2c" stroke-width="0.4" />
<circle cx="202.6" cy="462.4" r="2.20" fill="#52b340" stroke="#2f3a2c" stroke-width="0.4" />
<circle cx="192.6" cy="458.7" r="2.20" fill="#52b340" stroke="#2f3a2c" stroke-width="0.4" />
<circle cx="195.1" cy="464.4" r="2.20" fill="#52b340" stroke="#2f3a2c" stroke-width="0.4" />
<circle cx="207.7" cy="458.0" r="2.20" fill="#52b340" stroke="#2f3a2c" stroke-width="0.4" />
<circle cx="200.7" cy="459.7" r="2.20" fill="#52b340" stroke="#2f3a2c" stroke-width="0.4" />
<circle cx="203.7" cy="455.6" r="2.20" fill="#52b340" stroke="#2f3a2c" stroke-width="0.4" />
<circle cx="195.0" cy="461.4" r="2.20" fill="#52b340" stroke="#2f3a2c" stroke-width="0.4" />
<circle cx="206.4" cy="460.5" r="2.20" fill="#52b340" stroke="#2f3a2c" stroke-width="0.4" />
<circle cx="197.9" cy="456.5" r="2.20" fill="#52b340" stroke="#2f3a2c" stroke-width="0.4" />
<circle cx="226.3" cy="471.2" r="2.20" fill="#52b340" stroke="#2f3a2c" stroke-width="0.4" />
<circle cx="221.6" cy="463.5" r="2.20" fill="#52b340" stroke="#2f3a2c" stroke-width="0.4" />
<circle cx="229.4" cy="463.0" r="2.20" fill="#52b340" stroke="#2f3a2c" stroke-width="0.4" />
<circle cx="232.2" cy="469.7" r="2.20" fill="#52b340" stroke="#2f3a2c" stroke-width="0.4" />
<circle cx="234.1" cy="464.2" r="2.20" fill="#52b340" stroke="#2f3a2c" stroke-width="0.4" />
<circle cx="217.5" cy="468.9" r="2.20" fill="#52b340" stroke="#2f3a2c" stroke-width="0.4" />
<circle cx="222.2" cy="468.4" r="2.20" fill="#52b340" stroke="#2f3a2c" stroke-width="0.4" />
<circle cx="227.7" cy="467.0" r="2.20" fill="#52b340" stroke="#2f3a2c" stroke-width="0.4" />
<circle cx="220.5" cy="471.8" r="2.20" fill="#52b340" stroke="#2f3a2c" stroke-width="0.4" />
<circle cx="225.5" cy="462.8" r="2.20" fill="#52b340" stroke="#2f3a2c" stroke-width="0.4" />
<circle cx="218.3" cy="465.2" r="2.20" fill="#52b340" stroke="#2f3a2c" stroke-width="0.4" />
<circle cx="231.0" cy="466.4" r="2.20" fill="#52b340" stroke="#2f3a2c" stroke-width="0.4" />
<circle cx="235.0" cy="467.9" r="2.20" fill="#52b340" stroke="#2f3a2c" stroke-width="0.4" />
<circle cx="229.5" cy="470.9" r="2.20" fill="#52b340" stroke="#2f3a2c" stroke-width="0.4" />
<circle cx="224.9" cy="466.2" r="2.20" fill="#52b340" stroke="#2f3a2c" stroke-width="0.4" />
<circle cx="223.4" cy="471.2" r="2.20" fill="#52b340" stroke="#2f3a2c" stroke-width="0.4" />
<circle cx="256.9" cy="471.1" r="2.20" fill="#52b340" stroke="#2f3a2c" stroke-width="0.4" />
<circle cx="249.6" cy="465.8" r="2.20" fill="#52b340" stroke="#2f3a2c" stroke-width="0.4" />
<circle cx="252.6" cy="471.0" r="2.20" fill="#52b340" stroke="#2f3a2c" stroke-width="0.4" />
<circle cx="256.9" cy="466.1" r="2.20" fill="#52b340" stroke="#2f3a2c" stroke-width="0.4" />
<circle cx="247.7" cy="470.8" r="2.20" fill="#52b340" stroke="#2f3a2c" stroke-width="0.4" />
<circle cx="253.4" cy="467.3" r="2.20" fill="#52b340" stroke="#2f3a2c" stroke-width="0.4" />
<circle cx="250.5" cy="468.7" r="2.20" fill="#52b340" stroke="#2f3a2c" stroke-width="0.4" />
<circle cx="258.7" cy="468.8" r="2.20" fill="#52b340" stroke="#2f3a2c" stroke-width="0.4" />
<circle cx="247.7" cy="467.9" r="2.20" fill="#52b340" stroke="#2f3a2c" stroke-width="0.4" />
<circle cx="250.1" cy="472.1" r="2.20" fill="#52b340" stroke="#2f3a2c" stroke-width="0.4" />
<circle cx="255.1" cy="469.3" r="2.20" fill="#52b340" stroke="#2f3a2c" stroke-width="0.4" />
<circle cx="246.0" cy="491.9" r="2.20" fill="#52b340" stroke="#2f3a2c" stroke-width="0.4" />
<circle cx="244.7" cy="487.6" r="2.20" fill="#52b340" stroke="#2f3a2c" stroke-width="0.4" />
<circle cx="247.8" cy="496.3" r="2.20" fill="#52b340" stroke="#2f3a2c" stroke-width="0.4" />
<circle cx="251.9" cy="493.0" r="2.20" fill="#52b340" stroke="#2f3a2c" stroke-width="0.4" />
<circle cx="249.3" cy="487.6" r="2.20" fill="#52b340" stroke="#2f3a2c" stroke-width="0.4" />
<circle cx="242.1" cy="494.8" r="2.20" fill="#52b340" stroke="#2f3a2c" stroke-width="0.4" />
<circle cx="241.6" cy="490.3" r="2.20" fill="#52b340" stroke="#2f3a2c" stroke-width="0.4" />
<circle cx="249.5" cy="490.9" r="2.20" fill="#52b340" stroke="#2f3a2c" stroke-width="0.4" />
<circle cx="244.8" cy="496.5" r="2.20" fill="#52b340" stroke="#2f3a2c" stroke-width="0.4" />
<circle cx="251.8" cy="489.2" r="2.20" fill="#52b340" stroke="#2f3a2c" stroke-width="0.4" />
<circle cx="248.6" cy="493.6" r="2.20" fill="#52b340" stroke="#2f3a2c" stroke-width="0.4" />
<circle cx="247.3" cy="489.4" r="2.20" fill="#52b340" stroke="#2f3a2c" stroke-width="0.4" />
<circle cx="250.5" cy="495.4" r="2.20" fill="#52b340" stroke="#2f3a2c" stroke-width="0.4" />
<line x1="253.0" y1="469.0" x2="247.0" y2="492.0" stroke="#999" stroke-width="0.3" />
<circle cx="271.4" cy="464.4" r="2.20" fill="#3fa035" stroke="#2f3a2c" stroke-width="0.4" />
<circle cx="273.4" cy="461.1" r="2.20" fill="#3fa035" stroke="#2f3a2c" stroke-width="0.4" />
<circle cx="271.2" cy="468.0" r="2.20" fill="#3fa035" stroke="#2f3a2c" stroke-width="0.4" />
<circle cx="267.5" cy="462.0" r="2.20" fill="#3fa035" stroke="#2f3a2c" stroke-width="0.4" />
<circle cx="269.8" cy="459.8" r="2.20" fill="#3fa035" stroke="#2f3a2c" stroke-width="0.4" />
<circle cx="267.4" cy="465.6" r="2.20" fill="#3fa035" stroke="#2f3a2c" stroke-width="0.4" />
<circle cx="274.7" cy="466.0" r="2.20" fill="#3fa035" stroke="#2f3a2c" stroke-width="0.4" />
<circle cx="268.2" cy="468.5" r="2.20" fill="#3fa035" stroke="#2f3a2c" stroke-width="0.4" />
<circle cx="273.8" cy="468.4" r="2.20" fill="#3fa035" stroke="#2f3a2c" stroke-width="0.4" />
<circle cx="274.7" cy="463.4" r="2.20" fill="#3fa035" stroke="#2f3a2c" stroke-width="0.4" />
<circle cx="270.2" cy="470.3" r="2.20" fill="#3fa035" stroke="#2f3a2c" stroke-width="0.4" />
<circle cx="269.9" cy="462.3" r="2.20" fill="#3fa035" stroke="#2f3a2c" stroke-width="0.4" />
<circle cx="269.8" cy="466.0" r="2.20" fill="#3fa035" stroke="#2f3a2c" stroke-width="0.4" />
<circle cx="272.1" cy="459.4" r="2.20" fill="#3fa035" stroke="#2f3a2c" stroke-width="0.4" />
<circle cx="283.2" cy="400.6" r="2.20" fill="#52b340" stroke="#2f3a2c" stroke-width="0.4" />
<circle cx="290.1" cy="399.1" r="2.20" fill="#52b340" stroke="#2f3a2c" stroke-width="0.4" />
<circle cx="286.1" cy="397.3" r="2.20" fill="#52b340" stroke="#2f3a2c" stroke-width="0.4" />
<circle cx="279.5" cy="398.4" r="2.20" fill="#52b340" stroke="#2f3a2c" stroke-width="0.4" />
<circle cx="287.1" cy="402.0" r="2.20" fill="#52b340" stroke="#2f3a2c" stroke-width="0.4" />
<circle cx="282.6" cy="396.6" r="2.20" fill="#52b340" stroke="#2f3a2c" stroke-width="0.4" />
<circle cx="293.2" cy="398.6" r="2.20" fill="#52b340" stroke="#2f3a2c" stroke-width="0.4" />
<circle cx="289.3" cy="396.4" r="2.20" fill="#52b340" stroke="#2f3a2c" stroke-width="0.4" />
<circle cx="285.5" cy="399.9" r="2.20" fill="#52b340" stroke="#2f3a2c" stroke-width="0.4" />
<circle cx="270.6" cy="417.6" r="2.20" fill="#e4d28a" stroke="#2f3a2c" stroke-width="0.4" />
<circle cx="286.1" cy="417.5" r="2.20" fill="#e4d28a" stroke="#2f3a2c" stroke-width="0.4" />
<circle cx="281.3" cy="410.5" r="2.20" fill="#e4d28a" stroke="#2f3a2c" stroke-width="0.4" />
<circle cx="278.5" cy="416.0" r="2.20" fill="#e4d28a" stroke="#2f3a2c" stroke-width="0.4" />
<circle cx="286.5" cy="410.8" r="2.20" fill="#e4d28a" stroke="#2f3a2c" stroke-width="0.4" />
<circle cx="271.4" cy="424.6" r="2.20" fill="#e4d28a" stroke="#2f3a2c" stroke-width="0.4" />
<circle cx="289.6" cy="422.2" r="2.20" fill="#e4d28a" stroke="#2f3a2c" stroke-width="0.4" />
<circle cx="286.6" cy="425.8" r="2.20" fill="#e4d28a" stroke="#2f3a2c" stroke-width="0.4" />
<circle cx="279.3" cy="427.6" r="2.20" fill="#e4d28a" stroke="#2f3a2c" stroke-width="0.4" />
<circle cx="276.1" cy="424.4" r="2.20" fill="#e4d28a" stroke="#2f3a2c" stroke-width="0.4" />
<circle cx="280.4" cy="422.7" r="2.20" fill="#e4d28a" stroke="#2f3a2c" stroke-width="0.4" />
<circle cx="274.4" cy="411.4" r="2.20" fill="#e4d28a" stroke="#2f3a2c" stroke-width="0.4" />
<circle cx="290.5" cy="415.9" r="2.20" fill="#e4d28a" stroke="#2f3a2c" stroke-width="0.4" />
<circle cx="274.4" cy="419.6" r="2.20" fill="#e4d28a" stroke="#2f3a2c" stroke-width="0.4" />
<circle cx="281.9" cy="418.6" r="2.20" fill="#e4d28a" stroke="#2f3a2c" stroke-width="0.4" />
<circle cx="284.0" cy="414.0" r="2.20" fill="#e4d28a" stroke="#2f3a2c" stroke-width="0.4" />
<circle cx="274.5" cy="415.6" r="2.20" fill="#e4d28a" stroke="#2f3a2c" stroke-width="0.4" />
<circle cx="283.2" cy="427.9" r="2.20" fill="#e4d28a" stroke="#2f3a2c" stroke-width="0.4" />
<circle cx="285.5" cy="422.2" r="2.20" fill="#e4d28a" stroke="#2f3a2c" stroke-width="0.4" />
<circle cx="278.1" cy="411.8" r="2.20" fill="#e4d28a" stroke="#2f3a2c" stroke-width="0.4" />
<circle cx="277.4" cy="421.0" r="2.20" fill="#e4d28a" stroke="#2f3a2c" stroke-width="0.4" />
<circle cx="287.5" cy="414.3" r="2.20" fill="#e4d28a" stroke="#2f3a2c" stroke-width="0.4" />
<circle cx="291.3" cy="419.5" r="2.20" fill="#e4d28a" stroke="#2f3a2c" stroke-width="0.4" />
<circle cx="270.7" cy="414.3" r="2.20" fill="#e4d28a" stroke="#2f3a2c" stroke-width="0.4" />
<circle cx="270.0" cy="421.7" r="2.20" fill="#e4d28a" stroke="#2f3a2c" stroke-width="0.4" />
<circle cx="276.2" cy="428.0" r="2.20" fill="#e4d28a" stroke="#2f3a2c" stroke-width="0.4" />
<circle cx="280.8" cy="413.6" r="2.20" fill="#e4d28a" stroke="#2f3a2c" stroke-width="0.4" />
<circle cx="283.4" cy="424.7" r="2.20" fill="#e4d28a" stroke="#2f3a2c" stroke-width="0.4" />
<circle cx="273.8" cy="422.8" r="2.20" fill="#e4d28a" stroke="#2f3a2c" stroke-width="0.4" />
<circle cx="287.9" cy="419.8" r="2.20" fill="#e4d28a" stroke="#2f3a2c" stroke-width="0.4" />
<circle cx="259.2" cy="440.6" r="2.20" fill="#52b340" stroke="#2f3a2c" stroke-width="0.4" />
<circle cx="253.0" cy="437.8" r="2.20" fill="#52b340" stroke="#2f3a2c" stroke-width="0.4" />
<circle cx="261.1" cy="434.7" r="2.20" fill="#52b340" stroke="#2f3a2c" stroke-width="0.4" />
<circle cx="256.8" cy="434.6" r="2.20" fill="#52b340" stroke="#2f3a2c" stroke-width="0.4" />
<circle cx="263.0" cy="438.6" r="2.20" fill="#52b340" stroke="#2f3a2c" stroke-width="0.4" />
<circle cx="255.3" cy="441.4" r="2.20" fill="#52b340" stroke="#2f3a2c" stroke-width="0.4" />
<circle cx="256.6" cy="438.4" r="2.20" fill="#52b340" stroke="#2f3a2c" stroke-width="0.4" />
<circle cx="253.5" cy="434.6" r="2.20" fill="#52b340" stroke="#2f3a2c" stroke-width="0.4" />
<circle cx="259.5" cy="437.4" r="2.20" fill="#52b340" stroke="#2f3a2c" stroke-width="0.4" />
<circle cx="253.0" cy="440.4" r="2.20" fill="#52b340" stroke="#2f3a2c" stroke-width="0.4" />
<circle cx="257.5" cy="400.8" r="2.20" fill="#3fa035" stroke="#2f3a2c" stroke-width="0.4" />
<circle cx="255.6" cy="406.5" r="2.20" fill="#3fa035" stroke="#2f3a2c" stroke-width="0.4" />
<circle cx="261.7" cy="405.4" r="2.20" fill="#3fa035" stroke="#2f3a2c" stroke-width="0.4" />
<circle cx="262.1" cy="400.7" r="2.20" fill="#3fa035" stroke="#2f3a2c" stroke-width="0.4" />
<circle cx="259.1" cy="407.8" r="2.20" fill="#3fa035" stroke="#2f3a2c" stroke-width="0.4" />
<circle cx="254.7" cy="403.0" r="2.20" fill="#3fa035" stroke="#2f3a2c" stroke-width="0.4" />
<circle cx="258.3" cy="404.5" r="2.20" fill="#3fa035" stroke="#2f3a2c" stroke-width="0.4" />
<circle cx="264.4" cy="403.4" r="2.20" fill="#3fa035" stroke="#2f3a2c" stroke-width="0.4" />
<circle cx="260.4" cy="403.0" r="2.20" fill="#3fa035" stroke="#2f3a2c" stroke-width="0.4" />
<circle cx="259.8" cy="400.4" r="2.20" fill="#3fa035" stroke="#2f3a2c" stroke-width="0.4" />
<circle cx="112.8" cy="344.0" r="2.20" fill="#5aba45" stroke="#2f3a2c" stroke-width="0.4" />
<circle cx="109.2" cy="350.9" r="2.20" fill="#5aba45" stroke="#2f3a2c" stroke-width="0.4" />
<circle cx="107.6" cy="345.5" r="2.20" fill="#5aba45" stroke="#2f3a2c" stroke-width="0.4" />
<circle cx="108.8" cy="341.2" r="2.20" fill="#5aba45" stroke="#2f3a2c" stroke-width="0.4" />
<circle cx="113.4" cy="349.7" r="2.20" fill="#5aba45" stroke="#2f3a2c" stroke-width="0.4" />
<circle cx="104.9" cy="348.5" r="2.20" fill="#5aba45" stroke="#2f3a2c" stroke-width="0.4" />
<circle cx="110.9" cy="346.7" r="2.20" fill="#5aba45" stroke="#2f3a2c" stroke-width="0.4" />
<circle cx="104.5" cy="345.5" r="2.20" fill="#5aba45" stroke="#2f3a2c" stroke-width="0.4" />
<circle cx="114.2" cy="346.8" r="2.20" fill="#5aba45" stroke="#2f3a2c" stroke-width="0.4" />
<circle cx="106.2" cy="342.7" r="2.20" fill="#5aba45" stroke="#2f3a2c" stroke-width="0.4" />
<circle cx="131.0" cy="346.4" r="2.20" fill="#c25a1c" stroke="#2f3a2c" stroke-width="0.4" />
<circle cx="124.4" cy="339.6" r="2.20" fill="#c25a1c" stroke="#2f3a2c" stroke-width="0.4" />
<circle cx="129.7" cy="338.8" r="2.20" fill="#c25a1c" stroke="#2f3a2c" stroke-width="0.4" />
<circle cx="134.2" cy="342.4" r="2.20" fill="#c25a1c" stroke="#2f3a2c" stroke-width="0.4" />
<circle cx="122.5" cy="343.7" r="2.20" fill="#c25a1c" stroke="#2f3a2c" stroke-width="0.4" />
<circle cx="127.0" cy="344.2" r="2.20" fill="#c25a1c" stroke="#2f3a2c" stroke-width="0.4" />
<circle cx="124.7" cy="347.5" r="2.20" fill="#c25a1c" stroke="#2f3a2c" stroke-width="0.4" />
<circle cx="120.9" cy="340.5" r="2.20" fill="#c25a1c" stroke="#2f3a2c" stroke-width="0.4" />
<circle cx="130.9" cy="342.6" r="2.20" fill="#c25a1c" stroke="#2f3a2c" stroke-width="0.4" />
<circle cx="133.1" cy="338.6" r="2.20" fill="#c25a1c" stroke="#2f3a2c" stroke-width="0.4" />
<circle cx="127.9" cy="347.6" r="2.20" fill="#c25a1c" stroke="#2f3a2c" stroke-width="0.4" />
<circle cx="126.2" cy="337.3" r="2.20" fill="#c25a1c" stroke="#2f3a2c" stroke-width="0.4" />
<circle cx="127.3" cy="340.7" r="2.20" fill="#c25a1c" stroke="#2f3a2c" stroke-width="0.4" />
<circle cx="133.7" cy="345.7" r="2.20" fill="#c25a1c" stroke="#2f3a2c" stroke-width="0.4" />
<circle cx="125.2" cy="342.1" r="2.20" fill="#c25a1c" stroke="#2f3a2c" stroke-width="0.4" />
<circle cx="104.7" cy="361.0" r="2.10" fill="#7361b5" stroke="#3a3a3a" stroke-width="0.35" />
<circle cx="103.6" cy="363.6" r="2.10" fill="#e540bf" stroke="#3a3a3a" stroke-width="0.35" />
<circle cx="101.0" cy="364.7" r="2.10" fill="#7361b5" stroke="#3a3a3a" stroke-width="0.35" />
<circle cx="98.4" cy="363.6" r="2.10" fill="#e540bf" stroke="#3a3a3a" stroke-width="0.35" />
<circle cx="97.3" cy="361.0" r="2.10" fill="#7361b5" stroke="#3a3a3a" stroke-width="0.35" />
<circle cx="98.4" cy="358.4" r="2.10" fill="#e540bf" stroke="#3a3a3a" stroke-width="0.35" />
<circle cx="101.0" cy="357.3" r="2.10" fill="#7361b5" stroke="#3a3a3a" stroke-width="0.35" />
<circle cx="103.6" cy="358.4" r="2.10" fill="#e540bf" stroke="#3a3a3a" stroke-width="0.35" />
<circle cx="114.0" cy="363.0" r="1.90" fill="#e540bf" stroke="#333" stroke-width="0.35" />
<circle cx="117.0" cy="360.0" r="1.90" fill="#b6a7d8" stroke="#333" stroke-width="0.35" />
<circle cx="94.8" cy="376.0" r="2.10" fill="#e540bf" stroke="#3a3a3a" stroke-width="0.35" />
<circle cx="93.4" cy="379.0" r="2.10" fill="#e540bf" stroke="#3a3a3a" stroke-width="0.35" />
<circle cx="90.2" cy="379.7" r="2.10" fill="#e540bf" stroke="#3a3a3a" stroke-width="0.35" />
<circle cx="87.6" cy="377.6" r="2.10" fill="#e540bf" stroke="#3a3a3a" stroke-width="0.35" />
<circle cx="87.6" cy="374.4" r="2.10" fill="#e540bf" stroke="#3a3a3a" stroke-width="0.35" />
<circle cx="90.2" cy="372.3" r="2.10" fill="#e540bf" stroke="#3a3a3a" stroke-width="0.35" />
<circle cx="93.4" cy="373.0" r="2.10" fill="#e540bf" stroke="#3a3a3a" stroke-width="0.35" />
<circle cx="109.8" cy="374.5" r="2.10" fill="#d0601f" stroke="#3a3a3a" stroke-width="0.35" />
<circle cx="108.7" cy="377.2" r="2.10" fill="#d0601f" stroke="#3a3a3a" stroke-width="0.35" />
<circle cx="106.0" cy="378.3" r="2.10" fill="#d0601f" stroke="#3a3a3a" stroke-width="0.35" />
<circle cx="103.3" cy="377.2" r="2.10" fill="#d0601f" stroke="#3a3a3a" stroke-width="0.35" />
<circle cx="102.2" cy="374.5" r="2.10" fill="#d0601f" stroke="#3a3a3a" stroke-width="0.35" />
<circle cx="103.3" cy="371.8" r="2.10" fill="#d0601f" stroke="#3a3a3a" stroke-width="0.35" />
<circle cx="106.0" cy="370.7" r="2.10" fill="#d0601f" stroke="#3a3a3a" stroke-width="0.35" />
<circle cx="108.7" cy="371.8" r="2.10" fill="#d0601f" stroke="#3a3a3a" stroke-width="0.35" />
<circle cx="128.8" cy="374.5" r="2.10" fill="#e540bf" stroke="#3a3a3a" stroke-width="0.35" />
<circle cx="127.7" cy="377.2" r="2.10" fill="#7361b5" stroke="#3a3a3a" stroke-width="0.35" />
<circle cx="125.0" cy="378.3" r="2.10" fill="#e540bf" stroke="#3a3a3a" stroke-width="0.35" />
<circle cx="122.3" cy="377.2" r="2.10" fill="#7361b5" stroke="#3a3a3a" stroke-width="0.35" />
<circle cx="121.2" cy="374.5" r="2.10" fill="#e540bf" stroke="#3a3a3a" stroke-width="0.35" />
<circle cx="122.3" cy="371.8" r="2.10" fill="#7361b5" stroke="#3a3a3a" stroke-width="0.35" />
<circle cx="125.0" cy="370.7" r="2.10" fill="#e540bf" stroke="#3a3a3a" stroke-width="0.35" />
<circle cx="127.7" cy="371.8" r="2.10" fill="#7361b5" stroke="#3a3a3a" stroke-width="0.35" />
<circle cx="142.2" cy="358.6" r="2.20" fill="#e540bf" stroke="#2f3a2c" stroke-width="0.4" />
<circle cx="146.4" cy="361.1" r="2.20" fill="#e540bf" stroke="#2f3a2c" stroke-width="0.4" />
<circle cx="140.3" cy="355.0" r="2.20" fill="#b6a7d8" stroke="#2f3a2c" stroke-width="0.4" />
<circle cx="144.8" cy="353.0" r="2.20" fill="#e540bf" stroke="#2f3a2c" stroke-width="0.4" />
<circle cx="148.6" cy="358.0" r="2.20" fill="#e540bf" stroke="#2f3a2c" stroke-width="0.4" />
<circle cx="148.1" cy="354.4" r="2.20" fill="#b6a7d8" stroke="#2f3a2c" stroke-width="0.4" />
<circle cx="145.3" cy="356.8" r="2.20" fill="#e540bf" stroke="#2f3a2c" stroke-width="0.4" />
<circle cx="143.2" cy="361.7" r="2.20" fill="#e540bf" stroke="#2f3a2c" stroke-width="0.4" />
<circle cx="139.1" cy="357.9" r="2.20" fill="#b6a7d8" stroke="#2f3a2c" stroke-width="0.4" />
<circle cx="141.9" cy="352.7" r="2.20" fill="#e540bf" stroke="#2f3a2c" stroke-width="0.4" />
<circle cx="140.7" cy="360.7" r="2.20" fill="#e540bf" stroke="#2f3a2c" stroke-width="0.4" />
<circle cx="133.5" cy="364.5" r="1.90" fill="#e98a2e" stroke="#333" stroke-width="0.35" />
<circle cx="138.0" cy="369.0" r="1.90" fill="#e98a2e" stroke="#333" stroke-width="0.35" />
<circle cx="139.5" cy="374.0" r="1.90" fill="#e98a2e" stroke="#333" stroke-width="0.35" />
<circle cx="137.0" cy="362.0" r="1.90" fill="#e98a2e" stroke="#333" stroke-width="0.35" />
<circle cx="97.8" cy="387.5" r="2.20" fill="#e3d28b" stroke="#2f3a2c" stroke-width="0.4" />
<circle cx="92.1" cy="385.1" r="2.20" fill="#e3d28b" stroke="#2f3a2c" stroke-width="0.4" />
<circle cx="95.7" cy="392.9" r="2.20" fill="#e3d28b" stroke="#2f3a2c" stroke-width="0.4" />
<circle cx="92.1" cy="390.4" r="2.20" fill="#e3d28b" stroke="#2f3a2c" stroke-width="0.4" />
<circle cx="97.4" cy="383.4" r="2.20" fill="#e3d28b" stroke="#2f3a2c" stroke-width="0.4" />
<circle cx="99.9" cy="390.9" r="2.20" fill="#e3d28b" stroke="#2f3a2c" stroke-width="0.4" />
<circle cx="94.4" cy="387.8" r="2.20" fill="#e3d28b" stroke="#2f3a2c" stroke-width="0.4" />
<circle cx="100.9" cy="387.8" r="2.20" fill="#e3d28b" stroke="#2f3a2c" stroke-width="0.4" />
<circle cx="94.4" cy="383.3" r="2.20" fill="#e3d28b" stroke="#2f3a2c" stroke-width="0.4" />
<circle cx="91.2" cy="387.8" r="2.20" fill="#e3d28b" stroke="#2f3a2c" stroke-width="0.4" />
<circle cx="96.9" cy="390.1" r="2.20" fill="#e3d28b" stroke="#2f3a2c" stroke-width="0.4" />
<circle cx="99.6" cy="385.2" r="2.20" fill="#e3d28b" stroke="#2f3a2c" stroke-width="0.4" />
<circle cx="95.9" cy="385.8" r="2.20" fill="#e3d28b" stroke="#2f3a2c" stroke-width="0.4" />
<circle cx="94.6" cy="390.6" r="2.20" fill="#e3d28b" stroke="#2f3a2c" stroke-width="0.4" />
<circle cx="116.8" cy="389.0" r="2.10" fill="#b6a7d8" stroke="#3a3a3a" stroke-width="0.35" />
<circle cx="115.7" cy="391.7" r="2.10" fill="#b6a7d8" stroke="#3a3a3a" stroke-width="0.35" />
<circle cx="113.0" cy="392.8" r="2.10" fill="#b6a7d8" stroke="#3a3a3a" stroke-width="0.35" />
<circle cx="110.3" cy="391.7" r="2.10" fill="#b6a7d8" stroke="#3a3a3a" stroke-width="0.35" />
<circle cx="109.2" cy="389.0" r="2.10" fill="#b6a7d8" stroke="#3a3a3a" stroke-width="0.35" />
<circle cx="110.3" cy="386.3" r="2.10" fill="#b6a7d8" stroke="#3a3a3a" stroke-width="0.35" />
<circle cx="113.0" cy="385.2" r="2.10" fill="#b6a7d8" stroke="#3a3a3a" stroke-width="0.35" />
<circle cx="115.7" cy="386.3" r="2.10" fill="#b6a7d8" stroke="#3a3a3a" stroke-width="0.35" />
<circle cx="124.4" cy="394.4" r="2.20" fill="#5aba45" stroke="#2f3a2c" stroke-width="0.4" />
<circle cx="125.8" cy="398.5" r="2.20" fill="#5aba45" stroke="#2f3a2c" stroke-width="0.4" />
<circle cx="126.7" cy="391.0" r="2.20" fill="#5aba45" stroke="#2f3a2c" stroke-width="0.4" />
<circle cx="119.7" cy="393.9" r="2.20" fill="#5aba45" stroke="#2f3a2c" stroke-width="0.4" />
<circle cx="129.4" cy="394.7" r="2.20" fill="#5aba45" stroke="#2f3a2c" stroke-width="0.4" />
<circle cx="121.0" cy="398.4" r="2.20" fill="#5aba45" stroke="#2f3a2c" stroke-width="0.4" />
<circle cx="122.3" cy="390.7" r="2.20" fill="#5aba45" stroke="#2f3a2c" stroke-width="0.4" />
<circle cx="128.9" cy="398.2" r="2.20" fill="#5aba45" stroke="#2f3a2c" stroke-width="0.4" />
<circle cx="126.8" cy="395.8" r="2.20" fill="#5aba45" stroke="#2f3a2c" stroke-width="0.4" />
<circle cx="92.8" cy="401.0" r="2.10" fill="#e540bf" stroke="#3a3a3a" stroke-width="0.35" />
<circle cx="91.7" cy="403.7" r="2.10" fill="#e540bf" stroke="#3a3a3a" stroke-width="0.35" />
<circle cx="89.0" cy="404.8" r="2.10" fill="#e540bf" stroke="#3a3a3a" stroke-width="0.35" />
<circle cx="86.3" cy="403.7" r="2.10" fill="#e540bf" stroke="#3a3a3a" stroke-width="0.35" />
<circle cx="85.2" cy="401.0" r="2.10" fill="#e540bf" stroke="#3a3a3a" stroke-width="0.35" />
<circle cx="86.3" cy="398.3" r="2.10" fill="#e540bf" stroke="#3a3a3a" stroke-width="0.35" />
<circle cx="89.0" cy="397.2" r="2.10" fill="#e540bf" stroke="#3a3a3a" stroke-width="0.35" />
<circle cx="91.7" cy="398.3" r="2.10" fill="#e540bf" stroke="#3a3a3a" stroke-width="0.35" />
<circle cx="113.7" cy="408.0" r="2.10" fill="#d0601f" stroke="#3a3a3a" stroke-width="0.35" />
<circle cx="112.6" cy="410.6" r="2.10" fill="#e01f87" stroke="#3a3a3a" stroke-width="0.35" />
<circle cx="110.0" cy="411.7" r="2.10" fill="#d0601f" stroke="#3a3a3a" stroke-width="0.35" />
<circle cx="107.4" cy="410.6" r="2.10" fill="#e01f87" stroke="#3a3a3a" stroke-width="0.35" />
<circle cx="106.3" cy="408.0" r="2.10" fill="#d0601f" stroke="#3a3a3a" stroke-width="0.35" />
<circle cx="107.4" cy="405.4" r="2.10" fill="#e01f87" stroke="#3a3a3a" stroke-width="0.35" />
<circle cx="110.0" cy="404.3" r="2.10" fill="#d0601f" stroke="#3a3a3a" stroke-width="0.35" />
<circle cx="112.6" cy="405.4" r="2.10" fill="#e01f87" stroke="#3a3a3a" stroke-width="0.35" />
<circle cx="95.3" cy="412.8" r="2.20" fill="#e540bf" stroke="#2f3a2c" stroke-width="0.4" />
<circle cx="88.3" cy="413.2" r="2.20" fill="#e540bf" stroke="#2f3a2c" stroke-width="0.4" />
<circle cx="92.2" cy="418.1" r="2.20" fill="#e540bf" stroke="#2f3a2c" stroke-width="0.4" />
<circle cx="87.8" cy="418.1" r="2.20" fill="#e540bf" stroke="#2f3a2c" stroke-width="0.4" />
<circle cx="91.7" cy="410.5" r="2.20" fill="#e540bf" stroke="#2f3a2c" stroke-width="0.4" />
<circle cx="95.7" cy="416.6" r="2.20" fill="#e540bf" stroke="#2f3a2c" stroke-width="0.4" />
<circle cx="91.9" cy="414.5" r="2.20" fill="#e540bf" stroke="#2f3a2c" stroke-width="0.4" />
<circle cx="86.0" cy="415.4" r="2.20" fill="#e540bf" stroke="#2f3a2c" stroke-width="0.4" />
<circle cx="90.1" cy="419.9" r="2.20" fill="#e540bf" stroke="#2f3a2c" stroke-width="0.4" />
<circle cx="89.0" cy="410.7" r="2.20" fill="#e540bf" stroke="#2f3a2c" stroke-width="0.4" />
<circle cx="89.8" cy="416.4" r="2.20" fill="#e540bf" stroke="#2f3a2c" stroke-width="0.4" />
<circle cx="93.0" cy="412.5" r="2.20" fill="#e540bf" stroke="#2f3a2c" stroke-width="0.4" />
<circle cx="90.4" cy="412.6" r="2.20" fill="#e540bf" stroke="#2f3a2c" stroke-width="0.4" />
<circle cx="93.5" cy="416.4" r="2.20" fill="#e540bf" stroke="#2f3a2c" stroke-width="0.4" />
<line x1="267.3" y1="354.0" x2="274.4" y2="359.7" stroke="#a0a0a0" stroke-width="0.3" />
<line x1="278.3" y1="365.7" x2="261.3" y2="358.8" stroke="#a0a0a0" stroke-width="0.3" />
<line x1="273.9" y1="353.9" x2="267.7" y2="371.0" stroke="#a0a0a0" stroke-width="0.3" />
<line x1="267.7" y1="371.0" x2="267.7" y2="371.0" stroke="#a0a0a0" stroke-width="0.3" />
<line x1="278.5" y1="352.9" x2="280.2" y2="359.3" stroke="#a0a0a0" stroke-width="0.3" />
<line x1="275.2" y1="349.2" x2="275.1" y2="370.9" stroke="#a0a0a0" stroke-width="0.3" />
<line x1="280.2" y1="359.3" x2="268.4" y2="365.9" stroke="#a0a0a0" stroke-width="0.3" />
<line x1="280.2" y1="359.3" x2="273.7" y2="365.5" stroke="#a0a0a0" stroke-width="0.3" />
<circle cx="268.9" cy="349.3" r="2.20" fill="#b6a7d8" stroke="#2f3a2c" stroke-width="0.4" />
<circle cx="275.1" cy="370.9" r="2.20" fill="#b6a7d8" stroke="#2f3a2c" stroke-width="0.4" />
<circle cx="278.3" cy="365.7" r="2.20" fill="#b6a7d8" stroke="#2f3a2c" stroke-width="0.4" />
<circle cx="262.3" cy="364.0" r="2.20" fill="#b6a7d8" stroke="#2f3a2c" stroke-width="0.4" />
<circle cx="274.4" cy="359.7" r="2.20" fill="#b6a7d8" stroke="#2f3a2c" stroke-width="0.4" />
<circle cx="261.3" cy="358.8" r="2.20" fill="#b6a7d8" stroke="#2f3a2c" stroke-width="0.4" />
<circle cx="267.7" cy="371.0" r="2.20" fill="#b6a7d8" stroke="#2f3a2c" stroke-width="0.4" />
<circle cx="268.4" cy="365.9" r="2.20" fill="#b6a7d8" stroke="#2f3a2c" stroke-width="0.4" />
<circle cx="278.5" cy="352.9" r="2.20" fill="#b6a7d8" stroke="#2f3a2c" stroke-width="0.4" />
<circle cx="275.2" cy="349.2" r="2.20" fill="#b6a7d8" stroke="#2f3a2c" stroke-width="0.4" />
<circle cx="267.3" cy="354.0" r="2.20" fill="#b6a7d8" stroke="#2f3a2c" stroke-width="0.4" />
<circle cx="268.2" cy="359.9" r="2.20" fill="#b6a7d8" stroke="#2f3a2c" stroke-width="0.4" />
<circle cx="280.2" cy="359.3" r="2.20" fill="#b6a7d8" stroke="#2f3a2c" stroke-width="0.4" />
<circle cx="273.9" cy="353.9" r="2.20" fill="#b6a7d8" stroke="#2f3a2c" stroke-width="0.4" />
<circle cx="273.7" cy="365.5" r="2.20" fill="#b6a7d8" stroke="#2f3a2c" stroke-width="0.4" />
<circle cx="262.7" cy="353.5" r="2.20" fill="#b6a7d8" stroke="#2f3a2c" stroke-width="0.4" />
<circle cx="264.6" cy="352.4" r="2.20" fill="#c25a1c" stroke="#2f3a2c" stroke-width="0.4" />
<circle cx="267.9" cy="348.7" r="2.20" fill="#b6a7d8" stroke="#2f3a2c" stroke-width="0.4" />
<circle cx="270.3" cy="350.9" r="2.20" fill="#7d3fa8" stroke="#2f3a2c" stroke-width="0.4" />
<circle cx="264.7" cy="349.0" r="2.20" fill="#c25a1c" stroke="#2f3a2c" stroke-width="0.4" />
<circle cx="267.6" cy="353.3" r="2.20" fill="#b6a7d8" stroke="#2f3a2c" stroke-width="0.4" />
<circle cx="265.9" cy="346.7" r="2.20" fill="#7d3fa8" stroke="#2f3a2c" stroke-width="0.4" />
<circle cx="266.5" cy="350.8" r="2.20" fill="#c25a1c" stroke="#2f3a2c" stroke-width="0.4" />
<circle cx="279.7" cy="378.0" r="2.10" fill="#b6a7d8" stroke="#3a3a3a" stroke-width="0.35" />
<circle cx="278.6" cy="380.6" r="2.10" fill="#d0601f" stroke="#3a3a3a" stroke-width="0.35" />
<circle cx="276.0" cy="381.7" r="2.10" fill="#b6a7d8" stroke="#3a3a3a" stroke-width="0.35" />
<circle cx="273.4" cy="380.6" r="2.10" fill="#d0601f" stroke="#3a3a3a" stroke-width="0.35" />
<circle cx="272.3" cy="378.0" r="2.10" fill="#b6a7d8" stroke="#3a3a3a" stroke-width="0.35" />
<circle cx="273.4" cy="375.4" r="2.10" fill="#d0601f" stroke="#3a3a3a" stroke-width="0.35" />
<circle cx="276.0" cy="374.3" r="2.10" fill="#b6a7d8" stroke="#3a3a3a" stroke-width="0.35" />
<circle cx="278.6" cy="375.4" r="2.10" fill="#d0601f" stroke="#3a3a3a" stroke-width="0.35" />
<circle cx="288.7" cy="387.0" r="2.10" fill="#5aba45" stroke="#3a3a3a" stroke-width="0.35" />
<circle cx="287.6" cy="389.6" r="2.10" fill="#e98a2e" stroke="#3a3a3a" stroke-width="0.35" />
<circle cx="285.0" cy="390.7" r="2.10" fill="#6a63b0" stroke="#3a3a3a" stroke-width="0.35" />
<circle cx="282.4" cy="389.6" r="2.10" fill="#5aba45" stroke="#3a3a3a" stroke-width="0.35" />
<circle cx="281.3" cy="387.0" r="2.10" fill="#e98a2e" stroke="#3a3a3a" stroke-width="0.35" />
<circle cx="282.4" cy="384.4" r="2.10" fill="#6a63b0" stroke="#3a3a3a" stroke-width="0.35" />
<circle cx="285.0" cy="383.3" r="2.10" fill="#5aba45" stroke="#3a3a3a" stroke-width="0.35" />
<circle cx="287.6" cy="384.4" r="2.10" fill="#e98a2e" stroke="#3a3a3a" stroke-width="0.35" />
<circle cx="259.7" cy="388.0" r="2.10" fill="#e3d28b" stroke="#3a3a3a" stroke-width="0.35" />
<circle cx="258.6" cy="390.6" r="2.10" fill="#e3d28b" stroke="#3a3a3a" stroke-width="0.35" />
<circle cx="256.0" cy="391.7" r="2.10" fill="#e3d28b" stroke="#3a3a3a" stroke-width="0.35" />
<circle cx="253.4" cy="390.6" r="2.10" fill="#e3d28b" stroke="#3a3a3a" stroke-width="0.35" />
<circle cx="252.3" cy="388.0" r="2.10" fill="#e3d28b" stroke="#3a3a3a" stroke-width="0.35" />
<circle cx="253.4" cy="385.4" r="2.10" fill="#e3d28b" stroke="#3a3a3a" stroke-width="0.35" />
<circle cx="256.0" cy="384.3" r="2.10" fill="#e3d28b" stroke="#3a3a3a" stroke-width="0.35" />
<circle cx="258.6" cy="385.4" r="2.10" fill="#e3d28b" stroke="#3a3a3a" stroke-width="0.35" />
<circle cx="274.2" cy="389.5" r="2.10" fill="#e3d28b" stroke="#3a3a3a" stroke-width="0.35" />
<circle cx="273.1" cy="392.1" r="2.10" fill="#e3d28b" stroke="#3a3a3a" stroke-width="0.35" />
<circle cx="270.5" cy="393.2" r="2.10" fill="#e3d28b" stroke="#3a3a3a" stroke-width="0.35" />
<circle cx="267.9" cy="392.1" r="2.10" fill="#e3d28b" stroke="#3a3a3a" stroke-width="0.35" />
<circle cx="266.8" cy="389.5" r="2.10" fill="#e3d28b" stroke="#3a3a3a" stroke-width="0.35" />
<circle cx="267.9" cy="386.9" r="2.10" fill="#e3d28b" stroke="#3a3a3a" stroke-width="0.35" />
<circle cx="270.5" cy="385.8" r="2.10" fill="#e3d28b" stroke="#3a3a3a" stroke-width="0.35" />
<circle cx="273.1" cy="386.9" r="2.10" fill="#e3d28b" stroke="#3a3a3a" stroke-width="0.35" />
<circle cx="259.8" cy="424.0" r="2.10" fill="#e3d28b" stroke="#3a3a3a" stroke-width="0.35" />
<circle cx="258.7" cy="426.7" r="2.10" fill="#e3d28b" stroke="#3a3a3a" stroke-width="0.35" />
<circle cx="256.0" cy="427.8" r="2.10" fill="#e3d28b" stroke="#3a3a3a" stroke-width="0.35" />
<circle cx="253.3" cy="426.7" r="2.10" fill="#e3d28b" stroke="#3a3a3a" stroke-width="0.35" />
<circle cx="252.2" cy="424.0" r="2.10" fill="#e3d28b" stroke="#3a3a3a" stroke-width="0.35" />
<circle cx="253.3" cy="421.3" r="2.10" fill="#e3d28b" stroke="#3a3a3a" stroke-width="0.35" />
<circle cx="256.0" cy="420.2" r="2.10" fill="#e3d28b" stroke="#3a3a3a" stroke-width="0.35" />
<circle cx="258.7" cy="421.3" r="2.10" fill="#e3d28b" stroke="#3a3a3a" stroke-width="0.35" />
<circle cx="286.8" cy="439.0" r="2.10" fill="#e3d28b" stroke="#3a3a3a" stroke-width="0.35" />
<circle cx="285.7" cy="441.7" r="2.10" fill="#e3d28b" stroke="#3a3a3a" stroke-width="0.35" />
<circle cx="283.0" cy="442.8" r="2.10" fill="#e3d28b" stroke="#3a3a3a" stroke-width="0.35" />
<circle cx="280.3" cy="441.7" r="2.10" fill="#e3d28b" stroke="#3a3a3a" stroke-width="0.35" />
<circle cx="279.2" cy="439.0" r="2.10" fill="#e3d28b" stroke="#3a3a3a" stroke-width="0.35" />
<circle cx="280.3" cy="436.3" r="2.10" fill="#e3d28b" stroke="#3a3a3a" stroke-width="0.35" />
<circle cx="283.0" cy="435.2" r="2.10" fill="#e3d28b" stroke="#3a3a3a" stroke-width="0.35" />
<circle cx="285.7" cy="436.3" r="2.10" fill="#e3d28b" stroke="#3a3a3a" stroke-width="0.35" />
<circle cx="250.0" cy="412.0" r="1.90" fill="#b6a7d8" stroke="#333" stroke-width="0.35" />
<circle cx="251.0" cy="416.0" r="1.90" fill="#e01f87" stroke="#333" stroke-width="0.35" />
<circle cx="271.0" cy="445.6" r="2.20" fill="#e540bf" stroke="#2f3a2c" stroke-width="0.4" />
<circle cx="276.0" cy="447.9" r="2.20" fill="#e540bf" stroke="#2f3a2c" stroke-width="0.4" />
<circle cx="267.4" cy="449.1" r="2.20" fill="#e540bf" stroke="#2f3a2c" stroke-width="0.4" />
<circle cx="266.6" cy="445.0" r="2.20" fill="#e540bf" stroke="#2f3a2c" stroke-width="0.4" />
<circle cx="271.8" cy="449.8" r="2.20" fill="#e540bf" stroke="#2f3a2c" stroke-width="0.4" />
<circle cx="274.5" cy="444.6" r="2.20" fill="#e540bf" stroke="#2f3a2c" stroke-width="0.4" />
<circle cx="265.3" cy="447.4" r="2.20" fill="#e540bf" stroke="#2f3a2c" stroke-width="0.4" />
<circle cx="273.1" cy="447.3" r="2.20" fill="#e540bf" stroke="#2f3a2c" stroke-width="0.4" />
<circle cx="269.7" cy="448.3" r="2.20" fill="#e540bf" stroke="#2f3a2c" stroke-width="0.4" />
<circle cx="266.0" cy="442.0" r="1.90" fill="#e98a2e" stroke="#333" stroke-width="0.35" />
<circle cx="216.0" cy="490.0" r="2.20" fill="#c25a1c" stroke="#2f3a2c" stroke-width="0.4" />
<circle cx="221.6" cy="493.3" r="2.20" fill="#c25a1c" stroke="#2f3a2c" stroke-width="0.4" />
<circle cx="224.0" cy="496.2" r="2.20" fill="#b6a7d8" stroke="#2f3a2c" stroke-width="0.4" />
<circle cx="217.2" cy="497.2" r="2.20" fill="#c25a1c" stroke="#2f3a2c" stroke-width="0.4" />
<circle cx="217.5" cy="493.3" r="2.20" fill="#c25a1c" stroke="#2f3a2c" stroke-width="0.4" />
<circle cx="221.8" cy="489.5" r="2.20" fill="#b6a7d8" stroke="#2f3a2c" stroke-width="0.4" />
<circle cx="218.7" cy="489.1" r="2.20" fill="#c25a1c" stroke="#2f3a2c" stroke-width="0.4" />
<circle cx="223.8" cy="491.8" r="2.20" fill="#c25a1c" stroke="#2f3a2c" stroke-width="0.4" />
<circle cx="220.6" cy="497.2" r="2.20" fill="#b6a7d8" stroke="#2f3a2c" stroke-width="0.4" />
<circle cx="214.7" cy="493.6" r="2.20" fill="#c25a1c" stroke="#2f3a2c" stroke-width="0.4" />
<circle cx="213.6" cy="496.5" r="2.20" fill="#c25a1c" stroke="#2f3a2c" stroke-width="0.4" />
<circle cx="218.3" cy="499.9" r="2.20" fill="#b6a7d8" stroke="#2f3a2c" stroke-width="0.4" />
<circle cx="222.5" cy="498.8" r="2.20" fill="#c25a1c" stroke="#2f3a2c" stroke-width="0.4" />
<circle cx="219.6" cy="491.6" r="2.20" fill="#c25a1c" stroke="#2f3a2c" stroke-width="0.4" />
<circle cx="213.9" cy="491.1" r="2.20" fill="#b6a7d8" stroke="#2f3a2c" stroke-width="0.4" />
<circle cx="219.1" cy="495.0" r="2.20" fill="#c25a1c" stroke="#2f3a2c" stroke-width="0.4" />
<circle cx="224.9" cy="494.0" r="2.20" fill="#c25a1c" stroke="#2f3a2c" stroke-width="0.4" />
<circle cx="220.5" cy="499.6" r="2.20" fill="#b6a7d8" stroke="#2f3a2c" stroke-width="0.4" />
<circle cx="173.3" cy="511.2" r="2.20" fill="#c25a1c" stroke="#2f3a2c" stroke-width="0.4" />
<circle cx="169.6" cy="508.3" r="2.20" fill="#c25a1c" stroke="#2f3a2c" stroke-width="0.4" />
<circle cx="169.3" cy="511.2" r="2.20" fill="#b6a7d8" stroke="#2f3a2c" stroke-width="0.4" />
<circle cx="167.4" cy="513.3" r="2.20" fill="#c25a1c" stroke="#2f3a2c" stroke-width="0.4" />
<circle cx="176.6" cy="513.1" r="2.20" fill="#c25a1c" stroke="#2f3a2c" stroke-width="0.4" />
<circle cx="169.3" cy="515.3" r="2.20" fill="#b6a7d8" stroke="#2f3a2c" stroke-width="0.4" />
<circle cx="166.7" cy="509.6" r="2.20" fill="#c25a1c" stroke="#2f3a2c" stroke-width="0.4" />
<circle cx="172.2" cy="514.7" r="2.20" fill="#c25a1c" stroke="#2f3a2c" stroke-width="0.4" />
<circle cx="172.3" cy="505.1" r="2.20" fill="#b6a7d8" stroke="#2f3a2c" stroke-width="0.4" />
<circle cx="174.4" cy="508.1" r="2.20" fill="#c25a1c" stroke="#2f3a2c" stroke-width="0.4" />
<circle cx="177.1" cy="508.2" r="2.20" fill="#c25a1c" stroke="#2f3a2c" stroke-width="0.4" />
<circle cx="167.3" cy="506.0" r="2.20" fill="#b6a7d8" stroke="#2f3a2c" stroke-width="0.4" />
<circle cx="174.9" cy="505.4" r="2.20" fill="#c25a1c" stroke="#2f3a2c" stroke-width="0.4" />
<circle cx="169.6" cy="504.3" r="2.20" fill="#c25a1c" stroke="#2f3a2c" stroke-width="0.4" />
<circle cx="174.9" cy="514.9" r="2.20" fill="#b6a7d8" stroke="#2f3a2c" stroke-width="0.4" />
<circle cx="176.0" cy="510.6" r="2.20" fill="#c25a1c" stroke="#2f3a2c" stroke-width="0.4" />
<circle cx="172.0" cy="509.2" r="2.20" fill="#c25a1c" stroke="#2f3a2c" stroke-width="0.4" />
<circle cx="171.3" cy="512.5" r="2.20" fill="#b6a7d8" stroke="#2f3a2c" stroke-width="0.4" />
<circle cx="196.1" cy="510.5" r="2.20" fill="#b6a7d8" stroke="#2f3a2c" stroke-width="0.4" />
<circle cx="201.3" cy="509.7" r="2.20" fill="#b6a7d8" stroke="#2f3a2c" stroke-width="0.4" />
<circle cx="204.2" cy="512.7" r="2.20" fill="#d0601f" stroke="#2f3a2c" stroke-width="0.4" />
<circle cx="198.5" cy="513.9" r="2.20" fill="#b6a7d8" stroke="#2f3a2c" stroke-width="0.4" />
<circle cx="198.4" cy="508.2" r="2.20" fill="#b6a7d8" stroke="#2f3a2c" stroke-width="0.4" />
<circle cx="204.7" cy="509.5" r="2.20" fill="#d0601f" stroke="#2f3a2c" stroke-width="0.4" />
<circle cx="201.2" cy="512.6" r="2.20" fill="#b6a7d8" stroke="#2f3a2c" stroke-width="0.4" />
<text transform="translate(139.0,302.0) scale(0.8,1)" font-size="10.2" font-weight="bold" fill="#62bd50" text-anchor="middle" stroke="#62bd50" stroke-width="0.25">C14</text>
<text transform="translate(192.7,297.0) scale(0.8,1)" font-size="10.2" font-weight="bold" fill="#62bd50" text-anchor="middle" stroke="#62bd50" stroke-width="0.25">C20</text>
<text transform="translate(222.6,324.0) scale(0.8,1)" font-size="10.2" font-weight="bold" fill="#b3a6d6" text-anchor="middle" stroke="#b3a6d6" stroke-width="0.25">C7</text>
<text transform="translate(105.0,335.0) scale(0.8,1)" font-size="10.2" font-weight="bold" fill="#62bd50" text-anchor="middle" stroke="#62bd50" stroke-width="0.25">C40</text>
<text transform="translate(124.8,332.5) scale(0.8,1)" font-size="10.2" font-weight="bold" fill="#c55a1c" text-anchor="middle" stroke="#c55a1c" stroke-width="0.25">C36</text>
<text transform="translate(219.6,393.5) scale(0.8,1)" font-size="10.2" font-weight="bold" fill="#62bd50" text-anchor="middle" stroke="#62bd50" stroke-width="0.25">C17</text>
<text transform="translate(78.0,390.0) scale(0.8,1)" font-size="10.2" font-weight="bold" fill="#ddd08a" text-anchor="middle" stroke="#ddd08a" stroke-width="0.25">C10</text>
<text transform="translate(140.5,393.5) scale(0.8,1)" font-size="10.2" font-weight="bold" fill="#62bd50" text-anchor="middle" stroke="#62bd50" stroke-width="0.25">C28</text>
<text transform="translate(148.0,411.5) scale(0.8,1)" font-size="10.2" font-weight="bold" fill="#62bd50" text-anchor="middle" stroke="#62bd50" stroke-width="0.25">C16</text>
<text transform="translate(121.0,414.0) scale(0.8,1)" font-size="10.2" font-weight="bold" fill="#c55a1c" text-anchor="middle" stroke="#c55a1c" stroke-width="0.25">2</text>
<text transform="translate(83.0,425.0) scale(0.8,1)" font-size="10.2" font-weight="bold" fill="#e040c0" text-anchor="middle" stroke="#e040c0" stroke-width="0.25">C6</text>
<text transform="translate(71.0,460.0) scale(0.8,1)" font-size="10.2" font-weight="bold" fill="#62bd50" text-anchor="middle" stroke="#62bd50" stroke-width="0.25">C21</text>
<text transform="translate(93.5,495.5) scale(0.8,1)" font-size="10.2" font-weight="bold" fill="#62bd50" text-anchor="middle" stroke="#62bd50" stroke-width="0.25">C22</text>
<text transform="translate(143.7,505.5) scale(0.8,1)" font-size="10.2" font-weight="bold" fill="#62bd50" text-anchor="middle" stroke="#62bd50" stroke-width="0.25">C23</text>
<text transform="translate(217.0,440.0) scale(0.8,1)" font-size="10.2" font-weight="bold" fill="#62bd50" text-anchor="middle" stroke="#62bd50" stroke-width="0.25">C12</text>
<text transform="translate(199.0,490.5) scale(0.8,1)" font-size="10.2" font-weight="bold" fill="#62bd50" text-anchor="middle" stroke="#62bd50" stroke-width="0.25">C13</text>
<text transform="translate(241.2,456.0) scale(0.8,1)" font-size="10.2" font-weight="bold" fill="#62bd50" text-anchor="middle" stroke="#62bd50" stroke-width="0.25">C15</text>
<text transform="translate(286.5,469.0) scale(0.8,1)" font-size="10.2" font-weight="bold" fill="#62bd50" text-anchor="middle" stroke="#62bd50" stroke-width="0.25">C31</text>
<text transform="translate(272.0,492.0) scale(0.8,1)" font-size="10.2" font-weight="bold" fill="#62bd50" text-anchor="middle" stroke="#62bd50" stroke-width="0.25">C24</text>
<text transform="translate(305.7,399.5) scale(0.8,1)" font-size="10.2" font-weight="bold" fill="#62bd50" text-anchor="middle" stroke="#62bd50" stroke-width="0.25">C11</text>
<text transform="translate(307.4,414.5) scale(0.8,1)" font-size="10.2" font-weight="bold" fill="#ddd08a" text-anchor="middle" stroke="#ddd08a" stroke-width="0.25">C4</text>
<text transform="translate(244.3,406.3) scale(0.8,1)" font-size="10.2" font-weight="bold" fill="#62bd50" text-anchor="middle" stroke="#62bd50" stroke-width="0.25">C27</text>
<text transform="translate(239.2,434.2) scale(0.8,1)" font-size="10.2" font-weight="bold" fill="#62bd50" text-anchor="middle" stroke="#62bd50" stroke-width="0.25">C29</text>
<text transform="translate(366,329.2) scale(0.875,1)" font-size="22.8" font-weight="bold" fill="#5cb94a" text-anchor="middle">C13</text>
<text transform="translate(366,404.2) scale(0.875,1)" font-size="22.8" font-weight="bold" fill="#5cb94a" text-anchor="middle">C17</text>
<text transform="translate(366,472.2) scale(0.875,1)" font-size="22.8" font-weight="bold" fill="#5cb94a" text-anchor="middle">C20</text>
<rect x="395.0" y="304.0" width="1.2" height="4.0" fill="#8a8a8a" stroke="none" stroke-width="1" />
<rect x="395.0" y="337.0" width="1.2" height="4.0" fill="#8a8a8a" stroke="none" stroke-width="1" />
<rect x="393.5" y="396.0" width="1.2" height="4.0" fill="#8a8a8a" stroke="none" stroke-width="1" />
<rect x="393.5" y="462.0" width="1.2" height="4.0" fill="#8a8a8a" stroke="none" stroke-width="1" />
<rect x="518.5" y="301.5" width="1.2" height="4.0" fill="#8a8a8a" stroke="none" stroke-width="1" />
<rect x="518.5" y="334.7" width="1.2" height="4.0" fill="#8a8a8a" stroke="none" stroke-width="1" />
<rect x="518.5" y="394.7" width="1.2" height="4.0" fill="#8a8a8a" stroke="none" stroke-width="1" />
<rect x="517.3" y="463.0" width="1.2" height="4.0" fill="#8a8a8a" stroke="none" stroke-width="1" />
<text transform="translate(404.42,312.40) scale(0.1313,0.2006)" font-size="100" font-weight="bold" fill="#151515">V</text>
<text transform="translate(413.12,312.40) scale(0.1313,0.2006)" font-size="100" font-weight="bold" fill="#151515">V</text>
<text transform="translate(420.94,312.40) scale(0.1613,0.2006)" font-size="100" font-weight="bold" fill="#6c24b8">N</text>
<text transform="translate(431.92,312.40) scale(0.0729,0.0116)" font-size="100" font-weight="bold" fill="#36a84a">T</text>
<text transform="translate(431.56,311.60) scale(0.0665,0.0145)" font-size="100" font-weight="bold" fill="#2f62a8">K</text>
<text transform="translate(436.24,312.39) scale(0.0637,0.0113)" font-size="100" font-weight="bold" fill="#36a84a">G</text>
<text transform="translate(436.30,311.58) scale(0.0717,0.0169)" font-size="100" font-weight="bold" fill="#36a84a">S</text>
<text transform="translate(440.48,312.40) scale(0.0786,0.0116)" font-size="100" font-weight="bold" fill="#2f62a8">R</text>
<text transform="translate(440.70,311.58) scale(0.0741,0.0169)" font-size="100" font-weight="bold" fill="#36a84a">G</text>
<text transform="translate(440.77,310.38) scale(0.0833,0.0226)" font-size="100" font-weight="bold" fill="#36a84a">S</text>
<text transform="translate(445.41,312.40) scale(0.0890,0.0174)" font-size="100" font-weight="bold" fill="#e0242c">E</text>
<text transform="translate(445.46,311.20) scale(0.0813,0.0189)" font-size="100" font-weight="bold" fill="#e0242c">D</text>
<text transform="translate(445.77,309.87) scale(0.0833,0.0254)" font-size="100" font-weight="bold" fill="#36a84a">S</text>
<text transform="translate(450.06,312.40) scale(0.1423,0.0218)" font-size="100" font-weight="bold" fill="#e0242c">E</text>
<text transform="translate(450.14,310.90) scale(0.1301,0.0291)" font-size="100" font-weight="bold" fill="#e0242c">D</text>
<text transform="translate(450.10,308.90) scale(0.1358,0.0916)" font-size="100" font-weight="bold" fill="#6c24b8">N</text>
<text transform="translate(458.41,312.38) scale(0.1437,0.0169)" font-size="100" font-weight="bold" fill="#36a84a">G</text>
<text transform="translate(457.96,311.20) scale(0.1577,0.1235)" font-size="100" font-weight="bold" fill="#e0242c">D</text>
<text transform="translate(468.51,312.40) scale(0.1746,0.0145)" font-size="100" font-weight="bold" fill="#36a84a">T</text>
<text transform="translate(467.73,311.40) scale(0.1469,0.1279)" font-size="100" font-weight="bold" fill="#151515">M</text>
<text transform="translate(478.47,312.39) scale(0.1289,0.0141)" font-size="100" font-weight="bold" fill="#36a84a">G</text>
<text transform="translate(478.10,311.40) scale(0.1368,0.1250)" font-size="100" font-weight="bold" fill="#2f62a8">R</text>
<text transform="translate(404.42,344.50) scale(0.1298,0.2006)" font-size="100" font-weight="bold" fill="#151515">V</text>
<text transform="translate(411.97,344.50) scale(0.1553,0.0291)" font-size="100" font-weight="bold" fill="#151515">L</text>
<text transform="translate(412.93,342.50) scale(0.1221,0.1235)" font-size="100" font-weight="bold" fill="#151515">V</text>
<text transform="translate(419.88,344.50) scale(0.1698,0.2006)" font-size="100" font-weight="bold" fill="#6c24b8">N</text>
<text transform="translate(436.44,344.50) scale(0.1299,0.0218)" font-size="100" font-weight="bold" fill="#e0242c">E</text>
<text transform="translate(436.52,343.00) scale(0.1187,0.0262)" font-size="100" font-weight="bold" fill="#e0242c">D</text>
<text transform="translate(436.48,341.20) scale(0.1239,0.0799)" font-size="100" font-weight="bold" fill="#6c24b8">N</text>
<text transform="translate(445.06,344.48) scale(0.1217,0.0198)" font-size="100" font-weight="bold" fill="#36a84a">S</text>
<text transform="translate(445.26,343.10) scale(0.1237,0.1294)" font-size="100" font-weight="bold" fill="#36a84a">T</text>
<text transform="translate(452.37,344.50) scale(0.1566,0.0174)" font-size="100" font-weight="bold" fill="#e0242c">E</text>
<text transform="translate(452.46,343.30) scale(0.1431,0.1250)" font-size="100" font-weight="bold" fill="#e0242c">D</text>
<text transform="translate(461.37,344.50) scale(0.1258,0.0116)" font-size="100" font-weight="bold" fill="#2f62a8">R</text>
<text transform="translate(461.38,343.70) scale(0.1236,0.1890)" font-size="100" font-weight="bold" fill="#2f62a8">K</text>
<text transform="translate(470.08,344.50) scale(0.1398,0.1977)" font-size="100" font-weight="bold" fill="#151515">L</text>
<text transform="translate(479.63,344.50) scale(0.1221,0.0291)" font-size="100" font-weight="bold" fill="#151515">V</text>
<path d="M479.70,334.70h8.00v1.25h-2.56v5.30h2.56v1.25h-8.00v-1.25h2.56v-5.30h-2.56z" fill="#151515"/>
<text transform="translate(527.74,311.00) scale(0.1086,0.2122)" font-size="100" font-weight="bold" fill="#151515">A</text>
<text transform="translate(535.15,311.00) scale(0.1356,0.0218)" font-size="100" font-weight="bold" fill="#36a84a">T</text>
<text transform="translate(534.81,309.48) scale(0.1185,0.0212)" font-size="100" font-weight="bold" fill="#36a84a">G</text>
<text transform="translate(534.93,307.94) scale(0.1333,0.0636)" font-size="100" font-weight="bold" fill="#36a84a">S</text>
<text transform="translate(542.88,311.00) scale(0.0786,0.0174)" font-size="100" font-weight="bold" fill="#2f62a8">R</text>
<text transform="translate(543.10,309.78) scale(0.0741,0.0198)" font-size="100" font-weight="bold" fill="#36a84a">G</text>
<text transform="translate(543.17,308.38) scale(0.0833,0.0226)" font-size="100" font-weight="bold" fill="#36a84a">S</text>
<text transform="translate(547.73,311.00) scale(0.1019,0.0145)" font-size="100" font-weight="bold" fill="#6c24b8">N</text>
<text transform="translate(547.70,310.00) scale(0.1068,0.0218)" font-size="100" font-weight="bold" fill="#e0242c">E</text>
<text transform="translate(547.76,308.50) scale(0.0976,0.0509)" font-size="100" font-weight="bold" fill="#e0242c">D</text>
<text transform="translate(553.81,311.00) scale(0.0890,0.0116)" font-size="100" font-weight="bold" fill="#e0242c">E</text>
<text transform="translate(554.17,310.18) scale(0.0833,0.0169)" font-size="100" font-weight="bold" fill="#36a84a">S</text>
<text transform="translate(554.31,309.00) scale(0.0847,0.0145)" font-size="100" font-weight="bold" fill="#36a84a">T</text>
<text transform="translate(558.69,311.00) scale(0.1073,0.0087)" font-size="100" font-weight="bold" fill="#e0242c">D</text>
<text transform="translate(558.73,310.40) scale(0.1020,0.0145)" font-size="100" font-weight="bold" fill="#2f62a8">K</text>
<text transform="translate(565.10,311.00) scale(0.1358,0.1919)" font-size="100" font-weight="bold" fill="#6c24b8">N</text>
<text transform="translate(573.85,311.00) scale(0.1356,0.1962)" font-size="100" font-weight="bold" fill="#36a84a">T</text>
<text transform="translate(581.51,310.81) scale(0.1185,0.1907)" font-size="100" font-weight="bold" fill="#36a84a">G</text>
<text transform="translate(589.13,311.00) scale(0.1317,0.1962)" font-size="100" font-weight="bold" fill="#e0242c">E</text>
<text transform="translate(596.46,311.00) scale(0.1417,0.1962)" font-size="100" font-weight="bold" fill="#151515">L</text>
<text transform="translate(603.66,311.00) scale(0.1572,0.1962)" font-size="100" font-weight="bold" fill="#151515">F</text>
<text transform="translate(527.74,343.80) scale(0.1086,0.2093)" font-size="100" font-weight="bold" fill="#151515">A</text>
<text transform="translate(534.60,343.80) scale(0.1053,0.0741)" font-size="100" font-weight="bold" fill="#2f62a8">R</text>
<path d="M535.30,329.40h6.70v1.49h-2.14v6.32h2.14v1.49h-6.70v-1.49h2.14v-6.32h-2.14z" fill="#151515"/>
<text transform="translate(541.41,343.80) scale(0.0896,0.0640)" font-size="100" font-weight="bold" fill="#2f62a8">R</text>
<text transform="translate(541.39,339.40) scale(0.0927,0.0640)" font-size="100" font-weight="bold" fill="#e0242c">D</text>
<text transform="translate(541.89,335.00) scale(0.0966,0.0683)" font-size="100" font-weight="bold" fill="#36a84a">T</text>
<text transform="translate(547.44,343.80) scale(0.1086,0.0640)" font-size="100" font-weight="bold" fill="#151515">A</text>
<text transform="translate(546.94,339.40) scale(0.1148,0.0669)" font-size="100" font-weight="bold" fill="#2f62a8">R</text>
<text transform="translate(547.26,334.74) scale(0.1081,0.0650)" font-size="100" font-weight="bold" fill="#36a84a">G</text>
<text transform="translate(554.22,343.80) scale(0.1187,0.2093)" font-size="100" font-weight="bold" fill="#e0242c">D</text>
<text transform="translate(562.01,343.80) scale(0.1205,0.0669)" font-size="100" font-weight="bold" fill="#151515">A</text>
<text transform="translate(561.82,338.32) scale(0.1165,0.0447)" font-size="100" font-weight="bold" fill="#6c24b8">Q</text>
<text transform="translate(561.39,335.20) scale(0.1375,0.0727)" font-size="100" font-weight="bold" fill="#151515">H</text>
<text transform="translate(569.58,343.80) scale(0.1239,0.2093)" font-size="100" font-weight="bold" fill="#6c24b8">N</text>
<text transform="translate(577.56,343.80) scale(0.1237,0.2093)" font-size="100" font-weight="bold" fill="#36a84a">T</text>
<text transform="translate(584.03,343.60) scale(0.1156,0.2034)" font-size="100" font-weight="bold" fill="#36a84a">G</text>
<text transform="translate(591.44,343.80) scale(0.1299,0.2093)" font-size="100" font-weight="bold" fill="#e0242c">E</text>
<text transform="translate(598.75,343.80) scale(0.1282,0.2093)" font-size="100" font-weight="bold" fill="#151515">L</text>
<text transform="translate(605.36,343.80) scale(0.1277,0.2093)" font-size="100" font-weight="bold" fill="#151515">F</text>
<text transform="translate(401.99,418.20) scale(0.1295,0.1206)" font-size="100" font-weight="bold" fill="#151515">A</text>
<text transform="translate(402.22,409.90) scale(0.1328,0.3081)" font-size="100" font-weight="bold" fill="#151515">V</text>
<text transform="translate(410.59,418.19) scale(0.1467,0.0113)" font-size="100" font-weight="bold" fill="#36a84a">S</text>
<text transform="translate(410.47,417.38) scale(0.1304,0.0169)" font-size="100" font-weight="bold" fill="#36a84a">G</text>
<text transform="translate(410.92,416.20) scale(0.1344,0.5087)" font-size="100" font-weight="bold" fill="#151515">V</text>
<text transform="translate(419.92,418.18) scale(0.1407,0.0212)" font-size="100" font-weight="bold" fill="#36a84a">G</text>
<text transform="translate(419.44,416.70) scale(0.1613,0.5887)" font-size="100" font-weight="bold" fill="#6c24b8">N</text>
<text transform="translate(429.56,418.18) scale(0.1583,0.0169)" font-size="100" font-weight="bold" fill="#36a84a">S</text>
<text transform="translate(428.98,417.00) scale(0.1545,0.0291)" font-size="100" font-weight="bold" fill="#e0242c">D</text>
<text transform="translate(428.88,415.00) scale(0.1690,0.0378)" font-size="100" font-weight="bold" fill="#e0242c">E</text>
<text transform="translate(429.01,412.40) scale(0.1494,0.0407)" font-size="100" font-weight="bold" fill="#2f62a8">R</text>
<text transform="translate(429.42,409.58) scale(0.1407,0.0212)" font-size="100" font-weight="bold" fill="#36a84a">G</text>
<text transform="translate(439.06,418.18) scale(0.1583,0.0212)" font-size="100" font-weight="bold" fill="#36a84a">S</text>
<text transform="translate(438.38,416.70) scale(0.1690,0.0320)" font-size="100" font-weight="bold" fill="#e0242c">E</text>
<text transform="translate(438.51,414.50) scale(0.1494,0.0480)" font-size="100" font-weight="bold" fill="#2f62a8">R</text>
<text transform="translate(438.48,411.20) scale(0.1545,0.0480)" font-size="100" font-weight="bold" fill="#e0242c">D</text>
<text transform="translate(438.92,407.82) scale(0.1407,0.0763)" font-size="100" font-weight="bold" fill="#36a84a">G</text>
<text transform="translate(448.56,418.18) scale(0.1583,0.0212)" font-size="100" font-weight="bold" fill="#36a84a">S</text>
<text transform="translate(447.98,416.70) scale(0.1545,0.5596)" font-size="100" font-weight="bold" fill="#e0242c">D</text>
<text transform="translate(457.38,418.20) scale(0.1690,0.0218)" font-size="100" font-weight="bold" fill="#e0242c">E</text>
<text transform="translate(457.48,416.70) scale(0.1545,0.0334)" font-size="100" font-weight="bold" fill="#e0242c">D</text>
<text transform="translate(457.51,414.40) scale(0.1494,0.1119)" font-size="100" font-weight="bold" fill="#2f62a8">R</text>
<text transform="translate(457.53,406.70) scale(0.1468,0.2616)" font-size="100" font-weight="bold" fill="#2f62a8">K</text>
<text transform="translate(467.59,418.18) scale(0.1467,0.0212)" font-size="100" font-weight="bold" fill="#36a84a">S</text>
<text transform="translate(467.47,416.67) scale(0.1304,0.0282)" font-size="100" font-weight="bold" fill="#36a84a">G</text>
<text transform="translate(466.87,414.70) scale(0.1709,0.1017)" font-size="100" font-weight="bold" fill="#151515">L</text>
<path d="M468.00,391.70h8.80v2.56h-2.82v10.88h2.82v2.56h-8.80v-2.56h2.82v-10.88h-2.82z" fill="#151515"/>
<text transform="translate(476.53,418.20) scale(0.1609,0.0174)" font-size="100" font-weight="bold" fill="#36a84a">Y</text>
<text transform="translate(476.32,416.97) scale(0.1700,0.0282)" font-size="100" font-weight="bold" fill="#36a84a">S</text>
<text transform="translate(475.74,415.00) scale(0.1604,0.0509)" font-size="100" font-weight="bold" fill="#2f62a8">R</text>
<path d="M476.80,388.50h10.20v3.68h-3.26v15.64h3.26v3.68h-10.20v-3.68h3.26v-15.64h-3.26z" fill="#151515"/>
<text transform="translate(527.96,416.98) scale(0.1567,0.0212)" font-size="100" font-weight="bold" fill="#36a84a">S</text>
<text transform="translate(528.06,415.50) scale(0.1399,0.5669)" font-size="100" font-weight="bold" fill="#151515">A</text>
<text transform="translate(537.14,416.98) scale(0.1600,0.0212)" font-size="100" font-weight="bold" fill="#36a84a">G</text>
<text transform="translate(537.30,415.02) scale(0.1800,0.4802)" font-size="100" font-weight="bold" fill="#36a84a">S</text>
<text transform="translate(548.42,417.00) scale(0.1593,0.0363)" font-size="100" font-weight="bold" fill="#36a84a">T</text>
<text transform="translate(548.16,414.08) scale(0.1567,0.4237)" font-size="100" font-weight="bold" fill="#36a84a">S</text>
<text transform="translate(557.04,417.00) scale(0.1459,0.0363)" font-size="100" font-weight="bold" fill="#e0242c">E</text>
<text transform="translate(557.85,414.50) scale(0.1390,0.0363)" font-size="100" font-weight="bold" fill="#36a84a">T</text>
<text transform="translate(557.62,411.97) scale(0.1367,0.0282)" font-size="100" font-weight="bold" fill="#36a84a">S</text>
<text transform="translate(557.05,410.00) scale(0.1446,0.0945)" font-size="100" font-weight="bold" fill="#151515">P</text>
<text transform="translate(565.10,417.00) scale(0.1673,0.0291)" font-size="100" font-weight="bold" fill="#e0242c">E</text>
<text transform="translate(566.02,415.00) scale(0.1593,0.0218)" font-size="100" font-weight="bold" fill="#36a84a">T</text>
<text transform="translate(565.19,413.50) scale(0.1528,0.3997)" font-size="100" font-weight="bold" fill="#e0242c">D</text>
<text transform="translate(574.94,416.96) scale(0.1600,0.0353)" font-size="100" font-weight="bold" fill="#36a84a">G</text>
<text transform="translate(574.96,413.77) scale(0.1554,0.0369)" font-size="100" font-weight="bold" fill="#6c24b8">Q</text>
<text transform="translate(574.33,411.20) scale(0.1922,0.0581)" font-size="100" font-weight="bold" fill="#e0242c">E</text>
<path d="M575.60,385.70h10.80v3.44h-3.46v14.62h3.46v3.44h-10.80v-3.44h3.46v-14.62h-3.46z" fill="#151515"/>
<text transform="translate(586.02,416.97) scale(0.1350,0.0282)" font-size="100" font-weight="bold" fill="#36a84a">S</text>
<text transform="translate(586.11,415.00) scale(0.1205,0.0218)" font-size="100" font-weight="bold" fill="#151515">A</text>
<text transform="translate(585.92,412.51) scale(0.1165,0.0503)" font-size="100" font-weight="bold" fill="#6c24b8">Q</text>
<text transform="translate(585.45,409.00) scale(0.1441,0.1890)" font-size="100" font-weight="bold" fill="#e0242c">E</text>
<text transform="translate(594.12,416.97) scale(0.1350,0.0282)" font-size="100" font-weight="bold" fill="#36a84a">S</text>
<text transform="translate(594.28,415.00) scale(0.1278,0.0436)" font-size="100" font-weight="bold" fill="#36a84a">Y</text>
<text transform="translate(594.02,410.11) scale(0.1165,0.0961)" font-size="100" font-weight="bold" fill="#6c24b8">Q</text>
<text transform="translate(594.21,403.40) scale(0.1205,0.1599)" font-size="100" font-weight="bold" fill="#151515">A</text>
<text transform="translate(602.27,417.00) scale(0.1924,0.1235)" font-size="100" font-weight="bold" fill="#36a84a">Y</text>
<text transform="translate(601.02,408.50) scale(0.2397,0.2529)" font-size="100" font-weight="bold" fill="#151515">F</text>
<text transform="translate(400.43,485.20) scale(0.1084,0.6308)" font-size="100" font-weight="bold" fill="#151515">V</text>
<text transform="translate(407.53,485.20) scale(0.1084,0.6308)" font-size="100" font-weight="bold" fill="#151515">V</text>
<text transform="translate(413.90,485.20) scale(0.1205,0.6308)" font-size="100" font-weight="bold" fill="#6c24b8">N</text>
<text transform="translate(427.14,485.20) scale(0.1305,0.6308)" font-size="100" font-weight="bold" fill="#151515">P</text>
<text transform="translate(434.99,475.65) scale(0.1007,0.4849)" font-size="100" font-weight="bold" fill="#6c24b8">Q</text>
<text transform="translate(442.15,485.20) scale(0.1057,0.6308)" font-size="100" font-weight="bold" fill="#151515">A</text>
<text transform="translate(449.07,484.59) scale(0.1052,0.6130)" font-size="100" font-weight="bold" fill="#36a84a">G</text>
<text transform="translate(456.47,485.20) scale(0.1203,0.6308)" font-size="100" font-weight="bold" fill="#36a84a">T</text>
<text transform="translate(463.45,485.20) scale(0.1057,0.6308)" font-size="100" font-weight="bold" fill="#151515">A</text>
<text transform="translate(470.01,485.20) scale(0.1204,0.6308)" font-size="100" font-weight="bold" fill="#151515">L</text>
<path d="M477.00,441.80h6.30v6.94h-2.02v29.51h2.02v6.94h-6.30v-6.94h2.02v-29.51h-2.02z" fill="#151515"/>
<text transform="translate(526.36,484.79) scale(0.1217,0.6073)" font-size="100" font-weight="bold" fill="#36a84a">S</text>
<text transform="translate(533.82,485.40) scale(0.0744,0.6250)" font-size="100" font-weight="bold" fill="#151515">A</text>
<text transform="translate(538.38,485.40) scale(0.0943,0.6250)" font-size="100" font-weight="bold" fill="#2f62a8">R</text>
<text transform="translate(544.38,485.40) scale(0.0943,0.6250)" font-size="100" font-weight="bold" fill="#e0242c">D</text>
<text transform="translate(555.25,485.40) scale(0.1132,0.0116)" font-size="100" font-weight="bold" fill="#2f62a8">R</text>
<text transform="translate(555.66,484.58) scale(0.1200,0.0169)" font-size="100" font-weight="bold" fill="#36a84a">S</text>
<text transform="translate(555.87,483.40) scale(0.1220,0.0189)" font-size="100" font-weight="bold" fill="#36a84a">T</text>
<text transform="translate(555.23,482.10) scale(0.1171,0.0145)" font-size="100" font-weight="bold" fill="#e0242c">D</text>
<text transform="translate(562.96,485.38) scale(0.0850,0.0169)" font-size="100" font-weight="bold" fill="#36a84a">S</text>
<text transform="translate(562.67,484.20) scale(0.0802,0.0233)" font-size="100" font-weight="bold" fill="#2f62a8">R</text>
<text transform="translate(562.89,482.52) scale(0.0756,0.0791)" font-size="100" font-weight="bold" fill="#36a84a">G</text>
<text transform="translate(563.02,477.00) scale(0.0759,0.1802)" font-size="100" font-weight="bold" fill="#151515">A</text>
<text transform="translate(567.62,485.40) scale(0.1032,0.0959)" font-size="100" font-weight="bold" fill="#e0242c">E</text>
<text transform="translate(567.96,473.65) scale(0.0835,0.2615)" font-size="100" font-weight="bold" fill="#6c24b8">Q</text>
<text transform="translate(573.36,485.40) scale(0.1121,0.6250)" font-size="100" font-weight="bold" fill="#6c24b8">N</text>
<text transform="translate(580.58,485.40) scale(0.1119,0.6250)" font-size="100" font-weight="bold" fill="#36a84a">T</text>
<text transform="translate(586.99,484.79) scale(0.0756,0.6073)" font-size="100" font-weight="bold" fill="#36a84a">G</text>
<text transform="translate(591.72,485.40) scale(0.1032,0.6250)" font-size="100" font-weight="bold" fill="#e0242c">E</text>
<text transform="translate(597.55,485.40) scale(0.0990,0.6250)" font-size="100" font-weight="bold" fill="#151515">L</text>
<text transform="translate(602.43,485.40) scale(0.1316,0.6250)" font-size="100" font-weight="bold" fill="#151515">F</text>
<text x="326.9" y="509.8" font-size="10.8" fill="#222" text-anchor="start" font-weight="normal" >chemistry</text>
<rect x="379.8" y="498.0" width="15.3" height="16.0" fill="#e0242c" stroke="none" stroke-width="1" />
<text x="399.8" y="509.3" font-size="9.05" fill="#222" text-anchor="start" font-weight="normal" >Acidic</text>
<rect x="430.0" y="498.0" width="15.3" height="16.0" fill="#2f62a8" stroke="none" stroke-width="1" />
<text x="450.0" y="509.3" font-size="9.05" fill="#222" text-anchor="start" font-weight="normal" >Basic</text>
<rect x="477.0" y="498.0" width="15.3" height="16.0" fill="#151515" stroke="none" stroke-width="1" />
<text x="497.6" y="509.3" font-size="9.05" fill="#222" text-anchor="start" font-weight="normal" >Hydrophobic</text>
<rect x="553.2" y="498.0" width="15.3" height="16.0" fill="#6c24b8" stroke="none" stroke-width="1" />
<text x="573.2" y="509.3" font-size="9.05" fill="#222" text-anchor="start" font-weight="normal" >Neutral</text>
<rect x="609.0" y="498.0" width="15.3" height="16.0" fill="#36a84a" stroke="none" stroke-width="1" />
<text x="628.3" y="509.3" font-size="9.05" fill="#222" text-anchor="start" font-weight="normal" >Polar</text>
<line x1="50.5" y1="568.5" x2="50.5" y2="767.5" stroke="#222" stroke-width="0.9" />
<line x1="50.5" y1="767.5" x2="127.6" y2="767.5" stroke="#222" stroke-width="0.9" />
<line x1="48.5" y1="735.0" x2="50.5" y2="735.0" stroke="#333" stroke-width="0.6" />
<text x="47.7" y="736.9" font-size="5.4" fill="#444" text-anchor="end" font-weight="normal" >0.25</text>
<line x1="48.5" y1="691.3" x2="50.5" y2="691.3" stroke="#333" stroke-width="0.6" />
<text x="47.7" y="693.2" font-size="5.4" fill="#444" text-anchor="end" font-weight="normal" >0.50</text>
<line x1="48.5" y1="647.6" x2="50.5" y2="647.6" stroke="#333" stroke-width="0.6" />
<text x="47.7" y="649.5" font-size="5.4" fill="#444" text-anchor="end" font-weight="normal" >0.75</text>
<line x1="48.5" y1="603.9" x2="50.5" y2="603.9" stroke="#333" stroke-width="0.6" />
<text x="47.7" y="605.8" font-size="5.4" fill="#444" text-anchor="end" font-weight="normal" >1.00</text>
<line x1="172.4" y1="568.5" x2="172.4" y2="767.5" stroke="#222" stroke-width="0.9" />
<line x1="172.4" y1="767.5" x2="255.5" y2="767.5" stroke="#222" stroke-width="0.9" />
<line x1="170.4" y1="735.0" x2="172.4" y2="735.0" stroke="#333" stroke-width="0.6" />
<text x="169.6" y="736.9" font-size="5.4" fill="#444" text-anchor="end" font-weight="normal" >0.25</text>
<line x1="170.4" y1="691.3" x2="172.4" y2="691.3" stroke="#333" stroke-width="0.6" />
<text x="169.6" y="693.2" font-size="5.4" fill="#444" text-anchor="end" font-weight="normal" >0.50</text>
<line x1="170.4" y1="647.6" x2="172.4" y2="647.6" stroke="#333" stroke-width="0.6" />
<text x="169.6" y="649.5" font-size="5.4" fill="#444" text-anchor="end" font-weight="normal" >0.75</text>
<line x1="170.4" y1="603.9" x2="172.4" y2="603.9" stroke="#333" stroke-width="0.6" />
<text x="169.6" y="605.8" font-size="5.4" fill="#444" text-anchor="end" font-weight="normal" >1.00</text>
<line x1="72.3" y1="604.0" x2="72.3" y2="609.8" stroke="#80cc72" stroke-width="0.9" />
<line x1="72.3" y1="626.9" x2="72.3" y2="637.9" stroke="#80cc72" stroke-width="0.9" />
<rect x="62.8" y="609.8" width="19.1" height="17.1" fill="none" stroke="#80cc72" stroke-width="0.9" />
<line x1="62.8" y1="620.0" x2="81.8" y2="620.0" stroke="#80cc72" stroke-width="0.9" />
<line x1="109.3" y1="604.0" x2="109.3" y2="616.5" stroke="#80cc72" stroke-width="0.9" />
<line x1="109.3" y1="641.2" x2="109.3" y2="667.0" stroke="#80cc72" stroke-width="0.9" />
<rect x="99.8" y="616.5" width="19.1" height="24.7" fill="none" stroke="#80cc72" stroke-width="0.9" />
<line x1="99.8" y1="628.2" x2="118.8" y2="628.2" stroke="#80cc72" stroke-width="0.9" />
<line x1="197.0" y1="641.0" x2="197.0" y2="669.9" stroke="#80cc72" stroke-width="0.9" />
<line x1="197.0" y1="692.6" x2="197.0" y2="720.6" stroke="#80cc72" stroke-width="0.9" />
<rect x="187.4" y="669.9" width="19.2" height="22.7" fill="none" stroke="#80cc72" stroke-width="0.9" />
<line x1="187.4" y1="683.1" x2="206.6" y2="683.1" stroke="#80cc72" stroke-width="0.9" />
<line x1="234.0" y1="604.2" x2="234.0" y2="631.2" stroke="#80cc72" stroke-width="0.9" />
<line x1="234.0" y1="660.4" x2="234.0" y2="689.2" stroke="#80cc72" stroke-width="0.9" />
<rect x="224.6" y="631.2" width="18.9" height="29.2" fill="none" stroke="#80cc72" stroke-width="0.9" />
<line x1="224.6" y1="651.4" x2="243.4" y2="651.4" stroke="#80cc72" stroke-width="0.9" />
<circle cx="72.2" cy="604.0" r="1.30" fill="#4fb43e" stroke="none" stroke-width="1" />
<circle cx="76.5" cy="604.0" r="1.30" fill="#4fb43e" stroke="none" stroke-width="1" />
<circle cx="67.1" cy="608.8" r="1.30" fill="#4fb43e" stroke="none" stroke-width="1" />
<circle cx="78.0" cy="609.3" r="1.30" fill="#4fb43e" stroke="none" stroke-width="1" />
<circle cx="74.9" cy="611.1" r="1.30" fill="#4fb43e" stroke="none" stroke-width="1" />
<circle cx="73.9" cy="613.9" r="1.30" fill="#4fb43e" stroke="none" stroke-width="1" />
<circle cx="73.9" cy="617.0" r="1.30" fill="#4fb43e" stroke="none" stroke-width="1" />
<circle cx="65.2" cy="620.0" r="1.30" fill="#4fb43e" stroke="none" stroke-width="1" />
<circle cx="71.1" cy="621.1" r="1.30" fill="#4fb43e" stroke="none" stroke-width="1" />
<circle cx="79.3" cy="620.0" r="1.30" fill="#4fb43e" stroke="none" stroke-width="1" />
<circle cx="65.7" cy="626.9" r="1.30" fill="#4fb43e" stroke="none" stroke-width="1" />
<circle cx="70.3" cy="625.7" r="1.30" fill="#4fb43e" stroke="none" stroke-width="1" />
<circle cx="72.4" cy="632.3" r="1.30" fill="#4fb43e" stroke="none" stroke-width="1" />
<circle cx="74.2" cy="637.9" r="1.30" fill="#4fb43e" stroke="none" stroke-width="1" />
<circle cx="68.3" cy="665.7" r="1.30" fill="#4fb43e" stroke="none" stroke-width="1" />
<circle cx="76.4" cy="729.0" r="1.30" fill="#4fb43e" stroke="none" stroke-width="1" />
<circle cx="108.1" cy="604.0" r="1.30" fill="#4fb43e" stroke="none" stroke-width="1" />
<circle cx="112.7" cy="604.0" r="1.30" fill="#4fb43e" stroke="none" stroke-width="1" />
<circle cx="103.5" cy="607.6" r="1.30" fill="#4fb43e" stroke="none" stroke-width="1" />
<circle cx="108.1" cy="614.2" r="1.30" fill="#4fb43e" stroke="none" stroke-width="1" />
<circle cx="109.2" cy="616.5" r="1.30" fill="#4fb43e" stroke="none" stroke-width="1" />
<circle cx="113.2" cy="620.0" r="1.30" fill="#4fb43e" stroke="none" stroke-width="1" />
<circle cx="104.9" cy="624.8" r="1.30" fill="#4fb43e" stroke="none" stroke-width="1" />
<circle cx="116.3" cy="624.8" r="1.30" fill="#4fb43e" stroke="none" stroke-width="1" />
<circle cx="104.6" cy="629.7" r="1.30" fill="#4fb43e" stroke="none" stroke-width="1" />
<circle cx="109.2" cy="628.2" r="1.30" fill="#4fb43e" stroke="none" stroke-width="1" />
<circle cx="108.1" cy="633.3" r="1.30" fill="#4fb43e" stroke="none" stroke-width="1" />
<circle cx="106.6" cy="635.4" r="1.30" fill="#4fb43e" stroke="none" stroke-width="1" />
<circle cx="108.1" cy="641.0" r="1.30" fill="#4fb43e" stroke="none" stroke-width="1" />
<circle cx="115.8" cy="643.5" r="1.30" fill="#4fb43e" stroke="none" stroke-width="1" />
<circle cx="108.6" cy="651.0" r="1.30" fill="#4fb43e" stroke="none" stroke-width="1" />
<circle cx="109.7" cy="667.0" r="1.30" fill="#4fb43e" stroke="none" stroke-width="1" />
<circle cx="109.2" cy="691.3" r="1.30" fill="#4fb43e" stroke="none" stroke-width="1" />
<circle cx="190.8" cy="613.2" r="1.30" fill="#4fb43e" stroke="none" stroke-width="1" />
<circle cx="200.9" cy="623.5" r="1.30" fill="#4fb43e" stroke="none" stroke-width="1" />
<circle cx="202.7" cy="641.0" r="1.30" fill="#4fb43e" stroke="none" stroke-width="1" />
<circle cx="200.6" cy="668.0" r="1.30" fill="#4fb43e" stroke="none" stroke-width="1" />
<circle cx="191.9" cy="671.9" r="1.30" fill="#4fb43e" stroke="none" stroke-width="1" />
<circle cx="194.8" cy="673.0" r="1.30" fill="#4fb43e" stroke="none" stroke-width="1" />
<circle cx="196.2" cy="678.4" r="1.30" fill="#4fb43e" stroke="none" stroke-width="1" />
<circle cx="193.5" cy="683.1" r="1.30" fill="#4fb43e" stroke="none" stroke-width="1" />
<circle cx="195.5" cy="686.1" r="1.30" fill="#4fb43e" stroke="none" stroke-width="1" />
<circle cx="195.9" cy="691.0" r="1.30" fill="#4fb43e" stroke="none" stroke-width="1" />
<circle cx="198.9" cy="691.0" r="1.30" fill="#4fb43e" stroke="none" stroke-width="1" />
<circle cx="193.8" cy="693.9" r="1.30" fill="#4fb43e" stroke="none" stroke-width="1" />
<circle cx="194.2" cy="695.0" r="1.30" fill="#4fb43e" stroke="none" stroke-width="1" />
<circle cx="201.1" cy="720.6" r="1.30" fill="#4fb43e" stroke="none" stroke-width="1" />
<circle cx="199.7" cy="758.0" r="1.30" fill="#4fb43e" stroke="none" stroke-width="1" />
<circle cx="240.0" cy="603.9" r="1.30" fill="#4fb43e" stroke="none" stroke-width="1" />
<circle cx="237.4" cy="609.7" r="1.30" fill="#4fb43e" stroke="none" stroke-width="1" />
<circle cx="238.6" cy="609.7" r="1.30" fill="#4fb43e" stroke="none" stroke-width="1" />
<circle cx="232.0" cy="612.9" r="1.30" fill="#4fb43e" stroke="none" stroke-width="1" />
<circle cx="237.8" cy="631.2" r="1.30" fill="#4fb43e" stroke="none" stroke-width="1" />
<circle cx="229.3" cy="641.3" r="1.30" fill="#4fb43e" stroke="none" stroke-width="1" />
<circle cx="239.1" cy="641.3" r="1.30" fill="#4fb43e" stroke="none" stroke-width="1" />
<circle cx="233.7" cy="650.0" r="1.30" fill="#4fb43e" stroke="none" stroke-width="1" />
<circle cx="240.0" cy="651.4" r="1.30" fill="#4fb43e" stroke="none" stroke-width="1" />
<circle cx="233.3" cy="655.9" r="1.30" fill="#4fb43e" stroke="none" stroke-width="1" />
<circle cx="232.0" cy="659.5" r="1.30" fill="#4fb43e" stroke="none" stroke-width="1" />
<circle cx="235.3" cy="659.5" r="1.30" fill="#4fb43e" stroke="none" stroke-width="1" />
<circle cx="240.3" cy="658.6" r="1.30" fill="#4fb43e" stroke="none" stroke-width="1" />
<circle cx="227.0" cy="664.0" r="1.30" fill="#4fb43e" stroke="none" stroke-width="1" />
<circle cx="227.2" cy="678.4" r="1.30" fill="#4fb43e" stroke="none" stroke-width="1" />
<circle cx="234.7" cy="679.0" r="1.30" fill="#4fb43e" stroke="none" stroke-width="1" />
<circle cx="227.0" cy="689.2" r="1.30" fill="#4fb43e" stroke="none" stroke-width="1" />
<line x1="71.8" y1="595.5" x2="109.5" y2="595.5" stroke="#333" stroke-width="1" />
<text x="87.2" y="592.3" font-size="7.8" fill="#222" text-anchor="middle" font-weight="bold" >0.62</text>
<line x1="195.9" y1="595.5" x2="234.7" y2="595.5" stroke="#333" stroke-width="1" />
<text x="215.3" y="592.3" font-size="8.3" fill="#222" text-anchor="middle" font-weight="bold" >0.0078</text>
<text x="28.7" y="671.5" font-size="9.0" fill="#222" text-anchor="middle" font-weight="normal" transform="rotate(-90 28.7 671.5)" >Normalized Shannon's Entropy (NSE)</text>
<text x="150.8" y="671.5" font-size="9.0" fill="#222" text-anchor="middle" font-weight="normal" transform="rotate(-90 150.8 671.5)" >Normalized Shannon's Entropy (NSE)</text>
<text x="71.8" y="775.3" font-size="7.2" fill="#222" text-anchor="middle" font-weight="normal" >CDR3a</text>
<text x="108.7" y="775.3" font-size="7.2" fill="#222" text-anchor="middle" font-weight="normal" >CDR3β</text>
<text x="197.2" y="775.3" font-size="7.2" fill="#222" text-anchor="middle" font-weight="normal" >TRAV</text>
<text x="233.8" y="775.3" font-size="7.2" fill="#222" text-anchor="middle" font-weight="normal" >TRBV</text>
<line x1="307.5" y1="580.0" x2="307.5" y2="773.5" stroke="#333" stroke-width="0.9" />
<line x1="307.5" y1="773.5" x2="456.3" y2="773.5" stroke="#333" stroke-width="0.9" />
<line x1="304.5" y1="765.0" x2="307.0" y2="765.0" stroke="#333" stroke-width="0.6" />
<text x="304.0" y="766.5" font-size="7.2" fill="#777" text-anchor="end" font-weight="normal" transform="rotate(-45 304 766.5)" >0.0</text>
<line x1="304.5" y1="723.6" x2="307.0" y2="723.6" stroke="#333" stroke-width="0.6" />
<text x="304.0" y="725.1" font-size="7.2" fill="#777" text-anchor="end" font-weight="normal" transform="rotate(-45 304 725.1)" >2.5</text>
<line x1="304.5" y1="682.2" x2="307.0" y2="682.2" stroke="#333" stroke-width="0.6" />
<text x="304.0" y="683.7" font-size="7.2" fill="#777" text-anchor="end" font-weight="normal" transform="rotate(-45 304 683.7)" >5.0</text>
<line x1="304.5" y1="640.8" x2="307.0" y2="640.8" stroke="#333" stroke-width="0.6" />
<text x="304.0" y="642.3" font-size="7.2" fill="#777" text-anchor="end" font-weight="normal" transform="rotate(-45 304 642.3)" >7.5</text>
<line x1="304.5" y1="599.4" x2="307.0" y2="599.4" stroke="#333" stroke-width="0.6" />
<text x="304.0" y="600.9" font-size="7.2" fill="#777" text-anchor="end" font-weight="normal" transform="rotate(-45 304 600.9)" >10.0</text>
<line x1="324.0" y1="773.0" x2="324.0" y2="775.5" stroke="#333" stroke-width="0.6" />
<text x="326.5" y="781.5" font-size="7.2" fill="#666" text-anchor="end" font-weight="normal" transform="rotate(-45 326.5 781.5)" >COV−S−044</text>
<line x1="347.9" y1="773.0" x2="347.9" y2="775.5" stroke="#333" stroke-width="0.6" />
<text x="350.4" y="781.5" font-size="7.2" fill="#666" text-anchor="end" font-weight="normal" transform="rotate(-45 350.4 781.5)" >COV−S−044.2</text>
<line x1="372.7" y1="773.0" x2="372.7" y2="775.5" stroke="#333" stroke-width="0.6" />
<text x="375.2" y="781.5" font-size="7.2" fill="#666" text-anchor="end" font-weight="normal" transform="rotate(-45 375.2 781.5)" >COV−S−082</text>
<line x1="397.2" y1="773.0" x2="397.2" y2="775.5" stroke="#333" stroke-width="0.6" />
<text x="399.7" y="781.5" font-size="7.2" fill="#666" text-anchor="end" font-weight="normal" transform="rotate(-45 399.7 781.5)" >COV−S−085.2</text>
<line x1="421.7" y1="773.0" x2="421.7" y2="775.5" stroke="#333" stroke-width="0.6" />
<text x="424.2" y="781.5" font-size="7.2" fill="#666" text-anchor="end" font-weight="normal" transform="rotate(-45 424.2 781.5)" >COV−S−086</text>
<line x1="446.0" y1="773.0" x2="446.0" y2="775.5" stroke="#333" stroke-width="0.6" />
<text x="448.5" y="781.5" font-size="7.2" fill="#666" text-anchor="end" font-weight="normal" transform="rotate(-45 448.5 781.5)" >COV−S−094</text>
<circle cx="378.3" cy="757.0" r="1.90" fill="none" stroke="#7fcc62" stroke-width="0.55" />
<circle cx="382.9" cy="750.7" r="1.90" fill="none" stroke="#7fcc62" stroke-width="0.55" />
<circle cx="382.4" cy="752.9" r="1.90" fill="none" stroke="#7fcc62" stroke-width="0.55" />
<circle cx="371.9" cy="765.0" r="1.90" fill="none" stroke="#7fcc62" stroke-width="0.55" />
<circle cx="376.1" cy="743.4" r="1.90" fill="none" stroke="#7fcc62" stroke-width="0.55" />
<circle cx="363.8" cy="745.7" r="1.90" fill="none" stroke="#7fcc62" stroke-width="0.55" />
<circle cx="366.9" cy="761.0" r="1.90" fill="none" stroke="#7fcc62" stroke-width="0.55" />
<circle cx="374.4" cy="759.2" r="1.90" fill="none" stroke="#7fcc62" stroke-width="0.55" />
<circle cx="366.2" cy="765.0" r="1.90" fill="none" stroke="#7fcc62" stroke-width="0.55" />
<circle cx="382.3" cy="763.8" r="1.90" fill="none" stroke="#7fcc62" stroke-width="0.55" />
<circle cx="364.9" cy="751.9" r="1.90" fill="none" stroke="#7fcc62" stroke-width="0.55" />
<circle cx="364.4" cy="750.6" r="1.90" fill="none" stroke="#7fcc62" stroke-width="0.55" />
<circle cx="364.1" cy="757.2" r="1.90" fill="none" stroke="#7fcc62" stroke-width="0.55" />
<circle cx="381.2" cy="765.0" r="1.90" fill="none" stroke="#7fcc62" stroke-width="0.55" />
<circle cx="366.2" cy="764.4" r="1.90" fill="none" stroke="#7fcc62" stroke-width="0.55" />
<circle cx="381.3" cy="741.2" r="1.90" fill="none" stroke="#7fcc62" stroke-width="0.55" />
<circle cx="383.3" cy="763.7" r="1.90" fill="none" stroke="#7fcc62" stroke-width="0.55" />
<circle cx="376.8" cy="759.4" r="1.90" fill="none" stroke="#7fcc62" stroke-width="0.55" />
<circle cx="382.8" cy="764.4" r="1.90" fill="none" stroke="#7fcc62" stroke-width="0.55" />
<circle cx="383.4" cy="754.8" r="1.90" fill="none" stroke="#7fcc62" stroke-width="0.55" />
<circle cx="368.1" cy="746.0" r="1.90" fill="none" stroke="#7fcc62" stroke-width="0.55" />
<circle cx="365.0" cy="762.8" r="1.90" fill="none" stroke="#7fcc62" stroke-width="0.55" />
<circle cx="362.7" cy="764.8" r="1.90" fill="none" stroke="#7fcc62" stroke-width="0.55" />
<circle cx="375.1" cy="763.6" r="1.90" fill="none" stroke="#7fcc62" stroke-width="0.55" />
<circle cx="376.8" cy="765.0" r="1.90" fill="none" stroke="#7fcc62" stroke-width="0.55" />
<circle cx="368.3" cy="763.2" r="1.90" fill="none" stroke="#7fcc62" stroke-width="0.55" />
<circle cx="372.3" cy="749.6" r="1.90" fill="none" stroke="#7fcc62" stroke-width="0.55" />
<circle cx="372.3" cy="763.4" r="1.90" fill="none" stroke="#7fcc62" stroke-width="0.55" />
<circle cx="362.5" cy="754.3" r="1.90" fill="none" stroke="#7fcc62" stroke-width="0.55" />
<circle cx="361.7" cy="741.6" r="1.90" fill="none" stroke="#7fcc62" stroke-width="0.55" />
<circle cx="380.6" cy="752.6" r="1.90" fill="none" stroke="#7fcc62" stroke-width="0.55" />
<circle cx="379.3" cy="765.0" r="1.90" fill="none" stroke="#7fcc62" stroke-width="0.55" />
<circle cx="374.5" cy="762.8" r="1.90" fill="none" stroke="#7fcc62" stroke-width="0.55" />
<circle cx="362.3" cy="765.0" r="1.90" fill="none" stroke="#7fcc62" stroke-width="0.55" />
<circle cx="383.2" cy="764.6" r="1.90" fill="none" stroke="#7fcc62" stroke-width="0.55" />
<circle cx="378.6" cy="764.5" r="1.90" fill="none" stroke="#7fcc62" stroke-width="0.55" />
<circle cx="382.9" cy="744.1" r="1.90" fill="none" stroke="#7fcc62" stroke-width="0.55" />
<circle cx="369.4" cy="763.1" r="1.90" fill="none" stroke="#7fcc62" stroke-width="0.55" />
<circle cx="379.0" cy="759.7" r="1.90" fill="none" stroke="#7fcc62" stroke-width="0.55" />
<circle cx="378.4" cy="764.9" r="1.90" fill="none" stroke="#7fcc62" stroke-width="0.55" />
<circle cx="381.0" cy="750.6" r="1.90" fill="none" stroke="#7fcc62" stroke-width="0.55" />
<circle cx="383.0" cy="765.0" r="1.90" fill="none" stroke="#7fcc62" stroke-width="0.55" />
<circle cx="369.0" cy="764.9" r="1.90" fill="none" stroke="#7fcc62" stroke-width="0.55" />
<circle cx="382.3" cy="757.4" r="1.90" fill="none" stroke="#7fcc62" stroke-width="0.55" />
<circle cx="382.5" cy="763.1" r="1.90" fill="none" stroke="#7fcc62" stroke-width="0.55" />
<circle cx="368.4" cy="759.2" r="1.90" fill="none" stroke="#7fcc62" stroke-width="0.55" />
<circle cx="365.3" cy="763.4" r="1.90" fill="none" stroke="#7fcc62" stroke-width="0.55" />
<circle cx="364.6" cy="764.9" r="1.90" fill="none" stroke="#7fcc62" stroke-width="0.55" />
<circle cx="384.1" cy="754.8" r="1.90" fill="none" stroke="#7fcc62" stroke-width="0.55" />
<circle cx="362.3" cy="764.7" r="1.90" fill="none" stroke="#7fcc62" stroke-width="0.55" />
<circle cx="373.5" cy="740.9" r="1.90" fill="none" stroke="#7fcc62" stroke-width="0.55" />
<circle cx="366.7" cy="762.1" r="1.90" fill="none" stroke="#7fcc62" stroke-width="0.55" />
<circle cx="380.2" cy="757.9" r="1.90" fill="none" stroke="#7fcc62" stroke-width="0.55" />
<circle cx="370.9" cy="761.2" r="1.90" fill="none" stroke="#7fcc62" stroke-width="0.55" />
<circle cx="382.3" cy="765.0" r="1.90" fill="none" stroke="#7fcc62" stroke-width="0.55" />
<circle cx="372.6" cy="765.0" r="1.90" fill="none" stroke="#7fcc62" stroke-width="0.55" />
<circle cx="364.2" cy="748.7" r="1.90" fill="none" stroke="#7fcc62" stroke-width="0.55" />
<circle cx="383.0" cy="753.3" r="1.90" fill="none" stroke="#7fcc62" stroke-width="0.55" />
<circle cx="379.3" cy="756.8" r="1.90" fill="none" stroke="#7fcc62" stroke-width="0.55" />
<circle cx="371.2" cy="764.9" r="1.90" fill="none" stroke="#7fcc62" stroke-width="0.55" />
<circle cx="380.6" cy="764.7" r="1.90" fill="none" stroke="#7fcc62" stroke-width="0.55" />
<circle cx="371.6" cy="763.7" r="1.90" fill="none" stroke="#7fcc62" stroke-width="0.55" />
<circle cx="380.8" cy="740.2" r="1.90" fill="none" stroke="#7fcc62" stroke-width="0.55" />
<circle cx="371.6" cy="741.6" r="1.90" fill="none" stroke="#7fcc62" stroke-width="0.55" />
<circle cx="378.0" cy="760.6" r="1.90" fill="none" stroke="#7fcc62" stroke-width="0.55" />
<circle cx="367.9" cy="760.8" r="1.90" fill="none" stroke="#7fcc62" stroke-width="0.55" />
<circle cx="364.6" cy="762.2" r="1.90" fill="none" stroke="#7fcc62" stroke-width="0.55" />
<circle cx="383.9" cy="762.6" r="1.90" fill="none" stroke="#7fcc62" stroke-width="0.55" />
<circle cx="375.6" cy="742.5" r="1.90" fill="none" stroke="#7fcc62" stroke-width="0.55" />
<circle cx="369.0" cy="760.3" r="1.90" fill="none" stroke="#7fcc62" stroke-width="0.55" />
<circle cx="367.5" cy="764.9" r="1.90" fill="none" stroke="#7fcc62" stroke-width="0.55" />
<circle cx="381.1" cy="751.2" r="1.90" fill="none" stroke="#7fcc62" stroke-width="0.55" />
<circle cx="379.3" cy="762.8" r="1.90" fill="none" stroke="#7fcc62" stroke-width="0.55" />
<circle cx="377.2" cy="751.5" r="1.90" fill="none" stroke="#7fcc62" stroke-width="0.55" />
<circle cx="378.7" cy="755.7" r="1.90" fill="none" stroke="#7fcc62" stroke-width="0.55" />
<circle cx="377.4" cy="762.8" r="1.90" fill="none" stroke="#7fcc62" stroke-width="0.55" />
<circle cx="372.4" cy="763.8" r="1.90" fill="none" stroke="#7fcc62" stroke-width="0.55" />
<circle cx="377.1" cy="751.7" r="1.90" fill="none" stroke="#7fcc62" stroke-width="0.55" />
<circle cx="382.9" cy="763.7" r="1.90" fill="none" stroke="#7fcc62" stroke-width="0.55" />
<circle cx="374.6" cy="756.2" r="1.90" fill="none" stroke="#7fcc62" stroke-width="0.55" />
<circle cx="373.8" cy="765.0" r="1.90" fill="none" stroke="#7fcc62" stroke-width="0.55" />
<circle cx="376.6" cy="764.1" r="1.90" fill="none" stroke="#7fcc62" stroke-width="0.55" />
<circle cx="380.0" cy="761.1" r="1.90" fill="none" stroke="#7fcc62" stroke-width="0.55" />
<circle cx="379.5" cy="756.2" r="1.90" fill="none" stroke="#7fcc62" stroke-width="0.55" />
<circle cx="376.0" cy="763.0" r="1.90" fill="none" stroke="#7fcc62" stroke-width="0.55" />
<circle cx="380.2" cy="753.0" r="1.90" fill="none" stroke="#7fcc62" stroke-width="0.55" />
<circle cx="380.6" cy="763.0" r="1.90" fill="none" stroke="#7fcc62" stroke-width="0.55" />
<circle cx="377.0" cy="747.2" r="1.90" fill="none" stroke="#7fcc62" stroke-width="0.55" />
<circle cx="383.2" cy="741.6" r="1.90" fill="none" stroke="#7fcc62" stroke-width="0.55" />
<circle cx="373.4" cy="759.9" r="1.90" fill="none" stroke="#7fcc62" stroke-width="0.55" />
<circle cx="380.4" cy="764.7" r="1.90" fill="none" stroke="#7fcc62" stroke-width="0.55" />
<circle cx="372.2" cy="743.7" r="1.90" fill="none" stroke="#7fcc62" stroke-width="0.55" />
<circle cx="377.8" cy="754.8" r="1.90" fill="none" stroke="#7fcc62" stroke-width="0.55" />
<circle cx="365.2" cy="753.3" r="1.90" fill="none" stroke="#7fcc62" stroke-width="0.55" />
<circle cx="374.6" cy="751.3" r="1.90" fill="none" stroke="#7fcc62" stroke-width="0.55" />
<circle cx="370.9" cy="755.7" r="1.90" fill="none" stroke="#7fcc62" stroke-width="0.55" />
<circle cx="379.0" cy="757.0" r="1.90" fill="none" stroke="#7fcc62" stroke-width="0.55" />
<circle cx="377.8" cy="756.6" r="1.90" fill="none" stroke="#7fcc62" stroke-width="0.55" />
<circle cx="364.9" cy="765.0" r="1.90" fill="none" stroke="#7fcc62" stroke-width="0.55" />
<circle cx="376.2" cy="761.5" r="1.90" fill="none" stroke="#7fcc62" stroke-width="0.55" />
<circle cx="377.0" cy="764.4" r="1.90" fill="none" stroke="#7fcc62" stroke-width="0.55" />
<circle cx="362.2" cy="756.8" r="1.90" fill="none" stroke="#7fcc62" stroke-width="0.55" />
<circle cx="366.4" cy="760.9" r="1.90" fill="none" stroke="#7fcc62" stroke-width="0.55" />
<circle cx="364.3" cy="765.0" r="1.90" fill="none" stroke="#7fcc62" stroke-width="0.55" />
<circle cx="365.4" cy="763.4" r="1.90" fill="none" stroke="#7fcc62" stroke-width="0.55" />
<circle cx="362.0" cy="764.5" r="1.90" fill="none" stroke="#7fcc62" stroke-width="0.55" />
<circle cx="369.9" cy="761.0" r="1.90" fill="none" stroke="#7fcc62" stroke-width="0.55" />
<circle cx="374.8" cy="757.4" r="1.90" fill="none" stroke="#7fcc62" stroke-width="0.55" />
<circle cx="382.0" cy="764.2" r="1.90" fill="none" stroke="#7fcc62" stroke-width="0.55" />
<circle cx="370.5" cy="765.0" r="1.90" fill="none" stroke="#7fcc62" stroke-width="0.55" />
<circle cx="370.6" cy="763.8" r="1.90" fill="none" stroke="#7fcc62" stroke-width="0.55" />
<circle cx="380.3" cy="764.9" r="1.90" fill="none" stroke="#7fcc62" stroke-width="0.55" />
<circle cx="362.0" cy="762.7" r="1.90" fill="none" stroke="#7fcc62" stroke-width="0.55" />
<circle cx="363.4" cy="757.3" r="1.90" fill="none" stroke="#7fcc62" stroke-width="0.55" />
<circle cx="369.0" cy="759.2" r="1.90" fill="none" stroke="#7fcc62" stroke-width="0.55" />
<circle cx="383.2" cy="758.3" r="1.90" fill="none" stroke="#7fcc62" stroke-width="0.55" />
<circle cx="370.8" cy="749.6" r="1.90" fill="none" stroke="#7fcc62" stroke-width="0.55" />
<circle cx="376.0" cy="749.9" r="1.90" fill="none" stroke="#7fcc62" stroke-width="0.55" />
<circle cx="364.5" cy="762.7" r="1.90" fill="none" stroke="#7fcc62" stroke-width="0.55" />
<circle cx="374.2" cy="757.8" r="1.90" fill="none" stroke="#7fcc62" stroke-width="0.55" />
<circle cx="383.5" cy="742.6" r="1.90" fill="none" stroke="#7fcc62" stroke-width="0.55" />
<circle cx="369.3" cy="757.5" r="1.90" fill="none" stroke="#7fcc62" stroke-width="0.55" />
<circle cx="361.2" cy="746.0" r="1.90" fill="none" stroke="#7fcc62" stroke-width="0.55" />
<circle cx="374.2" cy="764.9" r="1.90" fill="none" stroke="#7fcc62" stroke-width="0.55" />
<circle cx="364.4" cy="757.3" r="1.90" fill="none" stroke="#7fcc62" stroke-width="0.55" />
<circle cx="378.3" cy="591.1" r="1.90" fill="none" stroke="#6bbd45" stroke-width="0.6" />
<circle cx="371.0" cy="697.1" r="1.90" fill="none" stroke="#6bbd45" stroke-width="0.6" />
<circle cx="363.4" cy="718.6" r="1.90" fill="none" stroke="#6bbd45" stroke-width="0.6" />
<circle cx="363.0" cy="731.9" r="1.90" fill="none" stroke="#6bbd45" stroke-width="0.6" />
<circle cx="377.0" cy="730.2" r="1.90" fill="none" stroke="#6bbd45" stroke-width="0.6" />
<circle cx="380.0" cy="730.2" r="1.90" fill="none" stroke="#6bbd45" stroke-width="0.6" />
<circle cx="367.0" cy="733.5" r="1.90" fill="none" stroke="#6bbd45" stroke-width="0.6" />
<circle cx="376.0" cy="735.2" r="1.90" fill="none" stroke="#6bbd45" stroke-width="0.6" />
<circle cx="378.0" cy="738.5" r="1.90" fill="none" stroke="#6bbd45" stroke-width="0.6" />
<circle cx="454.6" cy="760.5" r="1.90" fill="none" stroke="#d7cb7a" stroke-width="0.55" />
<circle cx="444.5" cy="764.1" r="1.90" fill="none" stroke="#d7cb7a" stroke-width="0.55" />
<circle cx="441.4" cy="764.8" r="1.90" fill="none" stroke="#d7cb7a" stroke-width="0.55" />
<circle cx="443.4" cy="746.8" r="1.90" fill="none" stroke="#d7cb7a" stroke-width="0.55" />
<circle cx="455.1" cy="747.5" r="1.90" fill="none" stroke="#d7cb7a" stroke-width="0.55" />
<circle cx="440.7" cy="761.2" r="1.90" fill="none" stroke="#d7cb7a" stroke-width="0.55" />
<circle cx="445.9" cy="746.3" r="1.90" fill="none" stroke="#d7cb7a" stroke-width="0.55" />
<circle cx="442.0" cy="763.8" r="1.90" fill="none" stroke="#d7cb7a" stroke-width="0.55" />
<circle cx="445.8" cy="746.1" r="1.90" fill="none" stroke="#d7cb7a" stroke-width="0.55" />
<circle cx="445.5" cy="764.6" r="1.90" fill="none" stroke="#d7cb7a" stroke-width="0.55" />
<circle cx="448.7" cy="765.0" r="1.90" fill="none" stroke="#d7cb7a" stroke-width="0.55" />
<circle cx="441.4" cy="763.5" r="1.90" fill="none" stroke="#d7cb7a" stroke-width="0.55" />
<circle cx="453.2" cy="756.0" r="1.90" fill="none" stroke="#d7cb7a" stroke-width="0.55" />
<circle cx="446.7" cy="765.0" r="1.90" fill="none" stroke="#d7cb7a" stroke-width="0.55" />
<circle cx="455.6" cy="764.7" r="1.90" fill="none" stroke="#d7cb7a" stroke-width="0.55" />
<circle cx="440.4" cy="756.0" r="1.90" fill="none" stroke="#d7cb7a" stroke-width="0.55" />
<circle cx="438.4" cy="764.7" r="1.90" fill="none" stroke="#d7cb7a" stroke-width="0.55" />
<circle cx="441.5" cy="745.8" r="1.90" fill="none" stroke="#d7cb7a" stroke-width="0.55" />
<circle cx="445.4" cy="761.0" r="1.90" fill="none" stroke="#d7cb7a" stroke-width="0.55" />
<circle cx="448.3" cy="760.1" r="1.90" fill="none" stroke="#d7cb7a" stroke-width="0.55" />
<circle cx="437.6" cy="757.3" r="1.90" fill="none" stroke="#d7cb7a" stroke-width="0.55" />
<circle cx="441.6" cy="756.7" r="1.90" fill="none" stroke="#d7cb7a" stroke-width="0.55" />
<circle cx="442.4" cy="762.3" r="1.90" fill="none" stroke="#d7cb7a" stroke-width="0.55" />
<circle cx="446.7" cy="764.6" r="1.90" fill="none" stroke="#d7cb7a" stroke-width="0.55" />
<circle cx="442.9" cy="763.3" r="1.90" fill="none" stroke="#d7cb7a" stroke-width="0.55" />
<circle cx="448.0" cy="757.3" r="1.90" fill="none" stroke="#d7cb7a" stroke-width="0.55" />
<circle cx="440.6" cy="765.0" r="1.90" fill="none" stroke="#d7cb7a" stroke-width="0.55" />
<circle cx="455.2" cy="763.4" r="1.90" fill="none" stroke="#d7cb7a" stroke-width="0.55" />
<circle cx="447.0" cy="751.4" r="1.90" fill="none" stroke="#d7cb7a" stroke-width="0.55" />
<circle cx="452.1" cy="765.0" r="1.90" fill="none" stroke="#d7cb7a" stroke-width="0.55" />
<circle cx="447.7" cy="763.7" r="1.90" fill="none" stroke="#d7cb7a" stroke-width="0.55" />
<circle cx="448.9" cy="758.4" r="1.90" fill="none" stroke="#d7cb7a" stroke-width="0.55" />
<circle cx="455.1" cy="763.1" r="1.90" fill="none" stroke="#d7cb7a" stroke-width="0.55" />
<circle cx="443.6" cy="764.1" r="1.90" fill="none" stroke="#d7cb7a" stroke-width="0.55" />
<circle cx="439.3" cy="753.1" r="1.90" fill="none" stroke="#d7cb7a" stroke-width="0.55" />
<circle cx="453.3" cy="764.6" r="1.90" fill="none" stroke="#d7cb7a" stroke-width="0.55" />
<circle cx="453.4" cy="765.0" r="1.90" fill="none" stroke="#d7cb7a" stroke-width="0.55" />
<circle cx="444.5" cy="758.8" r="1.90" fill="none" stroke="#d7cb7a" stroke-width="0.55" />
<circle cx="452.2" cy="764.6" r="1.90" fill="none" stroke="#d7cb7a" stroke-width="0.55" />
<circle cx="438.1" cy="750.3" r="1.90" fill="none" stroke="#d7cb7a" stroke-width="0.55" />
<circle cx="447.1" cy="763.1" r="1.90" fill="none" stroke="#d7cb7a" stroke-width="0.55" />
<circle cx="442.3" cy="762.9" r="1.90" fill="none" stroke="#d7cb7a" stroke-width="0.55" />
<circle cx="447.9" cy="765.0" r="1.90" fill="none" stroke="#d7cb7a" stroke-width="0.55" />
<circle cx="436.5" cy="754.8" r="1.90" fill="none" stroke="#d7cb7a" stroke-width="0.55" />
<circle cx="453.0" cy="764.8" r="1.90" fill="none" stroke="#d7cb7a" stroke-width="0.55" />
<circle cx="449.6" cy="755.6" r="1.90" fill="none" stroke="#d7cb7a" stroke-width="0.55" />
<circle cx="450.9" cy="765.0" r="1.90" fill="none" stroke="#d7cb7a" stroke-width="0.55" />
<circle cx="457.0" cy="746.5" r="1.90" fill="none" stroke="#d7cb7a" stroke-width="0.55" />
<circle cx="436.1" cy="758.6" r="1.90" fill="none" stroke="#d7cb7a" stroke-width="0.55" />
<circle cx="439.8" cy="753.5" r="1.90" fill="none" stroke="#d7cb7a" stroke-width="0.55" />
<circle cx="455.9" cy="760.1" r="1.90" fill="none" stroke="#d7cb7a" stroke-width="0.55" />
<circle cx="438.0" cy="758.3" r="1.90" fill="none" stroke="#d7cb7a" stroke-width="0.55" />
<circle cx="455.2" cy="764.6" r="1.90" fill="none" stroke="#d7cb7a" stroke-width="0.55" />
<circle cx="448.4" cy="765.0" r="1.90" fill="none" stroke="#d7cb7a" stroke-width="0.55" />
<circle cx="438.5" cy="763.8" r="1.90" fill="none" stroke="#d7cb7a" stroke-width="0.55" />
<circle cx="451.3" cy="731.9" r="1.90" fill="none" stroke="#d7cb7a" stroke-width="0.6" />
<circle cx="441.0" cy="741.8" r="1.90" fill="none" stroke="#d7cb7a" stroke-width="0.6" />
<circle cx="452.0" cy="743.5" r="1.90" fill="none" stroke="#d7cb7a" stroke-width="0.6" />
<circle cx="448.0" cy="746.8" r="1.90" fill="none" stroke="#d7cb7a" stroke-width="0.6" />
<circle cx="440.0" cy="751.8" r="1.90" fill="none" stroke="#d7cb7a" stroke-width="0.6" />
<circle cx="454.0" cy="750.1" r="1.90" fill="none" stroke="#d7cb7a" stroke-width="0.6" />
<line x1="372.7" y1="750.1" x2="372.7" y2="731.9" stroke="#222" stroke-width="0.8" />
<line x1="372.7" y1="763.3" x2="372.7" y2="765.0" stroke="#222" stroke-width="0.8" />
<rect x="363.2" y="750.1" width="19.0" height="13.2" fill="none" stroke="#222" stroke-width="0.8" />
<line x1="363.2" y1="759.2" x2="382.2" y2="759.2" stroke="#222" stroke-width="0.8" />
<line x1="363.2" y1="759.2" x2="382.2" y2="759.2" stroke="#222" stroke-width="1.6" />
<line x1="446.0" y1="760.0" x2="446.0" y2="757.5" stroke="#222" stroke-width="0.8" />
<line x1="446.0" y1="764.2" x2="446.0" y2="765.0" stroke="#222" stroke-width="0.8" />
<rect x="436.5" y="760.0" width="19.0" height="4.1" fill="none" stroke="#222" stroke-width="0.8" />
<line x1="436.5" y1="762.5" x2="455.5" y2="762.5" stroke="#222" stroke-width="0.8" />
<line x1="436.5" y1="762.5" x2="455.5" y2="762.5" stroke="#222" stroke-width="1.6" />
<line x1="314.5" y1="762.5" x2="333.5" y2="762.5" stroke="#222" stroke-width="1.6" />
<line x1="338.4" y1="765.0" x2="357.4" y2="765.0" stroke="#222" stroke-width="1.6" />
<line x1="387.7" y1="753.4" x2="406.7" y2="753.4" stroke="#222" stroke-width="1.6" />
<line x1="412.2" y1="765.0" x2="431.2" y2="765.0" stroke="#222" stroke-width="1.6" />
<circle cx="329.0" cy="738.5" r="1.90" fill="none" stroke="#e0534d" stroke-width="0.6" />
<circle cx="318.5" cy="762.5" r="1.90" fill="none" stroke="#e0534d" stroke-width="0.6" />
<circle cx="325.0" cy="763.0" r="1.90" fill="none" stroke="#e0534d" stroke-width="0.6" />
<circle cx="329.0" cy="762.5" r="1.90" fill="none" stroke="#e0534d" stroke-width="0.6" />
<circle cx="343.0" cy="765.0" r="1.60" fill="none" stroke="#6d8fd0" stroke-width="0.6" />
<circle cx="353.0" cy="765.0" r="1.60" fill="none" stroke="#6d8fd0" stroke-width="0.6" />
<circle cx="397.2" cy="753.4" r="1.60" fill="none" stroke="#9b59c9" stroke-width="0.6" />
<circle cx="421.7" cy="765.0" r="1.60" fill="none" stroke="#e8893a" stroke-width="0.6" />
<text x="311.0" y="576.0" font-size="8.4" fill="#111" text-anchor="start" font-weight="bold" >ANOVA, <tspan font-style="italic">P</tspan> = 0.033</text>
<line x1="376.0" y1="585.5" x2="447.9" y2="585.5" stroke="#333" stroke-width="1" />
<text x="411.8" y="583.3" font-size="8.5" fill="#222" text-anchor="middle" font-weight="bold" >0.011</text>
<text x="287.0" y="679.0" font-size="10.0" fill="#222" text-anchor="middle" font-weight="normal" transform="rotate(-90 287 679)" >Transitional Index (I<tspan font-size="6.8" dy="2">TRAN</tspan><tspan dy="-2">)</tspan></text>
<line x1="519.4" y1="585.0" x2="519.4" y2="792.0" stroke="#222" stroke-width="0.9" />
<line x1="519.4" y1="792.0" x2="672.5" y2="792.0" stroke="#222" stroke-width="0.9" />
<line x1="517.0" y1="783.3" x2="519.4" y2="783.3" stroke="#333" stroke-width="0.6" />
<text x="517.0" y="785.6" font-size="6.5" fill="#555" text-anchor="end" font-weight="normal" >0.00</text>
<line x1="517.0" y1="734.1" x2="519.4" y2="734.1" stroke="#333" stroke-width="0.6" />
<text x="517.0" y="736.4" font-size="6.5" fill="#555" text-anchor="end" font-weight="normal" >0.25</text>
<line x1="517.0" y1="684.9" x2="519.4" y2="684.9" stroke="#333" stroke-width="0.6" />
<text x="517.0" y="687.2" font-size="6.5" fill="#555" text-anchor="end" font-weight="normal" >0.50</text>
<line x1="517.0" y1="635.7" x2="519.4" y2="635.7" stroke="#333" stroke-width="0.6" />
<text x="517.0" y="638.0" font-size="6.5" fill="#555" text-anchor="end" font-weight="normal" >0.75</text>
<line x1="517.0" y1="586.5" x2="519.4" y2="586.5" stroke="#333" stroke-width="0.6" />
<text x="517.0" y="588.8" font-size="6.5" fill="#555" text-anchor="end" font-weight="normal" >1.00</text>
<circle cx="543.9" cy="609.5" r="3.20" fill="none" stroke="#c0293c" stroke-width="0.7" />
<circle cx="545.5" cy="624.3" r="3.20" fill="none" stroke="#c0293c" stroke-width="0.7" />
<circle cx="537.6" cy="652.5" r="3.20" fill="none" stroke="#c0293c" stroke-width="0.7" />
<circle cx="540.8" cy="663.5" r="3.20" fill="none" stroke="#c0293c" stroke-width="0.7" />
<circle cx="546.4" cy="678.5" r="3.20" fill="none" stroke="#c0293c" stroke-width="0.7" />
<circle cx="543.3" cy="697.3" r="3.20" fill="none" stroke="#c0293c" stroke-width="0.7" />
<circle cx="540.8" cy="746.6" r="3.20" fill="none" stroke="#c0293c" stroke-width="0.7" />
<circle cx="539.2" cy="751.3" r="3.20" fill="none" stroke="#c0293c" stroke-width="0.7" />
<circle cx="542.3" cy="757.5" r="3.20" fill="none" stroke="#c0293c" stroke-width="0.7" />
<circle cx="537.6" cy="762.3" r="3.20" fill="none" stroke="#c0293c" stroke-width="0.7" />
<circle cx="545.5" cy="776.4" r="3.20" fill="none" stroke="#c0293c" stroke-width="0.7" />
<circle cx="580.0" cy="595.4" r="3.20" fill="none" stroke="#a98cf2" stroke-width="0.7" />
<circle cx="573.7" cy="600.8" r="3.20" fill="none" stroke="#a98cf2" stroke-width="0.7" />
<circle cx="575.3" cy="607.7" r="3.20" fill="none" stroke="#a98cf2" stroke-width="0.7" />
<circle cx="580.9" cy="611.7" r="3.20" fill="none" stroke="#a98cf2" stroke-width="0.7" />
<circle cx="573.7" cy="618.0" r="3.20" fill="none" stroke="#a98cf2" stroke-width="0.7" />
<circle cx="580.9" cy="625.8" r="3.20" fill="none" stroke="#a98cf2" stroke-width="0.7" />
<circle cx="575.3" cy="635.3" r="3.20" fill="none" stroke="#a98cf2" stroke-width="0.7" />
<circle cx="582.2" cy="694.8" r="3.20" fill="none" stroke="#a98cf2" stroke-width="0.7" />
<circle cx="582.2" cy="702.7" r="3.20" fill="none" stroke="#a98cf2" stroke-width="0.7" />
<circle cx="578.4" cy="710.5" r="3.20" fill="none" stroke="#a98cf2" stroke-width="0.7" />
<circle cx="575.9" cy="723.7" r="3.20" fill="none" stroke="#a98cf2" stroke-width="0.7" />
<circle cx="583.1" cy="746.0" r="3.20" fill="none" stroke="#a98cf2" stroke-width="0.7" />
<circle cx="576.8" cy="766.3" r="3.20" fill="none" stroke="#a98cf2" stroke-width="0.7" />
<circle cx="611.3" cy="751.3" r="3.20" fill="none" stroke="#3e9e2f" stroke-width="0.7" />
<circle cx="614.5" cy="763.8" r="3.20" fill="none" stroke="#3e9e2f" stroke-width="0.7" />
<circle cx="608.2" cy="768.5" r="3.20" fill="none" stroke="#3e9e2f" stroke-width="0.7" />
<circle cx="612.9" cy="776.4" r="3.20" fill="none" stroke="#3e9e2f" stroke-width="0.7" />
<circle cx="616.0" cy="782.6" r="3.20" fill="none" stroke="#3e9e2f" stroke-width="0.7" />
<circle cx="618.0" cy="771.0" r="3.20" fill="none" stroke="#3e9e2f" stroke-width="0.7" />
<circle cx="610.0" cy="773.0" r="3.20" fill="none" stroke="#3e9e2f" stroke-width="0.7" />
<circle cx="620.0" cy="778.0" r="3.20" fill="none" stroke="#3e9e2f" stroke-width="0.7" />
<circle cx="607.0" cy="776.0" r="3.20" fill="none" stroke="#3e9e2f" stroke-width="0.7" />
<circle cx="647.4" cy="779.4" r="3.20" fill="none" stroke="#2c0fa3" stroke-width="0.7" />
<line x1="541.4" y1="663.3" x2="541.4" y2="609.1" stroke="#c0293c" stroke-width="1.7" />
<line x1="541.4" y1="755.7" x2="541.4" y2="776.4" stroke="#c0293c" stroke-width="1.7" />
<rect x="532.0" y="663.3" width="18.8" height="92.5" fill="none" stroke="#c0293c" stroke-width="1.7" />
<line x1="532.0" y1="746.5" x2="550.8" y2="746.5" stroke="#c0293c" stroke-width="2.72" />
<line x1="577.8" y1="613.1" x2="577.8" y2="596.3" stroke="#a98cf2" stroke-width="1.7" />
<line x1="577.8" y1="704.6" x2="577.8" y2="767.6" stroke="#a98cf2" stroke-width="1.7" />
<rect x="568.4" y="613.1" width="18.8" height="91.5" fill="none" stroke="#a98cf2" stroke-width="1.7" />
<line x1="568.4" y1="623.9" x2="587.2" y2="623.9" stroke="#a98cf2" stroke-width="2.72" />
<line x1="614.5" y1="770.5" x2="614.5" y2="757.7" stroke="#3e9e2f" stroke-width="1.3" />
<line x1="614.5" y1="778.4" x2="614.5" y2="783.3" stroke="#3e9e2f" stroke-width="1.3" />
<rect x="605.1" y="770.5" width="18.8" height="7.9" fill="none" stroke="#3e9e2f" stroke-width="1.3" />
<line x1="605.1" y1="775.4" x2="623.9" y2="775.4" stroke="#3e9e2f" stroke-width="2.08" />
<circle cx="614.5" cy="751.8" r="0.90" fill="#3e9e2f" stroke="none" stroke-width="1" />
<line x1="641.0" y1="779.4" x2="660.0" y2="779.4" stroke="#2c0fa3" stroke-width="2.6" />
<line x1="539.2" y1="568.5" x2="619.2" y2="568.5" stroke="#555" stroke-width="1" />
<text x="580.0" y="566.8" font-size="9.0" fill="#222" text-anchor="middle" font-weight="bold" >0.002</text>
<line x1="539.2" y1="589.5" x2="577.8" y2="589.5" stroke="#333" stroke-width="1" />
<text x="558.5" y="586.8" font-size="9.0" fill="#222" text-anchor="middle" font-weight="bold" >0.01</text>
<line x1="580.0" y1="580.5" x2="619.2" y2="580.5" stroke="#333" stroke-width="1" />
<text x="599.7" y="582.0" font-size="12" fill="#222" text-anchor="middle" font-weight="bold" >****</text>
<text x="596.6" y="598.0" font-size="8.6" fill="#111" text-anchor="start" font-weight="bold" >ANOVA, <tspan font-style="italic">P</tspan> = 5.8e-8</text>
<text x="540.8" y="803.5" font-size="9.7" fill="#555" text-anchor="middle" font-weight="normal" >EFF</text>
<text x="577.8" y="803.5" font-size="9.7" fill="#555" text-anchor="middle" font-weight="normal" >MEM</text>
<text x="614.5" y="803.5" font-size="9.7" fill="#555" text-anchor="middle" font-weight="normal" >NAIVE</text>
<text x="651.1" y="803.5" font-size="9.7" fill="#555" text-anchor="middle" font-weight="normal" >MAIT</text>
<text x="595.6" y="813.3" font-size="9.9" fill="#222" text-anchor="middle" font-weight="normal" >Phenotype</text>
<text x="489.3" y="690.5" font-size="9.9" fill="#222" text-anchor="middle" font-weight="normal" transform="rotate(-90 489.3 690.5)" >Freq of COV−S−082 specific cells</text>
<text x="499.8" y="690.5" font-size="9.9" fill="#222" text-anchor="middle" font-weight="normal" transform="rotate(-90 499.8 690.5)" >in Phenotype</text>
</svg></body></html>
